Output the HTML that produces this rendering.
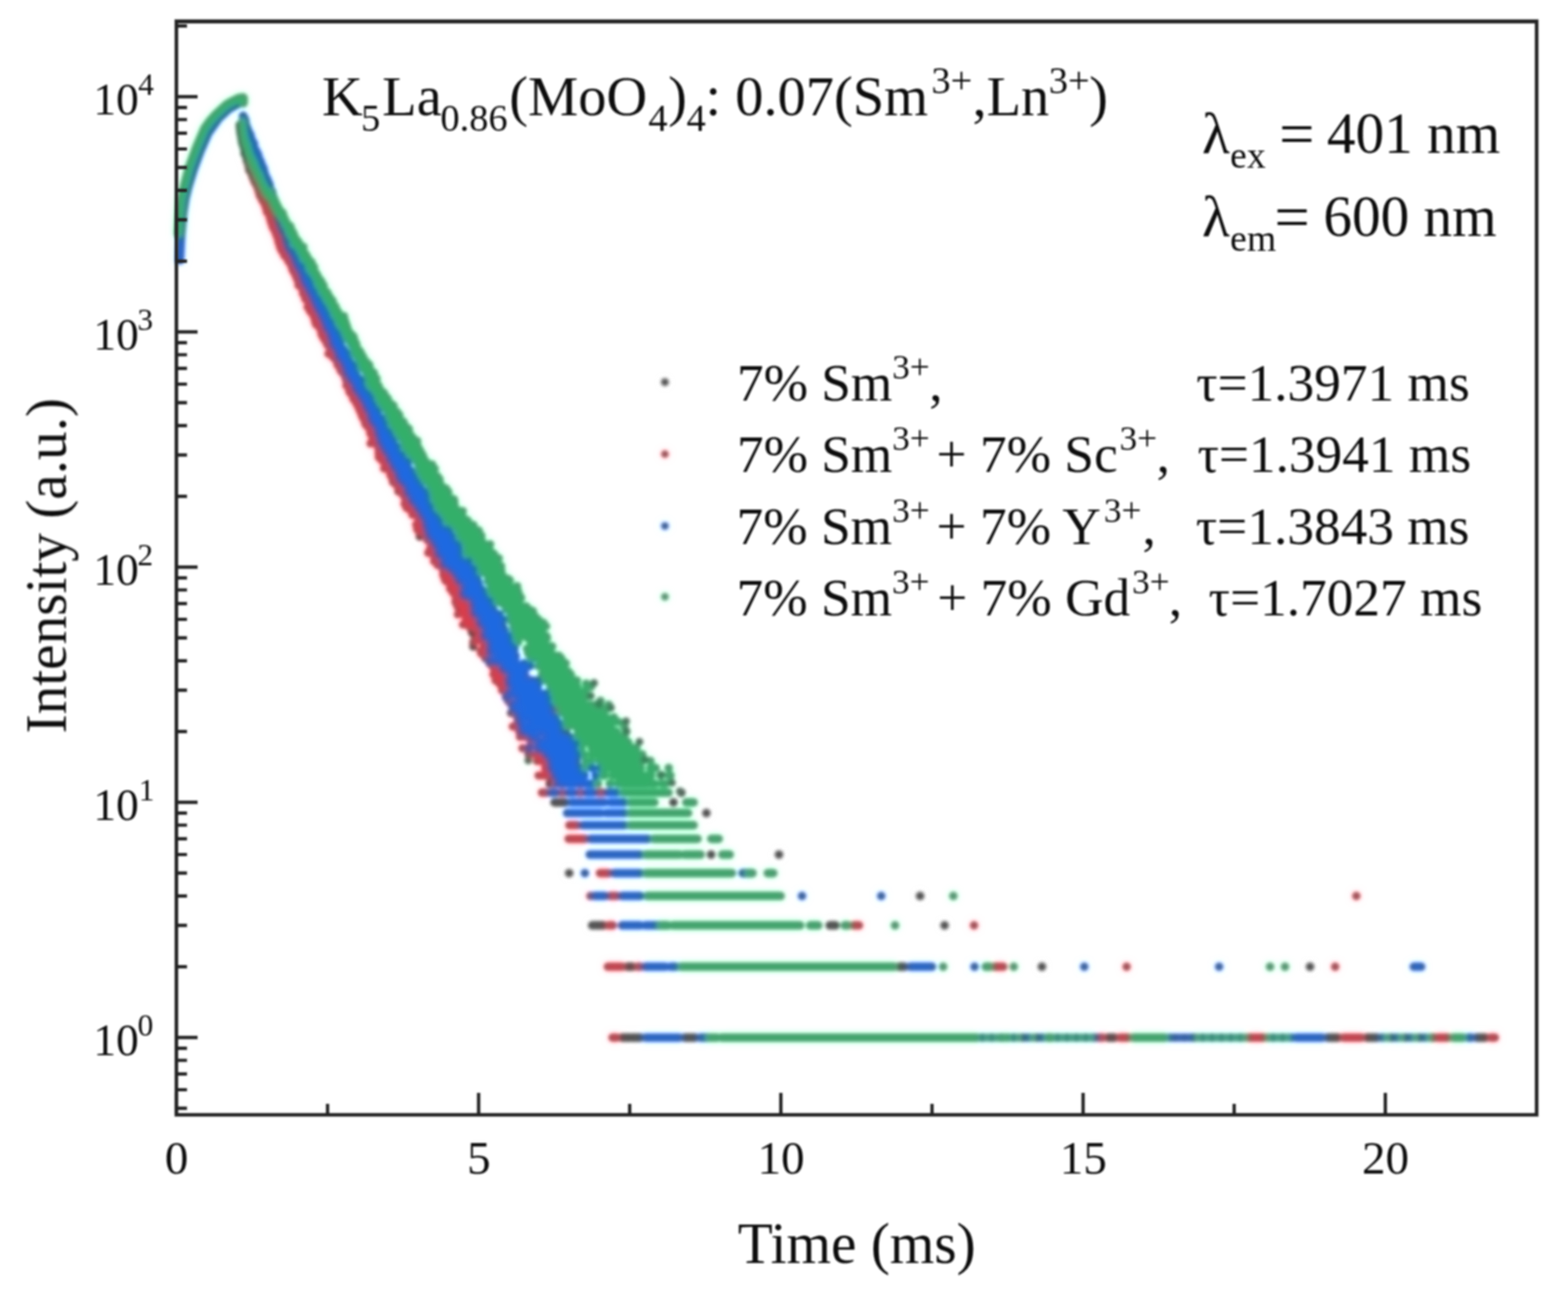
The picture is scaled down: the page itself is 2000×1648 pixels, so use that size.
<!DOCTYPE html>
<html><head><meta charset="utf-8"><title>Decay curves</title>
<style>html,body{margin:0;padding:0;background:#fff;overflow:hidden;}svg{display:block;}</style></head>
<body><svg width="2000" height="1648" viewBox="0 0 2000 1648">
<rect width="2000" height="1648" fill="#fff"/>
<defs><filter id="bd" filterUnits="userSpaceOnUse" x="-60" y="-60" width="2120" height="1768" color-interpolation-filters="sRGB"><feFlood flood-color="#fff" result="w"/><feComposite in="SourceGraphic" in2="w" operator="over" result="A"/><feGaussianBlur in="A" stdDeviation="2.2" result="As"/><feGaussianBlur in="A" stdDeviation="5" result="B"/><feColorMatrix in="As" type="matrix" values=".299 .587 .114 0 0 .299 .587 .114 0 0 .299 .587 .114 0 0 0 0 0 1 0" result="LA"/><feColorMatrix in="B" type="matrix" values="-.299 -.587 -.114 0 1 -.299 -.587 -.114 0 1 -.299 -.587 -.114 0 1 0 0 0 1 0" result="LBi"/><feComposite in="B" in2="LBi" operator="arithmetic" k1="0" k2="0.5" k3="0.5" k4="0" result="C"/><feComposite in="C" in2="LA" operator="arithmetic" k1="0" k2="2" k3="1" k4="-1"/></filter><filter id="bt" x="-2%" y="-2%" width="104%" height="104%"><feGaussianBlur stdDeviation="0.9"/></filter></defs>
<g id="data" filter="url(#bd)"><path d="M228.5,300.0 L230.0,275.0 L232.0,255.0 L236.0,237.0 L242.5,214.0 L251.5,190.0 L262.0,166.0 L276.0,147.0 L291.0,135.0 L306.0,129.0" fill="none" stroke="#555555" stroke-width="11" stroke-linecap="round" stroke-linejoin="round"/>
<path d="M306.0 159.4h0M306.1 159.9h0M306.3 163.4h0M306.5 162.2h0M306.6 165.9h0M306.8 167.3h0M307.1 170.1h0M307.2 169.3h0M307.4 171.3h0M307.5 171.6h0M307.7 172.8h0M307.9 172.5h0M308.0 174.6h0M308.2 172.9h0M308.3 176.4h0M308.6 175.8h0M308.8 179.8h0M308.9 177.7h0M309.1 179.0h0M309.2 182.4h0M309.4 180.4h0M309.6 178.5h0M309.7 180.3h0M309.9 180.6h0M310.0 182.3h0M310.2 183.1h0M310.3 178.3h0M310.5 183.0h0M310.6 182.3h0M310.8 187.3h0M310.9 185.4h0M311.1 186.1h0M311.2 184.6h0M311.4 187.2h0M311.6 188.7h0M311.9 190.3h0M312.0 195.6h0M312.2 191.0h0M312.3 188.9h0M312.5 191.3h0M312.6 193.1h0M312.8 191.5h0M312.9 195.6h0M313.1 192.3h0M313.2 195.1h0M313.4 193.6h0M313.6 194.6h0M313.7 198.1h0M313.9 198.9h0M314.0 193.7h0M314.2 199.0h0M314.3 194.6h0M314.5 199.2h0M314.6 198.6h0M314.8 200.8h0M314.9 201.5h0M315.1 205.1h0M315.2 202.1h0M315.4 204.2h0M315.6 202.4h0M315.7 203.2h0M315.9 205.4h0M316.0 206.8h0M316.3 203.8h0M316.5 205.8h0M316.6 206.3h0M316.8 208.3h0M317.1 207.3h0M317.3 212.3h0M317.4 207.4h0M317.6 208.1h0M317.7 206.8h0M317.9 207.8h0M318.2 217.2h0M318.3 213.0h0M318.5 213.9h0M318.6 214.5h0M318.8 209.1h0M318.9 211.4h0M319.1 213.1h0M319.3 213.7h0M319.4 212.3h0M319.6 215.9h0M319.7 218.2h0M319.9 214.1h0M320.2 219.2h0M320.3 214.5h0M320.5 217.2h0M320.6 217.4h0M320.8 217.5h0M321.0 216.9h0M321.1 220.2h0M321.3 217.1h0M321.4 222.2h0M321.6 219.5h0M321.7 220.3h0M321.9 221.7h0M322.2 224.7h0M322.5 220.3h0M322.6 223.5h0M322.8 224.9h0M323.0 224.5h0M323.1 227.3h0M323.3 223.7h0M323.4 228.1h0M323.6 227.5h0M323.7 227.8h0M323.9 222.5h0M324.0 227.1h0M324.2 225.6h0M324.4 227.0h0M324.5 227.7h0M324.7 230.5h0M324.8 226.0h0M325.0 227.1h0M325.1 232.4h0M325.3 227.2h0M325.4 230.6h0M325.6 228.0h0M325.7 232.5h0M325.9 228.3h0M326.1 226.5h0M326.2 229.2h0M326.4 230.4h0M326.5 230.0h0M326.7 230.6h0M326.8 233.0h0M327.0 232.4h0M327.1 232.7h0M327.3 234.1h0M327.4 230.2h0M327.6 236.7h0M327.7 233.1h0M327.9 231.2h0M328.1 238.0h0M328.2 235.1h0M328.4 234.3h0M328.5 232.9h0M328.7 234.9h0M328.8 237.2h0M329.0 238.6h0M329.1 236.5h0M329.3 235.3h0M329.4 240.2h0M329.6 240.8h0M329.8 242.2h0M329.9 237.2h0M330.1 242.3h0M330.5 240.5h0M330.7 242.3h0M330.8 239.3h0M331.0 245.2h0M331.3 243.2h0M331.4 249.3h0M331.6 243.4h0M331.8 246.2h0M331.9 241.9h0M332.1 242.9h0M332.2 244.2h0M332.4 244.8h0M332.5 247.6h0M332.7 245.0h0M332.8 243.4h0M333.0 248.5h0M333.1 250.4h0M333.3 251.8h0M333.4 248.2h0M333.6 250.4h0M333.8 248.1h0M333.9 244.9h0M334.1 250.6h0M334.2 248.0h0M334.4 249.7h0M334.5 250.7h0M334.7 255.7h0M334.8 251.8h0M335.0 250.5h0M335.3 252.2h0M335.4 248.8h0M335.6 253.5h0M336.1 256.3h0M336.2 256.6h0M336.4 253.0h0M336.5 254.7h0M336.7 255.5h0M336.8 253.3h0M337.0 255.0h0M337.1 255.9h0M337.3 254.9h0M337.5 257.1h0M337.6 257.1h0M337.8 255.1h0M338.1 258.4h0M338.2 255.6h0M338.4 258.3h0M338.5 257.8h0M338.7 259.8h0M338.8 261.0h0M339.5 257.7h0M339.6 259.9h0M339.8 258.5h0M339.9 261.8h0M340.1 262.6h0M340.2 259.9h0M340.4 260.7h0M340.5 263.8h0M340.7 265.5h0M340.9 262.2h0M341.0 268.8h0M341.2 261.8h0M341.3 269.2h0M341.5 266.6h0M341.6 265.9h0M341.8 267.1h0M341.9 265.5h0M342.1 267.4h0M342.2 268.0h0M342.4 267.1h0M342.6 265.5h0M342.7 270.2h0M342.9 265.6h0M343.0 263.8h0M343.2 267.3h0M343.5 270.5h0M343.6 269.1h0M343.8 269.8h0M343.9 272.7h0M344.2 264.1h0M344.4 273.0h0M344.6 271.0h0M344.9 273.1h0M345.0 274.2h0M345.2 272.7h0M345.3 270.0h0M345.5 268.6h0M345.6 271.9h0M346.1 277.3h0M346.2 270.3h0M346.4 273.8h0M346.6 273.6h0M346.7 269.7h0M346.9 276.6h0M347.0 274.4h0M347.2 273.2h0M347.3 277.6h0M347.5 279.8h0M347.6 278.4h0M347.8 273.0h0M347.9 274.0h0M348.1 275.0h0M348.2 280.1h0M348.4 276.2h0M348.6 281.1h0M348.7 274.3h0M348.9 278.0h0M349.0 277.3h0M349.2 280.0h0M349.5 285.0h0M349.6 279.3h0M349.8 283.0h0M349.9 282.4h0M350.1 284.0h0M350.3 281.9h0M350.4 284.2h0M350.6 282.3h0M350.7 282.5h0M351.0 285.1h0M351.2 285.7h0M351.3 287.2h0M351.5 288.3h0M351.6 289.2h0M351.8 287.2h0M351.9 285.6h0M352.1 289.5h0M352.3 288.1h0M352.4 292.0h0M352.6 289.2h0M352.7 294.3h0M352.9 286.6h0M353.0 291.2h0M353.2 295.3h0M353.3 288.5h0M353.5 291.7h0M353.6 293.2h0M354.0 297.1h0M354.1 287.1h0M354.3 292.3h0M354.4 293.4h0M354.6 293.6h0M355.0 298.4h0M355.2 293.2h0M355.3 296.0h0M355.5 297.4h0M355.6 298.1h0M355.8 296.1h0M356.0 301.8h0M356.1 293.8h0M356.3 300.7h0M356.4 296.0h0M356.6 306.2h0M356.7 302.6h0M356.9 295.8h0M357.0 303.6h0M357.2 301.0h0M357.4 302.0h0M357.5 300.0h0M358.1 303.9h0M358.4 307.8h0M358.6 310.9h0M358.7 308.7h0M358.9 306.8h0M359.0 307.8h0M359.4 308.9h0M359.5 305.2h0M359.7 303.9h0M359.8 309.6h0M360.0 310.5h0M360.1 309.3h0M360.3 304.0h0M360.4 307.9h0M360.6 308.5h0M360.7 306.1h0M360.9 315.0h0M361.1 305.5h0M361.2 306.5h0M361.4 316.8h0M361.5 312.0h0M361.7 310.0h0M362.1 313.1h0M362.3 307.2h0M362.4 307.8h0M362.6 314.7h0M362.8 314.1h0M362.9 315.1h0M363.1 317.9h0M363.2 312.6h0M363.4 313.5h0M363.5 317.6h0M363.7 317.4h0M363.8 313.6h0M364.0 317.6h0M364.1 319.2h0M364.3 315.0h0M364.4 318.6h0M364.6 316.5h0M364.8 318.7h0M364.9 317.0h0M365.1 316.2h0M365.2 309.7h0M365.4 320.7h0M365.5 312.5h0M365.7 318.9h0M365.8 317.6h0M366.0 321.1h0M366.1 325.0h0M366.3 321.6h0M366.4 321.0h0M366.6 319.0h0M366.8 316.8h0M366.9 325.9h0M367.1 320.4h0M367.2 325.2h0M367.4 323.5h0M367.5 327.2h0M367.7 321.1h0M367.8 321.9h0M368.0 325.2h0M368.1 322.2h0M368.3 329.3h0M368.4 322.3h0M368.6 321.7h0M368.8 327.6h0M368.9 327.1h0M369.1 325.9h0M369.2 325.3h0M369.4 326.1h0M369.5 324.0h0M369.7 322.5h0M369.8 328.0h0M370.0 320.9h0M370.1 331.6h0M370.3 333.7h0M370.5 327.5h0M370.6 331.8h0M370.8 328.9h0M370.9 327.4h0M371.1 328.0h0M371.2 325.9h0M371.4 327.4h0M371.5 329.7h0M371.7 329.4h0M371.8 330.6h0M372.0 336.7h0M372.1 331.7h0M372.3 332.8h0M372.5 334.5h0M372.6 324.1h0M372.8 332.2h0M372.9 334.2h0M373.1 334.6h0M373.2 334.5h0M373.4 328.0h0M373.5 330.8h0M373.7 335.0h0M373.9 340.1h0M374.0 333.6h0M374.2 333.5h0M374.3 332.4h0M374.6 334.9h0M374.8 339.2h0M375.1 341.1h0M375.2 332.1h0M375.4 341.6h0M375.5 337.3h0M375.7 338.9h0M375.9 337.2h0M376.0 339.8h0M376.2 334.6h0M376.3 337.7h0M376.5 335.5h0M376.6 340.2h0M376.8 339.1h0M376.9 333.4h0M377.1 344.8h0M377.2 346.8h0M377.4 341.1h0M377.6 346.9h0M377.7 339.7h0M377.9 346.9h0M378.0 342.2h0M378.2 339.8h0M378.3 343.9h0M378.6 342.5h0M378.8 345.7h0M378.9 342.6h0M379.1 344.4h0M379.2 345.8h0M379.4 346.6h0M379.6 348.7h0M379.9 348.1h0M380.0 340.9h0M380.2 353.8h0M380.3 355.7h0M380.5 351.9h0M380.6 350.9h0M380.9 341.5h0M381.1 345.9h0M381.2 352.3h0M381.4 352.7h0M381.6 356.5h0M381.7 348.9h0M381.9 355.5h0M382.0 354.0h0M382.2 349.9h0M382.3 359.4h0M382.5 350.3h0M382.6 349.2h0M382.9 349.9h0M383.1 352.2h0M383.2 357.0h0M383.4 354.1h0M383.6 349.3h0M383.7 358.9h0M383.9 352.7h0M384.0 356.2h0M384.2 355.2h0M384.3 362.5h0M384.5 353.0h0M384.6 365.0h0M384.8 359.1h0M384.9 357.5h0M385.1 360.2h0M385.3 358.0h0M385.4 357.3h0M385.6 356.4h0M385.7 351.2h0M385.9 364.8h0M386.0 362.7h0M386.2 360.1h0M386.3 366.9h0M386.5 357.4h0M386.6 366.5h0M386.8 362.6h0M387.1 364.0h0M387.3 358.0h0M387.4 367.6h0M387.6 369.7h0M387.7 359.0h0M387.9 367.2h0M388.2 371.1h0M388.3 371.5h0M388.5 368.2h0M388.6 361.6h0M388.8 369.4h0M389.0 368.2h0M389.1 364.7h0M389.3 365.8h0M389.4 364.0h0M389.6 369.9h0M389.7 366.5h0M389.9 368.6h0M390.0 362.2h0M390.2 371.2h0M390.4 374.7h0M390.5 374.0h0M390.7 366.1h0M390.8 369.4h0M391.0 380.4h0M391.1 371.9h0M391.4 371.0h0M391.6 381.3h0M391.7 368.2h0M391.9 373.2h0M392.0 367.0h0M392.2 375.1h0M392.4 372.1h0M392.5 381.2h0M392.7 364.1h0M392.8 372.6h0M393.0 376.2h0M393.1 374.4h0M393.4 377.8h0M393.6 377.4h0M393.7 380.5h0M393.9 378.5h0M394.1 374.4h0M394.2 380.2h0M394.4 373.6h0M394.5 378.7h0M394.7 378.1h0M395.0 378.9h0M395.1 382.5h0M395.3 383.5h0M395.4 379.5h0M395.6 389.0h0M395.7 378.4h0M395.9 384.2h0M396.1 388.8h0M396.2 382.3h0M396.4 383.9h0M396.5 381.3h0M396.8 390.4h0M397.0 383.5h0M397.1 380.0h0M397.3 382.4h0M397.4 383.7h0M397.6 388.0h0M397.8 386.1h0M397.9 385.4h0M398.1 388.3h0M398.2 389.1h0M398.4 388.2h0M398.5 391.4h0M398.7 395.3h0M398.8 383.6h0M399.0 394.7h0M399.4 390.3h0M399.6 392.6h0M399.8 392.4h0M399.9 396.0h0M400.1 392.4h0M400.2 388.1h0M400.4 397.2h0M400.5 391.4h0M400.8 394.7h0M401.0 387.1h0M401.1 395.2h0M401.3 392.3h0M401.4 391.1h0M401.6 393.3h0M401.8 395.8h0M401.9 396.8h0M402.1 400.0h0M402.2 396.9h0M402.4 393.3h0M402.5 395.5h0M402.7 393.5h0M402.8 395.1h0M403.0 394.0h0M403.1 396.6h0M403.3 400.6h0M403.4 403.7h0M403.6 401.0h0M403.8 395.4h0M403.9 403.6h0M404.1 406.8h0M404.2 392.5h0M404.4 398.2h0M404.5 401.5h0M405.0 404.7h0M405.1 398.4h0M405.3 404.1h0M405.5 409.4h0M405.6 405.6h0M405.8 397.6h0M405.9 409.4h0M406.1 409.6h0M406.2 397.3h0M406.4 409.4h0M406.5 404.2h0M406.7 409.1h0M406.9 406.6h0M407.2 414.6h0M407.3 410.6h0M407.6 403.4h0M407.8 410.4h0M407.9 409.2h0M408.1 409.7h0M408.2 416.4h0M408.4 409.7h0M408.5 408.1h0M408.7 416.1h0M408.9 412.5h0M409.0 408.5h0M409.2 413.2h0M409.3 404.3h0M409.5 413.2h0M409.6 410.3h0M409.8 414.0h0M409.9 407.7h0M410.1 414.2h0M410.2 411.1h0M410.4 414.3h0M410.6 411.3h0M410.7 414.2h0M411.0 417.7h0M411.2 418.8h0M411.3 416.1h0M411.5 416.9h0M411.6 411.7h0M411.8 416.7h0M411.9 415.7h0M412.1 411.7h0M412.2 418.9h0M412.4 411.5h0M412.6 415.6h0M412.7 414.0h0M412.9 418.0h0M413.0 418.7h0M413.3 415.6h0M413.5 424.3h0M413.6 420.8h0M413.8 417.7h0M413.9 421.6h0M414.1 415.9h0M414.2 428.0h0M414.4 423.0h0M414.6 415.3h0M414.7 420.1h0M414.9 425.4h0M415.0 418.9h0M415.2 427.1h0M415.3 424.2h0M415.5 431.7h0M415.6 423.9h0M415.8 425.0h0M416.1 424.2h0M416.2 420.7h0M416.4 425.2h0M416.6 421.9h0M416.7 421.2h0M416.9 422.9h0M417.0 423.5h0M417.2 429.4h0M417.3 427.8h0M417.5 425.0h0M417.6 423.5h0M417.8 425.8h0M417.9 440.1h0M418.1 431.1h0M418.3 432.9h0M418.4 430.5h0M418.6 428.6h0M418.7 432.4h0M418.9 426.6h0M419.0 428.9h0M419.2 430.9h0M419.3 430.1h0M419.5 433.7h0M419.6 427.2h0M419.8 435.3h0M419.9 431.1h0M420.1 423.7h0M420.3 433.0h0M420.4 437.0h0M420.6 428.9h0M420.7 430.6h0M420.9 436.7h0M421.0 430.8h0M421.2 434.3h0M421.3 437.6h0M421.5 435.3h0M421.6 439.6h0M421.8 439.0h0M422.0 440.1h0M422.1 439.5h0M422.3 430.9h0M422.4 442.9h0M422.6 436.1h0M422.7 432.7h0M422.9 436.7h0M423.0 437.6h0M423.2 442.3h0M423.4 440.6h0M423.5 434.0h0M423.6 442.3h0M423.8 440.8h0M424.0 440.2h0M424.1 433.8h0M424.3 439.8h0M424.4 448.0h0M424.6 437.7h0M424.7 443.1h0M424.9 441.5h0M425.0 447.8h0M425.4 435.1h0M425.5 434.7h0M425.7 445.3h0M425.8 442.6h0M426.0 431.2h0M426.1 444.9h0M426.3 451.0h0M426.4 440.6h0M426.6 438.4h0M426.7 446.0h0M426.9 436.0h0M427.1 446.1h0M427.2 435.5h0M427.4 452.3h0M427.5 442.9h0M427.7 444.4h0M427.8 438.1h0M428.0 450.4h0M428.3 432.4h0M428.4 449.4h0M428.6 454.3h0M428.7 442.3h0M428.9 446.4h0M429.1 445.2h0M429.2 449.6h0M429.4 451.2h0M429.5 441.7h0M429.7 450.9h0M429.8 449.3h0M430.0 451.5h0M430.3 440.6h0M430.4 445.8h0M430.6 447.4h0M430.8 453.9h0M430.9 455.3h0M431.1 452.1h0M431.2 447.8h0M431.4 442.8h0M431.5 455.1h0M431.7 446.0h0M431.8 455.1h0M432.0 448.1h0M432.1 448.9h0M432.3 454.1h0M432.4 455.4h0M432.6 452.3h0M432.8 454.1h0M433.1 454.6h0M433.2 450.5h0M433.4 452.8h0M433.5 455.4h0M433.7 451.5h0M433.8 449.3h0M434.0 452.8h0M434.1 459.3h0M434.3 459.8h0M434.4 461.9h0M434.6 465.3h0M434.8 459.5h0M434.9 461.9h0M435.1 455.6h0M435.2 458.1h0M435.4 459.0h0M435.5 463.5h0M435.7 457.8h0M435.8 464.6h0M436.0 456.3h0M436.1 453.6h0M436.3 461.4h0M436.4 454.3h0M436.6 460.9h0M436.8 461.8h0M436.9 455.8h0M437.1 472.9h0M437.2 464.1h0M437.4 466.9h0M437.5 459.2h0M437.7 467.7h0M437.8 459.3h0M438.0 460.2h0M438.1 468.4h0M438.3 463.7h0M438.5 459.7h0M438.6 462.8h0M438.8 468.4h0M438.9 460.0h0M439.2 473.3h0M439.4 471.0h0M439.5 468.4h0M439.7 464.9h0M439.9 475.2h0M440.0 463.2h0M440.1 471.6h0M440.3 475.2h0M440.5 474.4h0M440.6 472.3h0M440.8 471.4h0M440.9 464.4h0M441.2 467.3h0M441.4 471.8h0M441.5 471.2h0M441.7 468.4h0M442.0 477.5h0M442.2 472.7h0M442.3 469.9h0M442.5 478.9h0M442.6 481.8h0M442.8 479.3h0M442.9 465.3h0M443.1 474.8h0M443.2 473.1h0M443.4 478.7h0M443.6 481.6h0M443.7 475.0h0M443.9 478.9h0M444.0 476.2h0M444.2 472.7h0M444.3 475.6h0M444.5 476.9h0M444.6 488.2h0M444.8 479.5h0M444.9 475.4h0M445.1 482.8h0M445.2 484.8h0M445.4 481.9h0M445.6 483.0h0M445.7 486.5h0M445.9 475.6h0M446.0 477.3h0M446.2 478.5h0M446.3 485.5h0M446.5 487.6h0M446.6 490.6h0M446.8 492.4h0M446.9 479.7h0M447.1 481.8h0M447.2 483.0h0M447.4 481.9h0M447.6 488.9h0M447.7 493.0h0M447.9 483.6h0M448.0 488.2h0M448.2 491.5h0M448.3 485.7h0M448.5 483.8h0M448.6 485.3h0M448.8 486.1h0M448.9 496.2h0M449.1 484.0h0M449.2 485.1h0M449.4 496.4h0M449.6 486.7h0M449.7 489.9h0M449.9 488.2h0M450.0 501.1h0M450.2 484.8h0M450.5 490.6h0M450.6 488.2h0M450.8 492.4h0M450.9 490.2h0M451.1 498.7h0M451.3 489.9h0M451.4 494.6h0M451.6 494.6h0M451.7 494.1h0M451.9 496.6h0M452.0 493.0h0M452.2 497.8h0M452.3 492.6h0M452.5 494.8h0M452.6 492.4h0M452.8 497.1h0M452.9 493.5h0M453.1 500.1h0M453.4 490.4h0M453.6 492.6h0M453.7 495.1h0M453.9 506.1h0M454.0 498.2h0M454.2 495.7h0M454.3 502.5h0M454.5 509.6h0M454.6 503.0h0M454.8 504.6h0M455.0 492.6h0M455.1 495.1h0M455.3 498.9h0M455.4 502.0h0M455.6 505.1h0M455.7 495.1h0M455.9 498.9h0M456.0 509.9h0M456.2 503.0h0M456.4 509.1h0M456.5 507.9h0M456.6 503.7h0M456.8 509.1h0M457.0 512.1h0M457.1 507.1h0M457.4 499.6h0M457.6 518.5h0M457.7 512.4h0M457.9 504.4h0M458.0 510.6h0M458.2 511.9h0M458.4 503.7h0M458.5 507.6h0M458.7 506.6h0M458.8 505.6h0M459.0 508.9h0M459.1 514.2h0M459.3 508.4h0M459.4 519.6h0M459.6 519.6h0M459.7 507.1h0M459.9 514.0h0M460.1 505.9h0M460.2 515.5h0M460.4 509.9h0M460.5 510.4h0M460.7 509.4h0M460.8 524.9h0M461.0 509.4h0M461.1 518.8h0M461.3 514.2h0M461.4 510.9h0M461.6 509.9h0M461.7 515.8h0M461.9 511.1h0M462.1 513.5h0M462.2 510.1h0M462.4 505.6h0M462.5 513.2h0M462.7 519.0h0M462.8 532.8h0M463.0 527.1h0M463.1 524.0h0M463.3 522.0h0M463.4 508.6h0M463.6 517.1h0M463.8 514.2h0M463.9 531.0h0M464.1 527.1h0M464.2 511.4h0M464.4 522.9h0M464.5 516.9h0M464.7 515.8h0M464.8 526.0h0M465.0 529.5h0M465.1 534.9h0M465.3 519.3h0M465.4 520.1h0M465.6 517.7h0M465.9 514.2h0M466.1 540.5h0M466.2 527.1h0M466.4 531.9h0M466.5 520.9h0M466.8 534.0h0M467.0 538.3h0M467.1 529.2h0M467.3 531.3h0M467.4 520.7h0M467.6 524.9h0M467.8 534.3h0M467.9 529.8h0M468.1 532.8h0M468.2 531.3h0M468.4 530.4h0M468.5 526.3h0M468.7 537.4h0M468.8 528.9h0M469.0 531.5h0M469.1 529.5h0M469.3 524.0h0M469.4 533.4h0M469.6 524.6h0M469.9 537.0h0M470.1 535.5h0M470.4 532.5h0M470.5 538.6h0M470.8 544.4h0M471.0 541.5h0M471.1 532.8h0M471.3 537.4h0M471.5 535.2h0M471.6 531.0h0M471.8 530.1h0M471.9 533.7h0M472.1 537.7h0M472.2 531.9h0M472.4 543.4h0M472.5 537.0h0M472.7 531.3h0M472.8 528.6h0M473.0 533.4h0M473.1 538.9h0M473.3 546.8h0M473.5 536.4h0M473.6 530.4h0M473.8 545.4h0M473.9 535.8h0M474.1 541.2h0M474.2 539.6h0M474.4 536.1h0M474.5 538.0h0M474.7 530.7h0M474.9 532.1h0M475.0 541.2h0M475.2 546.4h0M475.3 549.5h0M475.5 544.1h0M475.6 546.4h0M475.8 542.1h0M475.9 543.1h0M476.2 548.1h0M476.4 532.8h0M476.6 538.6h0M476.7 540.5h0M476.9 537.4h0M477.0 548.4h0M477.2 553.3h0M477.5 542.1h0M477.6 543.8h0M477.8 558.3h0M477.9 536.1h0M478.1 539.2h0M478.2 540.8h0M478.4 547.8h0M478.6 546.4h0M478.7 547.4h0M478.9 550.5h0M479.0 544.4h0M479.2 564.0h0M479.3 551.5h0M479.5 543.8h0M479.6 553.6h0M479.8 538.0h0M479.9 550.8h0M480.1 547.1h0M480.2 555.4h0M480.4 546.4h0M480.6 551.9h0M480.7 562.0h0M480.9 550.1h0M481.0 562.4h0M481.2 560.2h0M481.3 556.9h0M481.5 545.4h0M481.6 558.3h0M481.8 549.1h0M481.9 556.1h0M482.1 557.6h0M482.2 562.4h0M482.4 560.5h0M482.6 560.5h0M482.7 569.8h0M482.9 555.8h0M483.0 560.2h0M483.2 557.2h0M483.3 573.5h0M483.5 546.1h0M483.6 546.8h0M483.8 562.8h0M483.9 548.8h0M484.1 566.7h0M484.3 561.7h0M484.4 552.9h0M484.6 579.8h0M484.7 560.5h0M484.9 563.6h0M485.0 560.5h0M485.2 567.5h0M485.3 564.3h0M485.5 568.2h0M485.6 565.5h0M486.1 569.0h0M486.3 565.5h0M486.4 569.8h0M486.6 570.6h0M486.7 564.7h0M487.0 569.4h0M487.3 561.3h0M487.5 575.1h0M487.6 566.7h0M487.8 572.3h0M488.0 579.0h0M488.1 582.5h0M488.3 579.4h0M488.4 574.3h0M488.6 583.3h0M488.7 567.5h0M489.0 567.9h0M489.2 566.7h0M489.3 578.1h0M489.5 579.4h0M489.6 577.7h0M489.8 565.5h0M490.0 574.3h0M490.1 566.7h0M490.3 575.1h0M490.4 570.6h0M490.6 573.5h0M490.7 566.7h0M490.9 575.6h0M491.0 590.7h0M491.2 571.5h0M491.4 578.5h0M491.5 565.1h0M491.7 569.0h0M491.8 580.3h0M492.0 583.3h0M492.1 585.6h0M492.3 555.1h0M492.4 594.0h0M492.6 565.9h0M492.7 574.7h0M492.9 586.0h0M493.0 575.1h0M493.2 570.6h0M493.4 585.6h0M493.5 576.8h0M493.7 584.7h0M493.8 581.6h0M494.0 580.3h0M494.1 578.1h0M494.3 581.6h0M494.6 589.7h0M494.7 573.1h0M494.9 580.7h0M495.1 577.3h0M495.2 587.4h0M495.4 583.8h0M495.5 597.9h0M495.7 581.6h0M495.8 595.9h0M496.0 581.6h0M496.1 586.0h0M496.3 579.0h0M496.4 594.0h0M496.6 569.0h0M496.8 585.1h0M496.9 587.9h0M497.1 591.1h0M497.2 597.9h0M497.4 587.9h0M497.5 583.8h0M497.7 591.1h0M497.8 590.2h0M498.0 580.7h0M498.1 589.2h0M498.3 599.4h0M498.4 600.9h0M498.6 597.9h0M498.8 590.2h0M498.9 583.3h0M499.1 588.3h0M499.4 602.0h0M499.5 584.2h0M499.7 588.3h0M499.8 597.9h0M500.0 605.6h0M500.1 597.9h0M500.3 595.9h0M500.4 585.1h0M500.6 610.4h0M500.8 590.2h0M500.9 598.4h0M501.1 593.0h0M501.2 592.1h0M501.4 614.9h0M501.5 597.9h0M501.7 612.1h0M501.8 602.0h0M502.0 587.4h0M502.1 585.6h0M502.3 602.0h0M502.4 599.9h0M502.6 609.9h0M502.8 595.9h0M502.9 587.9h0M503.1 614.3h0M503.2 593.0h0M503.4 600.4h0M503.5 609.3h0M503.7 593.5h0M504.0 607.7h0M504.1 616.6h0M504.3 599.9h0M504.5 606.1h0M504.6 587.9h0M504.8 597.4h0M505.1 603.5h0M505.2 616.0h0M505.4 594.5h0M505.5 609.3h0M505.7 597.4h0M505.8 603.5h0M506.0 600.9h0M506.1 604.0h0M506.3 597.9h0M506.5 596.9h0M506.6 598.4h0M506.8 610.4h0M506.9 606.1h0M507.1 603.0h0M507.2 598.9h0M507.4 596.4h0M507.5 615.5h0M507.7 617.2h0M507.9 612.6h0M508.0 601.4h0M508.2 612.1h0M508.3 626.7h0M508.5 609.3h0M508.6 609.3h0M508.8 604.5h0M508.9 602.0h0M509.1 611.0h0M509.2 606.1h0M509.4 608.3h0M509.5 614.9h0M509.7 602.5h0M509.9 594.5h0M510.0 595.0h0M510.2 606.1h0M510.3 623.7h0M510.5 614.9h0M510.6 612.1h0M510.8 606.1h0M510.9 618.3h0M511.1 599.4h0M511.2 592.5h0M511.4 613.2h0M511.6 612.1h0M511.7 612.6h0M511.9 616.0h0M512.0 612.6h0M512.3 605.1h0M512.5 614.3h0M512.6 616.0h0M512.8 607.2h0M512.9 615.5h0M513.1 612.1h0M513.4 614.9h0M513.5 618.9h0M513.7 597.4h0M513.9 616.6h0M514.0 613.2h0M514.2 626.7h0M514.3 625.5h0M514.5 607.7h0M514.6 616.0h0M514.8 619.5h0M514.9 607.2h0M515.1 616.0h0M515.2 604.5h0M515.4 618.3h0M515.6 620.7h0M515.7 623.7h0M515.9 611.0h0M516.0 617.8h0M516.2 614.3h0M516.3 622.5h0M516.5 631.1h0M516.6 621.3h0M516.8 613.8h0M517.0 613.2h0M517.1 618.3h0M517.2 624.9h0M517.4 608.8h0M517.6 632.4h0M517.7 618.9h0M517.9 624.3h0M518.0 613.2h0M518.2 607.7h0M518.3 628.0h0M518.5 621.3h0M518.6 619.5h0M519.0 618.3h0M519.1 636.4h0M519.3 626.1h0M519.4 620.1h0M519.6 624.9h0M519.7 629.9h0M519.9 612.6h0M520.0 626.7h0M520.2 628.0h0M520.3 611.5h0M520.5 631.1h0M520.6 630.5h0M520.8 613.8h0M521.0 615.5h0M521.1 633.1h0M521.3 617.2h0M521.4 633.7h0M521.6 637.1h0M521.7 626.1h0M521.9 646.1h0M522.0 639.1h0M522.2 630.5h0M522.3 619.5h0M522.5 630.5h0M522.6 632.4h0M522.8 620.1h0M523.0 617.8h0M523.1 624.3h0M523.3 635.7h0M523.4 616.0h0M523.6 617.2h0M523.7 621.3h0M523.9 623.1h0M524.0 626.1h0M524.2 639.8h0M524.4 621.9h0M524.5 629.2h0M524.7 628.0h0M524.8 626.1h0M525.0 629.9h0M525.1 635.7h0M525.3 639.1h0M525.4 611.5h0M525.6 628.6h0M525.9 643.2h0M526.0 633.1h0M526.2 627.4h0M526.4 616.6h0M526.5 624.3h0M526.7 651.2h0M526.8 631.1h0M527.0 636.4h0M527.1 644.7h0M527.3 641.9h0M527.4 625.5h0M527.6 629.2h0M527.7 637.1h0M527.9 627.4h0M528.0 624.3h0M528.2 641.9h0M528.4 637.7h0M528.5 624.9h0M528.7 641.9h0M528.8 634.4h0M529.0 641.1h0M529.1 632.4h0M529.3 646.1h0M529.4 644.7h0M529.6 637.1h0M529.7 631.1h0M529.9 652.0h0M530.0 640.5h0M530.2 644.7h0M530.4 631.8h0M530.5 644.0h0M530.7 629.9h0M530.8 649.8h0M531.0 644.0h0M531.1 642.5h0M531.3 646.8h0M531.4 646.1h0M531.6 633.1h0M531.8 637.1h0M531.9 637.7h0M532.1 655.8h0M532.2 626.1h0M532.4 640.5h0M532.5 654.3h0M532.7 635.7h0M532.8 658.1h0M533.0 641.9h0M533.1 631.8h0M533.3 655.0h0M533.5 653.5h0M533.6 650.5h0M533.8 642.5h0M533.9 635.7h0M534.1 642.5h0M534.2 661.4h0M534.4 634.4h0M534.5 647.5h0M534.7 641.9h0M534.8 652.0h0M535.0 652.7h0M535.1 640.5h0M535.3 652.7h0M535.5 684.3h0M535.6 650.5h0M535.8 637.7h0M535.9 649.8h0M536.1 665.5h0M536.2 650.5h0M536.4 639.8h0M536.5 640.5h0M536.7 650.5h0M536.8 647.5h0M537.0 661.4h0M537.1 643.2h0M537.3 671.4h0M537.5 649.0h0M537.6 646.8h0M537.8 646.1h0M537.9 660.5h0M538.1 656.6h0M538.2 649.0h0M538.4 649.8h0M538.5 654.3h0M538.7 658.1h0M538.8 641.1h0M539.0 649.8h0M539.1 637.7h0M539.3 652.0h0M539.5 659.7h0M539.6 660.5h0M539.8 642.5h0M539.9 652.7h0M540.1 668.0h0M540.2 658.1h0M540.4 650.5h0M540.5 656.6h0M540.7 662.2h0M540.9 657.4h0M541.0 666.3h0M541.2 668.0h0M541.3 656.6h0M541.5 665.5h0M541.6 672.3h0M541.8 652.7h0M541.9 659.7h0M542.1 675.0h0M542.2 668.0h0M542.4 665.5h0M542.5 664.6h0M542.7 651.2h0M542.9 665.5h0M543.2 652.0h0M543.3 637.7h0M543.5 659.7h0M543.6 672.3h0M543.8 646.1h0M543.9 649.8h0M544.1 668.9h0M544.2 653.5h0M544.4 645.4h0M544.5 672.3h0M544.7 677.7h0M544.9 663.0h0M545.0 679.6h0M545.2 669.7h0M545.3 671.4h0M545.5 659.0h0M545.6 672.3h0M545.8 674.1h0M545.9 685.3h0M546.1 670.6h0M546.2 658.1h0M546.4 671.4h0M546.5 659.0h0M546.7 676.8h0M546.9 661.4h0M547.0 678.6h0M547.2 667.1h0M547.3 658.1h0M547.5 673.2h0M547.6 666.3h0M547.9 679.6h0M548.1 668.9h0M548.2 685.3h0M548.4 675.9h0M548.6 689.2h0M548.7 664.6h0M548.9 678.6h0M549.0 672.3h0M549.2 676.8h0M549.3 677.7h0M549.5 666.3h0M549.6 662.2h0M549.8 685.3h0M549.9 671.4h0M550.1 674.1h0M550.2 666.3h0M550.4 679.6h0M550.6 683.3h0M550.7 675.0h0M551.0 664.6h0M551.2 677.7h0M551.3 672.3h0M551.5 653.5h0M551.6 693.3h0M551.8 668.0h0M552.0 675.0h0M552.1 697.5h0M552.3 685.3h0M552.4 693.3h0M552.6 693.3h0M552.7 677.7h0M552.9 675.9h0M553.0 678.6h0M553.2 658.1h0M553.3 685.3h0M553.5 677.7h0M553.6 684.3h0M553.8 683.3h0M554.0 685.3h0M554.1 689.2h0M554.3 682.4h0M554.4 677.7h0M554.6 679.6h0M554.7 665.5h0M554.9 675.0h0M555.0 688.2h0M555.2 672.3h0M555.3 685.3h0M555.5 704.1h0M555.6 700.7h0M555.8 690.2h0M556.0 688.2h0M556.1 686.2h0M556.3 701.8h0M556.4 666.3h0M556.6 667.1h0M556.7 684.3h0M556.9 705.2h0M557.0 690.2h0M557.2 695.4h0M557.4 694.3h0M557.5 695.4h0M557.6 690.2h0M557.8 692.3h0M558.0 706.3h0M558.1 693.3h0M558.3 685.3h0M558.4 695.4h0M558.6 693.3h0M558.7 709.8h0M558.9 692.3h0M559.0 686.2h0M559.4 693.3h0M559.5 702.9h0M559.7 691.2h0M559.8 700.7h0M560.0 694.3h0M560.1 696.4h0M560.3 673.2h0M560.4 704.1h0M560.6 698.6h0M560.7 695.4h0M560.9 685.3h0M561.0 682.4h0M561.2 704.1h0M561.4 691.2h0M561.5 719.5h0M561.7 707.5h0M561.8 699.6h0M562.0 708.6h0M562.1 701.8h0M562.3 699.6h0M562.4 690.2h0M562.6 702.9h0M562.7 705.2h0M562.9 702.9h0M563.0 700.7h0M563.2 687.2h0M563.4 718.3h0M563.5 708.6h0M563.7 701.8h0M563.8 713.4h0M564.0 704.1h0M564.1 702.9h0M564.3 707.5h0M564.4 702.9h0M564.6 691.2h0M564.8 712.2h0M564.9 700.7h0M565.1 699.6h0M565.2 712.2h0M565.4 697.5h0M565.5 717.0h0M565.7 714.6h0M565.8 702.9h0M566.0 718.3h0M566.1 704.1h0M566.3 720.8h0M566.4 709.8h0M566.6 714.6h0M566.8 719.5h0M567.1 706.3h0M567.2 696.4h0M567.4 707.5h0M567.5 696.4h0M567.7 731.5h0M567.8 722.1h0M568.0 728.7h0M568.1 704.1h0M568.3 707.5h0M568.5 719.5h0M568.6 732.9h0M568.8 731.5h0M568.9 711.0h0M569.1 709.8h0M569.2 708.6h0M569.4 719.5h0M569.5 714.6h0M569.7 740.1h0M569.8 741.5h0M570.0 728.7h0M570.1 709.8h0M570.3 701.8h0M570.5 713.4h0M570.6 720.8h0M570.8 724.7h0M570.9 730.1h0M571.1 728.7h0M571.2 713.4h0M571.4 727.4h0M571.5 713.4h0M571.7 702.9h0M571.8 724.7h0M572.0 730.1h0M572.1 698.6h0M572.3 724.7h0M572.5 741.5h0M572.6 728.7h0M572.8 713.4h0M572.9 734.3h0M573.1 740.1h0M573.2 711.0h0M573.4 722.1h0M573.5 713.4h0M573.7 701.8h0M573.9 741.5h0M574.0 720.8h0M574.1 728.7h0M574.3 732.9h0M574.5 738.6h0M574.6 734.3h0M574.8 738.6h0M574.9 720.8h0M575.1 726.0h0M575.2 731.5h0M575.4 715.8h0M575.5 726.0h0M575.7 734.3h0M576.0 722.1h0M576.3 743.0h0M576.5 734.3h0M576.6 740.1h0M576.8 717.0h0M576.9 749.3h0M577.1 720.8h0M577.2 728.7h0M577.4 727.4h0M577.5 717.0h0M577.7 744.6h0M577.9 738.6h0M578.0 723.4h0M578.2 728.7h0M578.3 747.7h0M578.5 714.6h0M578.6 735.7h0M578.8 731.5h0M578.9 746.1h0M579.1 731.5h0M579.2 718.3h0M579.4 752.5h0M579.5 735.7h0M579.7 737.1h0M579.9 741.5h0M580.0 746.1h0M580.2 738.6h0M580.3 724.7h0M580.5 747.7h0M580.6 749.3h0M580.8 752.5h0M580.9 734.3h0M581.1 768.0h0M581.2 730.1h0M581.4 741.5h0M581.6 746.1h0M581.7 731.5h0M581.9 740.1h0M582.0 749.3h0M582.2 722.1h0M582.3 755.8h0M582.5 743.0h0M582.6 747.7h0M582.8 730.1h0M582.9 749.3h0M583.1 755.8h0M583.2 740.1h0M583.4 731.5h0M583.6 740.1h0M583.7 773.6h0M583.9 746.1h0M584.0 741.5h0M584.2 737.1h0M584.3 738.6h0M584.5 759.2h0M584.6 752.5h0M584.8 738.6h0M585.0 740.1h0M585.1 746.1h0M585.3 726.0h0M585.4 752.5h0M585.6 746.1h0M585.7 771.8h0M585.9 743.0h0M586.0 754.1h0M586.2 740.1h0M586.3 731.5h0M586.5 754.1h0M586.6 757.5h0M586.8 760.9h0M587.0 759.2h0M587.1 743.0h0M587.3 781.5h0M587.4 762.6h0M587.6 760.9h0M587.7 764.4h0M587.9 735.7h0M588.0 749.3h0M588.2 775.6h0M588.3 738.6h0M588.5 744.6h0M588.6 738.6h0M588.8 752.5h0M589.0 740.1h0M589.1 757.5h0M589.3 749.3h0M589.4 750.9h0M589.6 744.6h0M589.7 755.8h0M589.9 757.5h0M590.0 730.1h0M590.3 779.5h0M590.5 762.6h0M590.6 759.2h0M590.8 750.9h0M591.0 775.6h0M591.1 755.8h0M591.3 740.1h0M591.4 755.8h0M591.6 759.2h0M591.7 760.9h0M591.9 740.1h0M592.0 732.9h0M592.2 759.2h0M592.4 762.6h0M592.5 775.6h0M592.7 766.2h0M592.8 744.6h0M593.0 754.1h0M593.1 759.2h0M593.3 757.5h0M593.4 766.2h0M593.6 764.4h0M593.7 769.9h0M593.9 777.5h0M594.0 764.4h0M594.2 743.0h0M594.4 747.7h0M594.5 764.4h0M594.7 743.0h0M594.8 754.1h0M595.1 764.4h0M595.3 775.6h0M595.4 749.3h0M595.6 764.4h0M595.7 777.5h0M595.9 764.4h0M596.0 747.7h0M596.2 768.0h0M596.4 757.5h0M596.5 757.5h0M596.7 771.8h0M596.8 747.7h0M597.0 744.6h0M597.1 787.8h0M597.3 752.5h0M597.4 750.9h0M597.6 752.5h0M597.8 773.6h0M597.9 755.8h0M598.0 760.9h0M598.2 790.0h0M598.4 750.9h0M598.5 750.9h0M598.7 764.4h0M598.8 769.9h0M599.0 777.5h0M599.1 771.8h0M599.3 755.8h0M599.4 787.8h0M599.6 781.5h0M599.8 747.7h0M599.9 757.5h0M600.1 754.1h0M600.2 775.6h0M600.4 785.7h0M600.5 755.8h0M600.7 771.8h0M600.8 752.5h0M601.0 764.4h0M601.3 777.5h0M601.5 790.0h0M601.6 790.0h0M601.8 806.1h0M601.9 759.2h0M602.1 779.5h0M602.2 766.2h0M602.4 769.9h0M602.5 768.0h0M602.7 798.9h0M602.8 769.9h0M603.0 787.8h0M603.1 777.5h0M603.3 750.9h0M603.5 808.6h0M603.6 785.7h0M603.8 824.6h0M603.9 819.0h0M604.1 769.9h0M604.2 757.5h0M604.4 783.6h0M604.5 747.7h0M604.7 771.8h0M604.8 783.6h0M605.0 798.9h0M605.1 790.0h0M605.3 754.1h0M605.5 783.6h0M605.6 771.8h0M605.8 790.0h0M605.9 781.5h0M606.2 760.9h0M606.4 747.7h0M606.5 787.8h0M606.7 785.7h0M606.8 792.1h0M607.0 785.7h0M607.1 781.5h0M607.3 813.7h0M607.5 750.9h0M607.6 806.1h0M607.8 787.8h0M607.9 775.6h0M608.1 794.4h0M608.2 781.5h0M608.4 808.6h0M608.5 777.5h0M608.7 787.8h0M608.9 794.4h0M609.0 808.6h0M609.2 777.5h0M609.5 764.4h0M609.6 785.7h0M609.8 801.3h0M609.9 787.8h0M610.1 760.9h0M610.2 781.5h0M610.5 798.9h0M610.7 775.6h0M610.9 768.0h0M611.0 792.1h0M611.2 794.4h0M611.3 790.0h0M611.5 798.9h0M611.6 777.5h0M611.8 794.4h0M611.9 764.4h0M612.1 783.6h0M612.2 792.1h0M612.4 796.6h0M612.5 811.1h0M612.7 794.4h0M612.9 787.8h0M613.0 794.4h0M613.2 781.5h0M613.3 790.0h0M613.5 768.0h0M613.6 794.4h0M613.8 779.5h0M613.9 775.6h0M614.1 783.6h0M614.2 787.8h0M614.4 796.6h0M614.5 787.8h0M614.7 783.6h0M615.0 790.0h0M615.2 787.8h0M615.3 777.5h0M615.5 783.6h0M615.6 790.0h0M615.8 779.5h0M615.9 796.6h0M616.1 801.3h0M616.2 803.7h0M616.4 768.0h0M616.6 781.5h0M616.7 777.5h0M616.9 808.6h0M617.0 824.6h0M617.2 790.0h0M617.3 781.5h0M617.5 819.0h0M617.6 811.1h0M617.8 801.3h0M618.0 792.1h0M618.1 808.6h0M618.3 794.4h0M618.4 787.8h0M618.6 808.6h0M618.7 790.0h0M618.9 811.1h0M619.2 839.6h0M619.3 808.6h0M619.5 816.3h0M619.6 808.6h0M619.8 813.7h0M620.0 808.6h0M620.1 794.4h0M620.3 787.8h0M620.4 813.7h0M620.6 803.7h0M620.7 816.3h0M620.9 806.1h0M621.0 821.8h0M621.2 777.5h0M621.3 796.6h0M621.5 811.1h0M621.6 821.8h0M621.8 811.1h0M622.0 819.0h0M622.1 803.7h0M622.3 811.1h0M622.4 794.4h0M622.6 816.3h0M622.7 785.7h0M622.9 839.6h0M623.0 813.7h0M623.2 824.6h0M623.3 821.8h0M623.5 813.7h0M623.6 808.6h0M623.8 839.6h0M624.0 816.3h0M624.4 839.6h0M624.6 830.4h0M624.7 827.4h0M624.9 796.6h0M625.0 833.4h0M625.2 824.6h0M625.4 785.7h0M625.5 798.9h0M625.7 811.1h0M625.8 821.8h0M626.0 792.1h0M626.1 803.7h0M626.3 824.6h0M626.4 808.6h0M626.6 803.7h0M626.7 821.8h0M626.9 792.1h0M627.0 811.1h0M627.2 798.9h0M627.4 811.1h0M627.5 806.1h0M627.7 808.6h0M627.8 790.0h0M628.0 813.7h0M628.1 830.4h0M628.3 833.4h0M628.4 813.7h0M628.6 811.1h0M628.7 827.4h0M628.9 824.6h0M629.0 777.5h0M629.2 798.9h0M629.4 827.4h0M629.5 824.6h0M630.0 816.3h0M630.1 783.6h0M630.3 806.1h0M630.4 816.3h0M630.6 827.4h0M630.8 811.1h0M630.9 827.4h0M631.0 852.9h0M631.2 849.5h0M631.4 830.4h0M631.5 852.9h0M631.7 808.6h0M631.8 839.6h0M632.0 836.4h0M632.1 827.4h0M632.3 836.4h0M632.4 821.8h0M632.6 819.0h0M632.8 839.6h0M632.9 816.3h0M633.1 824.6h0M633.2 803.7h0M633.5 846.1h0M633.7 839.6h0M633.8 833.4h0M634.0 836.4h0M634.1 839.6h0M634.3 846.1h0M634.5 821.8h0M634.6 819.0h0M634.8 836.4h0M634.9 833.4h0M635.1 846.1h0M635.2 821.8h0M635.4 816.3h0M635.5 821.8h0M635.7 824.6h0M636.0 839.6h0M636.1 806.1h0M636.3 849.5h0M636.5 827.4h0M636.6 856.5h0M636.8 821.8h0M636.9 839.6h0M637.1 811.1h0M637.2 871.9h0M637.4 821.8h0M637.5 830.4h0M637.7 852.9h0M637.8 830.4h0M638.0 846.1h0M638.1 852.9h0M638.3 806.1h0M638.5 839.6h0M638.6 824.6h0M638.8 842.8h0M638.9 813.7h0M639.1 842.8h0M639.2 821.8h0M639.4 839.6h0M639.5 852.9h0M639.7 839.6h0M639.8 867.9h0M640.0 856.5h0M640.1 833.4h0M640.3 824.6h0M640.5 856.5h0M640.6 830.4h0M640.8 839.6h0M640.9 864.0h0M641.1 846.1h0M641.2 798.9h0M641.4 849.5h0M641.5 839.6h0M641.7 836.4h0M642.0 839.6h0M642.6 867.9h0M642.8 839.6h0M642.9 849.5h0M643.1 819.0h0M643.2 842.8h0M643.4 830.4h0M643.5 867.9h0M643.7 846.1h0M643.9 842.8h0M644.0 830.4h0M644.2 852.9h0M644.3 836.4h0M644.5 842.8h0M644.6 830.4h0M644.8 842.8h0M644.9 860.2h0M645.1 864.0h0M645.2 856.5h0M645.4 813.7h0M645.5 856.5h0M645.7 846.1h0M645.9 871.9h0M646.0 867.9h0M646.2 846.1h0M646.3 833.4h0M646.5 852.9h0M646.6 827.4h0M646.8 833.4h0M646.9 846.1h0M647.1 849.5h0M647.2 880.3h0M647.4 864.0h0M647.5 839.6h0M647.7 860.2h0M647.9 827.4h0M648.0 849.5h0M648.2 871.9h0M648.3 839.6h0M648.5 864.0h0M648.6 880.3h0M648.8 860.2h0M648.9 849.5h0M649.1 876.0h0M649.2 864.0h0M649.4 836.4h0M649.6 889.2h0M649.7 871.9h0M649.9 864.0h0M650.0 876.0h0M650.6 839.6h0M650.8 860.2h0M651.0 842.8h0M651.2 849.5h0M651.6 856.5h0M651.7 867.9h0M651.9 871.9h0M652.0 909.3h0M652.2 871.9h0M652.3 839.6h0M652.5 846.1h0M652.6 876.0h0M652.8 898.9h0M653.0 836.4h0M653.1 849.5h0M653.3 898.9h0M653.4 884.7h0M653.6 880.3h0M653.7 856.5h0M653.9 852.9h0M654.0 864.0h0M654.2 884.7h0M654.3 880.3h0M654.5 871.9h0M654.6 842.8h0M654.8 889.2h0M655.0 842.8h0M655.1 884.7h0M655.3 856.5h0M655.4 876.0h0M655.6 864.0h0M655.7 852.9h0M655.9 889.2h0M656.0 852.9h0M656.2 909.3h0M656.3 867.9h0M656.5 864.0h0M656.6 894.0h0M656.8 876.0h0M657.0 860.2h0M657.1 894.0h0M657.3 880.3h0M657.4 884.7h0M657.6 856.5h0M657.7 836.4h0M657.9 856.5h0M658.0 860.2h0M658.2 909.3h0M658.4 864.0h0M658.5 867.9h0M658.7 860.2h0M658.8 871.9h0M659.0 864.0h0M659.1 871.9h0M659.3 849.5h0M659.4 894.0h0M659.6 871.9h0M659.7 860.2h0M659.9 904.0h0M660.0 914.9h0M660.2 867.9h0M660.4 920.7h0M660.5 852.9h0M660.7 898.9h0M660.8 871.9h0M661.0 894.0h0M661.1 889.2h0M661.3 894.0h0M661.4 867.9h0M661.6 876.0h0M661.7 867.9h0M661.9 860.2h0M662.0 889.2h0M662.4 876.0h0M662.5 867.9h0M662.7 884.7h0M663.1 920.7h0M663.4 867.9h0M663.6 867.9h0M663.7 871.9h0M663.9 889.2h0M664.0 904.0h0M664.2 894.0h0M664.4 884.7h0M664.5 880.3h0M664.7 884.7h0M664.8 904.0h0M665.0 909.3h0M665.1 926.7h0M665.3 894.0h0M665.4 884.7h0M665.6 884.7h0M665.8 914.9h0M665.9 909.3h0M666.1 871.9h0M666.2 914.9h0M666.4 884.7h0M666.5 889.2h0M666.7 876.0h0M666.8 909.3h0M667.0 914.9h0M667.1 933.1h0M667.3 894.0h0M667.4 898.9h0M667.6 904.0h0M667.8 914.9h0M667.9 889.2h0M668.1 914.9h0M668.2 920.7h0M668.4 933.1h0M668.5 880.3h0M668.7 898.9h0M668.8 889.2h0M669.0 876.0h0M669.1 914.9h0M669.3 904.0h0M669.5 894.0h0M669.6 904.0h0M669.8 894.0h0M669.9 880.3h0M670.1 920.7h0M670.2 939.8h0M670.4 876.0h0M670.5 920.7h0M670.7 894.0h0M670.8 898.9h0M671.0 909.3h0M671.1 920.7h0M671.3 884.7h0M671.5 894.0h0M671.6 894.0h0M671.8 904.0h0M671.9 894.0h0M672.2 880.3h0M672.4 909.3h0M672.5 939.8h0M672.7 894.0h0M672.8 939.8h0M673.0 894.0h0M673.1 939.8h0M673.3 914.9h0M673.5 954.3h0M673.6 926.7h0M673.9 909.3h0M674.1 898.9h0M674.2 909.3h0M674.4 962.2h0M674.5 871.9h0M674.7 898.9h0M674.9 894.0h0M675.0 920.7h0M675.1 898.9h0M675.3 920.7h0M675.5 889.2h0M675.6 933.1h0M675.8 926.7h0M675.9 894.0h0M676.1 904.0h0M676.2 933.1h0M676.4 920.7h0M676.5 920.7h0M676.9 933.1h0M677.0 914.9h0M677.2 926.7h0M677.3 904.0h0M677.5 914.9h0M677.6 894.0h0M677.8 926.7h0M677.9 920.7h0M678.2 889.2h0M678.4 867.9h0M678.5 933.1h0M678.7 920.7h0M678.9 904.0h0M679.0 946.8h0M679.2 904.0h0M679.5 926.7h0M679.6 909.3h0M679.8 920.7h0M679.9 933.1h0M680.1 920.7h0M680.2 894.0h0M680.4 920.7h0M680.5 909.3h0M680.7 933.1h0M680.9 914.9h0M681.0 920.7h0M681.3 926.7h0M681.5 884.7h0M681.6 884.7h0M681.8 904.0h0M681.9 926.7h0M682.1 920.7h0M682.2 926.7h0M682.4 946.8h0M682.6 946.8h0M682.7 920.7h0M682.9 909.3h0M683.2 920.7h0M683.3 926.7h0M683.5 904.0h0M683.6 898.9h0M683.8 914.9h0M683.9 920.7h0M684.2 904.0h0M684.6 926.7h0M684.9 920.7h0M685.0 933.1h0M685.2 914.9h0M685.3 970.6h0M685.5 904.0h0M685.6 914.9h0M686.0 909.3h0M686.1 904.0h0M686.3 920.7h0M686.4 894.0h0M686.6 962.2h0M686.7 920.7h0M686.9 933.1h0M687.0 867.9h0M687.2 920.7h0M687.5 894.0h0M687.6 914.9h0M687.8 909.3h0M688.0 933.1h0M688.1 954.3h0M688.3 933.1h0M688.4 898.9h0M688.6 946.8h0M688.7 954.3h0M688.9 920.7h0M689.0 970.6h0M689.2 904.0h0M689.3 914.9h0M689.5 946.8h0M689.6 920.7h0M689.8 914.9h0M690.0 939.8h0M690.1 933.1h0M690.3 970.6h0M690.4 939.8h0M690.6 926.7h0M690.7 920.7h0M690.9 946.8h0M691.0 926.7h0M691.2 920.7h0M691.4 926.7h0M691.5 914.9h0M691.6 926.7h0M691.8 939.8h0M692.0 962.2h0M692.1 926.7h0M692.3 946.8h0M692.4 939.8h0M692.6 926.7h0M692.7 933.1h0M692.9 926.7h0M693.0 939.8h0M693.2 920.7h0M693.5 954.3h0M693.7 970.6h0M693.8 926.7h0M694.0 946.8h0M694.3 898.9h0M694.4 933.1h0M694.6 920.7h0M694.7 909.3h0M694.9 939.8h0M695.0 962.2h0M695.4 946.8h0M695.5 933.1h0M695.7 939.8h0M696.0 898.9h0M696.1 979.6h0M696.4 920.7h0M696.6 970.6h0M696.7 962.2h0M696.9 926.7h0M697.0 946.8h0M697.2 962.2h0M697.4 909.3h0M697.5 939.8h0M697.7 962.2h0M697.8 920.7h0M698.0 933.1h0M698.1 946.8h0M698.3 954.3h0M698.4 933.1h0M698.6 979.6h0M698.8 989.2h0M698.9 946.8h0M699.1 979.6h0M699.2 939.8h0M699.4 933.1h0M699.5 939.8h0M699.7 970.6h0M699.8 962.2h0M700.0 954.3h0M700.1 904.0h0M700.3 962.2h0M700.4 914.9h0M700.6 933.1h0M700.8 979.6h0M700.9 914.9h0M701.1 999.6h0M701.2 989.2h0M701.4 933.1h0M701.5 933.1h0M701.7 954.3h0M701.8 970.6h0M702.0 954.3h0M702.1 933.1h0M702.3 939.8h0M702.6 954.3h0M702.8 946.8h0M702.9 939.8h0M703.1 970.6h0M703.2 946.8h0M703.4 939.8h0M703.5 962.2h0M703.7 946.8h0M703.8 970.6h0M704.0 914.9h0M704.1 979.6h0M704.3 920.7h0M704.5 933.1h0M704.6 962.2h0M704.8 979.6h0M704.9 962.2h0M705.1 954.3h0M705.2 989.2h0M705.4 954.3h0M705.5 946.8h0M705.8 920.7h0M706.0 970.6h0M706.1 946.8h0M706.3 933.1h0M706.5 962.2h0M706.6 970.6h0M706.8 920.7h0M706.9 946.8h0M707.1 939.8h0M707.2 954.3h0M707.4 946.8h0M707.5 946.8h0M707.7 954.3h0M708.0 989.2h0M708.3 979.6h0M708.5 954.3h0M708.6 970.6h0M708.8 954.3h0M708.9 970.6h0M709.2 926.7h0M709.4 970.6h0M709.7 970.6h0M709.9 933.1h0M710.0 939.8h0M710.2 954.3h0M710.3 962.2h0M710.5 939.8h0M710.6 979.6h0M710.8 954.3h0M710.9 920.7h0M711.1 989.2h0M711.2 962.2h0M711.4 954.3h0M711.5 970.6h0M711.7 962.2h0M711.9 970.6h0M712.5 962.2h0M712.6 970.6h0M712.8 933.1h0M712.9 962.2h0M713.1 989.2h0M713.2 979.6h0M713.4 946.8h0M713.5 979.6h0M713.7 962.2h0M713.9 946.8h0M714.0 962.2h0M714.2 954.3h0M714.3 962.2h0M714.5 954.3h0M714.6 962.2h0M714.9 946.8h0M715.1 999.6h0M715.4 979.6h0M715.7 954.3h0M715.9 962.2h0M716.2 999.6h0M716.3 962.2h0M716.5 979.6h0M716.6 946.8h0M716.8 962.2h0M716.9 979.6h0M717.2 962.2h0M717.6 939.8h0M717.7 999.6h0M717.9 979.6h0M718.2 999.6h0M718.3 933.1h0M718.5 999.6h0M718.6 999.6h0M719.1 989.2h0M719.3 962.2h0M719.4 989.2h0M719.6 989.2h0M719.9 999.6h0M720.0 989.2h0M720.3 954.3h0M720.5 999.6h0M720.6 954.3h0M720.8 939.8h0M721.0 970.6h0M721.3 989.2h0M721.4 970.6h0M721.6 933.1h0M721.9 979.6h0M722.0 970.6h0M722.2 954.3h0M722.3 970.6h0M722.5 962.2h0M722.8 970.6h0M723.0 939.8h0M723.3 989.2h0M723.4 970.6h0M723.6 979.6h0M723.7 962.2h0M724.2 989.2h0M724.5 962.2h0M724.6 979.6h0M724.8 926.7h0M725.0 989.2h0M725.6 970.6h0M725.9 999.6h0M726.0 989.2h0M726.2 954.3h0M726.4 939.8h0M726.5 979.6h0M726.7 970.6h0M726.8 979.6h0M727.0 989.2h0M727.1 954.3h0M727.3 979.6h0M727.6 962.2h0M728.0 979.6h0M728.2 970.6h0M728.4 999.6h0M728.5 979.6h0M728.8 999.6h0M729.1 979.6h0M729.3 946.8h0M729.6 962.2h0M729.7 999.6h0M730.2 954.3h0M730.5 979.6h0M731.3 989.2h0M731.6 999.6h0M731.9 979.6h0M732.5 979.6h0M732.8 999.6h0M733.8 999.6h0M734.5 999.6h0M735.1 970.6h0M737.5 979.6h0M738.2 999.6h0M740.4 979.6h0M752.9 999.6h0M707.3 1023.4H721.7M755.3 1180.3H769.7M1058.3 1180.3H1065.7M800.3 1233.1H806.7M1147.3 1233.1H1153.7M793.3 1323.4H816.7M873.3 1323.4H886.7M1413.3 1323.4H1421.7M1693.3 1323.4H1706.7M1743.3 1323.4H1756.7M1883.3 1323.4H1894.7" fill="none" stroke="#555555" stroke-width="11" stroke-linecap="round"/>
<path d="M869.0 1011.0h0M859.0 1023.4h0M901.0 1037.1h0M907.0 1090.0h0M993.6 1090.0h0M726.0 1113.7h0M1173.6 1142.8h0M1204.8 1180.3h0M1329.0 1233.1h0M1671.0 1233.1h0M1305.0 1323.4h0M1323.0 1323.4h0M1339.0 1323.4h0M1499.0 1323.4h0M1511.0 1323.4h0M1522.5 1323.4h0M1775.0 1323.4h0M1793.0 1323.4h0M1811.0 1323.4h0M1828.0 1323.4h0" fill="none" stroke="#555555" stroke-width="11" stroke-linecap="round"/>
<path d="M228.5,300.0 L230.0,275.0 L232.0,255.0 L236.0,237.0 L242.5,214.0 L251.5,190.0 L262.0,166.0 L276.0,147.0 L291.0,135.0 L306.0,129.0" fill="none" stroke="#dc3c4a" stroke-width="11" stroke-linecap="round" stroke-linejoin="round"/>
<path d="M318.0 204.9h0M318.3 207.5h0M318.5 205.3h0M318.6 207.3h0M318.8 205.4h0M319.1 209.6h0M319.2 207.1h0M319.5 206.4h0M319.7 207.2h0M319.9 212.6h0M320.0 209.0h0M320.2 211.7h0M320.3 212.8h0M320.5 211.9h0M320.6 210.0h0M320.8 213.8h0M320.9 213.3h0M321.1 210.1h0M321.2 213.2h0M321.4 215.8h0M321.6 211.5h0M321.7 211.5h0M321.9 214.3h0M322.0 215.5h0M322.2 217.4h0M322.5 214.7h0M322.6 218.8h0M322.8 217.2h0M322.9 218.5h0M323.1 217.8h0M323.2 220.1h0M323.4 216.5h0M323.6 217.5h0M323.7 221.0h0M323.9 216.8h0M324.0 222.0h0M324.2 221.2h0M324.3 219.5h0M324.6 224.8h0M324.8 227.0h0M324.9 222.8h0M325.1 224.2h0M325.2 222.7h0M325.4 226.7h0M325.6 224.0h0M325.7 229.9h0M325.9 228.3h0M326.0 227.1h0M326.2 230.8h0M326.3 222.5h0M326.5 230.0h0M326.6 227.7h0M326.8 230.5h0M326.9 228.6h0M327.1 230.1h0M327.2 228.8h0M327.4 229.8h0M327.6 230.0h0M327.7 230.9h0M327.9 233.3h0M328.3 232.1h0M328.5 235.1h0M328.6 229.1h0M328.8 234.4h0M328.9 237.5h0M329.1 237.1h0M329.3 234.8h0M329.6 237.9h0M329.7 236.0h0M329.9 244.2h0M330.0 235.6h0M330.2 235.1h0M330.3 237.1h0M330.5 239.6h0M330.6 238.9h0M330.9 243.2h0M331.1 238.3h0M331.3 242.0h0M331.4 241.3h0M331.6 245.3h0M331.7 244.1h0M331.9 244.6h0M332.0 247.7h0M332.2 242.9h0M332.5 245.1h0M332.6 240.3h0M332.8 243.4h0M333.1 246.8h0M333.3 245.4h0M333.4 245.5h0M333.6 250.7h0M333.7 248.3h0M333.9 245.6h0M334.0 248.3h0M334.2 252.7h0M334.4 254.2h0M334.5 244.9h0M334.6 250.0h0M335.1 249.4h0M335.3 253.7h0M335.4 253.3h0M335.6 253.0h0M336.0 251.7h0M336.2 253.1h0M336.5 254.0h0M336.7 255.7h0M336.8 251.3h0M337.0 256.9h0M337.1 253.9h0M337.3 258.4h0M337.6 261.0h0M337.7 259.0h0M337.9 260.3h0M338.1 260.6h0M338.4 258.5h0M338.5 260.4h0M338.7 262.2h0M338.8 260.7h0M339.1 262.2h0M339.4 266.0h0M339.6 261.3h0M339.7 261.9h0M339.9 264.8h0M340.1 266.5h0M340.2 263.7h0M340.5 270.6h0M340.7 263.1h0M340.8 266.2h0M341.0 264.4h0M341.1 263.4h0M341.3 268.0h0M341.6 270.4h0M341.8 266.7h0M341.9 264.3h0M342.1 267.7h0M342.2 269.6h0M342.5 268.6h0M342.7 271.5h0M342.8 270.8h0M343.0 270.3h0M343.3 270.9h0M343.4 271.7h0M343.6 274.1h0M343.9 270.6h0M344.1 277.8h0M344.2 274.1h0M344.4 276.6h0M344.5 276.1h0M344.7 274.9h0M344.8 278.0h0M345.0 276.8h0M345.1 280.4h0M345.3 275.1h0M345.4 276.0h0M345.6 280.0h0M345.8 284.0h0M345.9 279.1h0M346.2 280.3h0M346.4 284.0h0M346.5 279.5h0M346.7 281.9h0M346.8 283.6h0M347.0 280.4h0M347.1 280.7h0M347.3 282.3h0M347.4 284.0h0M347.6 289.3h0M347.8 282.9h0M347.9 287.2h0M348.1 282.9h0M348.2 288.1h0M348.4 290.9h0M348.5 284.7h0M348.7 282.1h0M348.8 287.6h0M349.0 289.4h0M349.1 284.6h0M349.3 284.5h0M349.5 290.2h0M349.6 287.9h0M349.8 290.8h0M350.1 287.2h0M350.2 288.2h0M350.4 292.5h0M350.5 289.0h0M350.7 287.0h0M350.8 294.3h0M351.0 296.2h0M351.3 287.5h0M351.5 295.0h0M351.6 291.6h0M351.8 290.4h0M351.9 292.9h0M352.2 296.1h0M352.4 297.9h0M352.5 295.7h0M352.7 295.3h0M352.9 301.3h0M353.0 298.1h0M353.2 300.8h0M353.5 295.3h0M353.6 301.9h0M353.8 298.1h0M353.9 299.5h0M354.2 301.5h0M354.4 300.9h0M354.6 302.4h0M354.7 300.5h0M354.9 307.6h0M355.0 308.6h0M355.2 302.3h0M355.3 302.8h0M355.6 304.1h0M355.8 308.3h0M355.9 305.1h0M356.1 299.9h0M356.2 309.3h0M356.6 309.1h0M356.7 306.3h0M356.9 314.7h0M357.0 308.1h0M357.2 310.0h0M357.3 307.0h0M357.6 312.1h0M357.8 313.5h0M358.1 311.5h0M358.2 308.3h0M358.4 314.4h0M358.6 309.0h0M358.7 318.6h0M358.9 314.3h0M359.0 313.0h0M359.2 311.9h0M359.3 309.2h0M359.5 314.4h0M359.6 319.8h0M359.8 309.2h0M359.9 320.7h0M360.1 307.8h0M360.2 315.9h0M360.4 311.8h0M360.6 319.2h0M360.7 316.5h0M360.9 319.1h0M361.0 312.1h0M361.2 319.2h0M361.3 320.2h0M361.5 314.5h0M361.6 316.5h0M361.8 319.4h0M362.1 319.6h0M362.3 319.0h0M362.4 320.7h0M362.6 326.2h0M362.7 321.7h0M363.0 323.2h0M363.2 319.7h0M363.3 320.6h0M363.5 322.6h0M363.6 317.9h0M363.8 323.6h0M363.9 318.4h0M364.1 319.4h0M364.3 323.5h0M364.6 320.0h0M364.7 318.1h0M365.0 319.5h0M365.2 327.9h0M365.3 323.6h0M365.5 324.6h0M365.6 326.0h0M365.8 326.7h0M366.0 322.7h0M366.1 327.7h0M366.3 326.4h0M366.6 325.4h0M366.7 322.4h0M366.9 327.4h0M367.0 330.0h0M367.2 325.4h0M367.3 330.6h0M367.5 332.9h0M367.6 324.2h0M367.8 326.6h0M368.1 328.6h0M368.3 329.7h0M368.4 321.1h0M368.6 331.8h0M368.7 330.4h0M368.9 326.3h0M369.0 331.3h0M369.2 332.5h0M369.4 329.2h0M369.5 327.0h0M369.7 328.6h0M369.8 331.1h0M370.0 333.8h0M370.1 334.7h0M370.3 331.5h0M370.4 328.4h0M370.6 337.3h0M371.0 335.3h0M371.2 331.3h0M371.4 337.1h0M371.5 337.6h0M371.7 334.6h0M371.8 335.6h0M372.0 334.5h0M372.1 340.1h0M372.3 340.9h0M372.4 336.3h0M372.6 337.4h0M372.7 338.3h0M372.9 343.2h0M373.1 344.2h0M373.2 336.8h0M373.4 343.5h0M373.5 343.7h0M373.7 337.8h0M373.8 335.7h0M374.0 343.2h0M374.1 346.2h0M374.3 341.9h0M374.4 336.6h0M374.6 337.5h0M374.8 341.4h0M374.9 340.5h0M375.2 345.9h0M375.4 342.9h0M375.5 341.4h0M375.7 338.9h0M375.8 341.3h0M376.0 343.2h0M376.1 345.6h0M376.3 343.8h0M376.4 349.7h0M376.6 350.6h0M376.8 344.5h0M377.1 349.8h0M377.2 344.2h0M377.4 348.3h0M377.5 347.5h0M377.7 349.0h0M377.8 351.4h0M378.0 346.5h0M378.1 352.9h0M378.3 347.1h0M378.4 354.9h0M378.6 349.2h0M378.8 353.7h0M378.9 351.9h0M379.1 355.8h0M379.2 355.1h0M379.4 354.0h0M379.5 350.5h0M379.7 357.4h0M379.8 353.3h0M380.0 355.2h0M380.1 353.4h0M380.3 350.3h0M380.4 357.3h0M380.6 363.8h0M380.8 358.1h0M380.9 358.9h0M381.1 356.2h0M381.2 357.4h0M381.5 359.1h0M381.7 356.5h0M381.8 355.9h0M382.0 353.0h0M382.1 358.1h0M382.3 359.5h0M382.5 360.9h0M382.6 358.1h0M382.8 357.2h0M382.9 361.5h0M383.1 352.9h0M383.2 360.9h0M383.4 362.2h0M383.5 366.1h0M383.7 361.5h0M384.0 357.0h0M384.1 363.6h0M384.6 362.5h0M385.1 367.5h0M385.2 358.9h0M385.4 360.8h0M385.5 360.0h0M385.7 363.3h0M385.9 366.3h0M386.0 368.2h0M386.2 374.3h0M386.3 368.5h0M386.5 365.1h0M386.6 372.7h0M386.9 369.2h0M387.1 371.0h0M387.2 366.8h0M387.4 374.3h0M387.5 373.3h0M387.7 372.1h0M387.9 370.1h0M388.0 366.2h0M388.2 372.0h0M388.3 375.4h0M388.5 367.2h0M388.6 370.4h0M388.8 371.3h0M388.9 374.8h0M389.1 369.6h0M389.2 381.3h0M389.4 376.9h0M389.6 379.2h0M389.7 371.1h0M389.9 375.7h0M390.0 381.8h0M390.2 374.4h0M390.5 378.4h0M390.6 380.4h0M390.8 377.8h0M390.9 379.9h0M391.1 372.9h0M391.2 379.8h0M391.4 379.0h0M391.6 381.3h0M391.7 375.8h0M391.9 375.4h0M392.0 380.2h0M392.2 378.4h0M392.3 391.5h0M392.5 381.9h0M392.6 383.0h0M392.9 376.1h0M393.1 383.1h0M393.2 381.8h0M393.4 383.1h0M393.6 385.6h0M393.7 383.5h0M393.9 382.7h0M394.2 382.1h0M394.3 387.0h0M394.5 381.1h0M394.6 379.0h0M394.8 379.6h0M394.9 381.6h0M395.1 384.6h0M395.2 389.1h0M395.4 397.0h0M395.6 387.7h0M395.7 394.0h0M395.9 386.2h0M396.0 389.6h0M396.2 392.6h0M396.3 389.2h0M396.5 391.3h0M396.6 388.6h0M396.8 388.4h0M396.9 393.9h0M397.1 396.3h0M397.3 395.5h0M397.4 393.8h0M397.6 393.2h0M397.7 395.2h0M397.9 390.0h0M398.0 396.3h0M398.2 394.9h0M398.3 386.6h0M398.5 395.9h0M398.6 391.4h0M398.8 389.6h0M399.0 391.9h0M399.1 401.6h0M399.3 392.3h0M399.4 401.2h0M399.6 399.5h0M399.7 402.5h0M399.9 393.4h0M400.0 396.2h0M400.3 399.4h0M400.5 400.7h0M400.6 397.4h0M400.8 400.2h0M401.0 398.5h0M401.1 405.6h0M401.3 403.4h0M401.4 397.9h0M401.6 401.0h0M401.7 409.3h0M401.9 410.0h0M402.0 400.9h0M402.2 406.1h0M402.4 402.4h0M402.5 405.2h0M402.7 401.4h0M402.8 403.9h0M403.0 413.7h0M403.1 403.8h0M403.3 401.6h0M403.4 402.7h0M403.6 402.3h0M403.7 408.1h0M403.9 410.0h0M404.0 401.2h0M404.2 409.1h0M404.4 408.4h0M404.5 407.6h0M404.7 405.5h0M404.8 400.5h0M405.0 409.3h0M405.1 402.7h0M405.3 404.9h0M405.4 409.1h0M405.6 409.4h0M405.7 410.6h0M405.9 409.7h0M406.1 404.5h0M406.4 416.3h0M406.5 414.6h0M406.7 411.5h0M406.8 410.0h0M407.0 410.8h0M407.1 417.5h0M407.3 417.3h0M407.4 415.3h0M407.6 417.7h0M407.7 413.5h0M407.9 411.2h0M408.1 412.9h0M408.2 418.8h0M408.4 416.7h0M408.5 417.9h0M408.7 416.7h0M408.8 416.2h0M409.0 415.1h0M409.1 413.5h0M409.3 420.7h0M409.4 415.6h0M409.6 419.2h0M409.8 425.6h0M409.9 420.4h0M410.1 422.5h0M410.2 420.1h0M410.4 416.1h0M410.5 416.4h0M410.7 420.1h0M410.8 424.4h0M411.0 421.7h0M411.1 420.1h0M411.4 416.9h0M411.6 429.4h0M411.8 426.0h0M411.9 418.7h0M412.1 413.4h0M412.2 421.2h0M412.5 424.7h0M412.7 426.2h0M412.8 417.3h0M413.0 418.9h0M413.1 430.6h0M413.3 430.1h0M413.4 424.7h0M413.6 425.2h0M413.8 433.0h0M413.9 431.1h0M414.1 425.0h0M414.4 424.2h0M414.5 426.8h0M414.7 428.3h0M414.8 422.9h0M415.0 425.4h0M415.1 424.1h0M415.3 425.6h0M415.4 432.4h0M415.6 420.4h0M415.8 419.0h0M415.9 432.9h0M416.1 431.3h0M416.2 429.3h0M416.4 429.8h0M416.5 435.0h0M416.7 429.3h0M416.8 427.1h0M417.0 438.6h0M417.1 428.0h0M417.3 429.7h0M417.5 433.1h0M417.6 433.4h0M417.9 423.9h0M418.1 438.3h0M418.2 432.9h0M418.4 435.1h0M418.5 434.4h0M418.9 451.2h0M419.0 432.9h0M419.2 434.8h0M419.3 434.3h0M419.5 433.0h0M419.6 433.8h0M419.8 440.2h0M419.9 430.9h0M420.1 437.3h0M420.2 431.6h0M420.4 440.6h0M420.5 441.7h0M420.7 439.8h0M420.9 440.6h0M421.0 441.8h0M421.2 439.5h0M421.3 434.8h0M421.5 445.5h0M421.6 438.3h0M421.8 450.4h0M421.9 440.2h0M422.2 434.8h0M422.4 445.5h0M422.6 445.6h0M422.7 438.0h0M422.9 448.8h0M423.0 450.2h0M423.2 443.1h0M423.3 436.0h0M423.5 442.6h0M423.6 448.1h0M423.8 438.1h0M423.9 444.1h0M424.1 449.9h0M424.2 439.6h0M424.4 450.5h0M424.6 444.1h0M424.7 442.1h0M424.9 455.9h0M425.0 444.6h0M425.2 451.8h0M425.3 444.9h0M425.5 455.3h0M425.6 447.7h0M425.8 443.4h0M425.9 444.6h0M426.1 448.3h0M426.2 447.2h0M426.4 449.7h0M426.6 445.5h0M426.7 455.3h0M426.9 441.8h0M427.0 449.4h0M427.5 450.4h0M427.6 456.9h0M427.8 458.1h0M427.9 452.5h0M428.1 453.6h0M428.4 445.3h0M428.6 452.0h0M428.7 451.0h0M428.9 453.4h0M429.2 458.0h0M429.3 450.7h0M429.5 453.9h0M429.6 456.4h0M429.8 462.1h0M429.9 456.9h0M430.1 451.8h0M430.3 461.9h0M430.4 455.3h0M430.6 465.7h0M430.7 459.3h0M430.9 446.0h0M431.0 461.4h0M431.2 453.3h0M431.3 460.7h0M431.5 454.4h0M431.6 454.4h0M431.8 458.0h0M431.9 456.8h0M432.1 463.9h0M432.3 457.4h0M432.4 455.8h0M432.6 463.2h0M432.7 455.9h0M432.9 460.4h0M433.0 461.2h0M433.2 457.6h0M433.3 454.3h0M433.5 455.8h0M433.8 465.8h0M434.0 470.8h0M434.1 457.6h0M434.3 469.1h0M434.4 472.5h0M434.6 458.6h0M434.7 465.1h0M434.9 466.6h0M435.0 459.0h0M435.2 471.0h0M435.4 466.6h0M435.5 469.1h0M435.6 471.6h0M435.8 455.4h0M436.0 459.5h0M436.1 470.1h0M436.3 465.3h0M436.4 470.8h0M436.6 463.5h0M436.7 460.4h0M436.9 468.2h0M437.0 466.4h0M437.2 476.0h0M437.5 468.6h0M437.7 465.7h0M437.8 472.5h0M438.0 464.1h0M438.1 467.8h0M438.3 466.7h0M438.4 475.8h0M438.6 474.8h0M438.7 472.7h0M438.9 471.6h0M439.1 466.7h0M439.2 470.8h0M439.4 469.5h0M439.5 468.6h0M439.7 475.2h0M439.8 472.9h0M440.0 476.8h0M440.1 474.0h0M440.3 477.3h0M440.4 468.4h0M440.6 482.8h0M440.7 481.6h0M440.9 477.5h0M441.1 474.8h0M441.2 472.9h0M441.4 476.8h0M441.5 483.8h0M441.7 477.9h0M441.8 491.7h0M442.0 485.3h0M442.1 473.6h0M442.3 484.2h0M442.4 486.9h0M442.6 482.2h0M442.8 486.5h0M443.1 482.6h0M443.2 478.5h0M443.5 484.6h0M443.7 483.8h0M443.8 485.3h0M444.0 483.8h0M444.1 481.3h0M444.4 484.8h0M444.6 490.2h0M444.8 476.6h0M444.9 485.9h0M445.1 488.0h0M445.2 485.1h0M445.4 498.9h0M445.5 484.4h0M445.8 482.6h0M446.0 493.2h0M446.1 500.4h0M446.3 487.2h0M446.4 483.2h0M446.6 483.8h0M446.8 486.5h0M446.9 497.1h0M447.1 489.3h0M447.2 496.2h0M447.4 502.2h0M447.5 494.8h0M447.8 494.1h0M448.0 495.9h0M448.1 486.5h0M448.3 500.8h0M448.4 492.8h0M448.6 488.9h0M448.8 493.9h0M448.9 500.8h0M449.1 493.0h0M449.2 491.3h0M449.4 485.9h0M449.5 487.8h0M449.7 495.1h0M449.8 492.6h0M450.0 499.6h0M450.1 503.0h0M450.3 500.6h0M450.5 502.5h0M450.6 508.9h0M450.8 497.6h0M450.9 497.1h0M451.1 505.9h0M451.2 500.6h0M451.4 507.1h0M451.5 506.1h0M451.7 501.5h0M451.9 496.4h0M452.1 501.3h0M452.3 493.5h0M452.5 496.9h0M452.6 497.3h0M452.8 495.7h0M452.9 509.6h0M453.1 500.6h0M453.2 504.2h0M453.4 510.9h0M453.5 507.4h0M453.7 511.1h0M453.9 509.9h0M454.0 499.9h0M454.2 514.0h0M454.3 513.2h0M454.5 512.4h0M454.6 511.1h0M454.8 504.6h0M454.9 506.9h0M455.1 510.9h0M455.2 507.6h0M455.4 510.4h0M455.6 505.1h0M455.7 506.9h0M456.0 514.0h0M456.2 508.4h0M456.3 506.9h0M456.5 518.2h0M456.6 512.1h0M456.8 503.4h0M456.9 505.6h0M457.1 519.3h0M457.2 507.1h0M457.4 516.3h0M457.6 508.6h0M457.7 501.3h0M457.9 509.9h0M458.0 514.5h0M458.2 511.9h0M458.3 508.9h0M458.5 522.3h0M458.6 507.1h0M458.8 523.7h0M458.9 513.5h0M459.1 520.1h0M459.2 513.7h0M459.4 513.5h0M459.6 514.5h0M459.7 524.6h0M459.9 518.0h0M460.2 513.5h0M460.3 524.0h0M460.5 517.4h0M460.6 524.6h0M460.9 520.9h0M461.1 528.9h0M461.2 522.6h0M461.4 527.7h0M461.6 516.6h0M461.7 520.4h0M461.9 512.1h0M462.0 523.2h0M462.2 518.2h0M462.3 524.0h0M462.5 528.9h0M462.6 531.9h0M462.8 523.4h0M463.1 525.1h0M463.3 520.9h0M463.4 524.9h0M463.6 520.7h0M463.7 526.9h0M463.9 524.9h0M464.0 520.4h0M464.2 533.7h0M464.3 525.4h0M464.5 521.2h0M464.6 524.6h0M464.9 521.8h0M465.1 530.7h0M465.3 526.9h0M465.4 530.1h0M465.6 531.0h0M465.7 539.6h0M465.9 528.0h0M466.2 526.0h0M466.3 520.4h0M466.5 532.5h0M466.6 535.5h0M466.8 535.2h0M467.0 536.4h0M467.1 542.1h0M467.3 535.8h0M467.4 532.8h0M467.6 540.5h0M467.7 542.8h0M467.9 541.8h0M468.0 535.2h0M468.2 528.9h0M468.4 534.6h0M468.5 539.9h0M468.6 544.1h0M468.8 538.9h0M469.0 529.8h0M469.1 535.5h0M469.3 538.0h0M469.4 526.9h0M469.6 529.2h0M469.7 544.4h0M469.9 537.4h0M470.0 543.8h0M470.2 538.3h0M470.4 531.3h0M470.5 540.2h0M470.7 544.1h0M470.8 541.8h0M471.0 536.7h0M471.1 546.1h0M471.3 530.1h0M471.4 542.1h0M471.6 533.7h0M471.7 545.1h0M471.9 544.1h0M472.1 552.6h0M472.2 548.4h0M472.4 547.1h0M472.5 535.8h0M472.7 565.5h0M472.8 545.8h0M473.0 541.5h0M473.1 547.1h0M473.3 531.3h0M473.4 541.5h0M473.6 549.5h0M473.7 542.8h0M473.9 552.9h0M474.1 540.2h0M474.2 543.1h0M474.4 540.2h0M474.5 552.6h0M474.7 542.1h0M474.8 557.6h0M475.1 554.4h0M475.3 545.4h0M475.4 538.9h0M475.6 542.1h0M475.8 548.8h0M475.9 546.8h0M476.1 545.1h0M476.2 559.4h0M476.4 548.4h0M476.5 553.6h0M476.7 538.0h0M476.8 551.2h0M477.0 563.6h0M477.1 547.1h0M477.3 557.2h0M477.4 542.8h0M477.6 545.8h0M477.8 552.9h0M477.9 550.8h0M478.1 558.0h0M478.2 547.8h0M478.4 540.2h0M478.5 552.6h0M478.7 544.8h0M478.8 564.0h0M479.0 554.4h0M479.1 564.7h0M479.3 552.6h0M479.4 552.2h0M479.6 552.6h0M479.8 546.1h0M479.9 554.0h0M480.1 565.9h0M480.2 565.1h0M480.4 552.6h0M480.5 564.0h0M480.7 560.2h0M480.8 565.1h0M481.0 560.9h0M481.1 556.5h0M481.4 562.4h0M481.6 568.2h0M481.8 569.8h0M481.9 557.6h0M482.1 564.0h0M482.2 550.5h0M482.4 559.8h0M482.5 558.7h0M482.7 565.5h0M482.8 577.7h0M483.0 569.8h0M483.1 583.3h0M483.3 575.1h0M483.5 568.2h0M483.6 571.0h0M483.8 564.7h0M483.9 569.4h0M484.1 561.7h0M484.2 570.2h0M484.4 563.6h0M484.5 557.6h0M484.7 565.5h0M484.8 563.2h0M485.0 568.2h0M485.1 572.7h0M485.3 575.6h0M485.5 566.3h0M485.6 567.5h0M485.8 565.1h0M485.9 581.1h0M486.1 571.9h0M486.2 582.5h0M486.4 576.0h0M486.5 563.2h0M486.7 587.0h0M486.9 567.9h0M487.0 578.5h0M487.2 570.2h0M487.3 573.9h0M487.5 587.0h0M487.6 581.1h0M487.8 563.2h0M487.9 579.4h0M488.1 571.5h0M488.2 571.9h0M488.4 573.9h0M488.6 573.5h0M488.7 579.4h0M488.9 576.4h0M489.0 579.8h0M489.2 567.9h0M489.3 570.6h0M489.5 573.9h0M489.6 581.6h0M489.8 572.3h0M489.9 597.4h0M490.1 577.7h0M490.2 577.3h0M490.4 568.6h0M490.6 586.0h0M490.7 582.9h0M490.9 579.0h0M491.0 591.6h0M491.2 589.2h0M491.3 584.2h0M491.5 595.9h0M491.6 588.3h0M491.8 584.2h0M491.9 574.7h0M492.1 567.1h0M492.2 585.1h0M492.4 579.8h0M492.6 580.3h0M492.7 595.9h0M492.9 590.7h0M493.0 597.9h0M493.2 593.5h0M493.3 587.0h0M493.5 581.1h0M493.6 581.6h0M493.8 584.7h0M493.9 580.7h0M494.1 574.3h0M494.2 593.0h0M494.4 590.7h0M494.6 588.3h0M494.7 594.5h0M494.9 591.6h0M495.0 581.1h0M495.2 584.7h0M495.3 586.5h0M495.5 593.0h0M495.6 584.2h0M495.8 583.3h0M496.1 598.4h0M496.3 584.2h0M496.4 592.1h0M496.6 573.9h0M496.7 591.6h0M496.9 593.0h0M497.0 583.3h0M497.2 587.4h0M497.3 578.5h0M497.5 590.7h0M497.6 580.3h0M497.8 595.0h0M497.9 606.1h0M498.1 595.9h0M498.3 587.4h0M498.4 594.5h0M498.6 582.5h0M498.7 588.8h0M498.9 594.5h0M499.0 586.0h0M499.2 588.3h0M499.3 576.8h0M499.5 589.2h0M499.6 583.3h0M499.8 606.1h0M500.0 606.6h0M500.1 593.5h0M500.3 609.3h0M500.4 593.0h0M500.6 579.0h0M500.7 596.9h0M500.9 588.3h0M501.0 600.4h0M501.2 593.0h0M501.3 594.5h0M501.5 594.0h0M501.6 599.4h0M501.8 601.4h0M502.0 588.3h0M502.1 594.0h0M502.3 602.0h0M502.4 597.4h0M502.6 609.9h0M502.7 595.5h0M502.9 593.5h0M503.0 615.5h0M503.2 600.4h0M503.4 611.5h0M503.5 598.9h0M503.7 606.1h0M503.8 601.4h0M504.0 609.3h0M504.1 605.6h0M504.3 609.3h0M504.4 617.2h0M504.6 605.6h0M504.7 605.1h0M504.9 600.4h0M505.0 615.5h0M505.2 614.3h0M505.4 596.4h0M505.5 609.3h0M505.7 598.9h0M505.8 591.6h0M506.0 616.6h0M506.1 601.4h0M506.3 612.6h0M506.4 597.4h0M506.6 611.5h0M506.7 609.9h0M506.9 607.2h0M507.1 612.1h0M507.2 597.4h0M507.4 615.5h0M507.5 621.3h0M507.7 602.5h0M507.8 595.9h0M508.0 604.0h0M508.1 605.1h0M508.3 620.7h0M508.4 608.3h0M508.6 605.1h0M508.8 607.2h0M508.9 609.3h0M509.1 599.9h0M509.2 602.0h0M509.4 609.9h0M509.5 614.3h0M509.7 617.2h0M509.8 595.5h0M510.0 612.6h0M510.3 620.7h0M510.4 607.2h0M510.6 602.5h0M510.8 627.4h0M510.9 612.1h0M511.1 614.3h0M511.2 623.7h0M511.4 616.0h0M511.5 625.5h0M511.7 628.6h0M511.8 619.5h0M512.0 614.3h0M512.1 606.6h0M512.3 614.3h0M512.5 614.9h0M512.6 602.5h0M512.8 611.0h0M512.9 619.5h0M513.1 622.5h0M513.2 620.1h0M513.4 611.5h0M513.5 615.5h0M513.7 628.0h0M513.8 614.9h0M514.0 618.3h0M514.1 611.0h0M514.3 623.1h0M514.5 622.5h0M514.6 620.7h0M514.8 623.1h0M514.9 616.6h0M515.1 633.1h0M515.2 620.7h0M515.5 613.2h0M515.7 625.5h0M515.8 630.5h0M516.0 642.5h0M516.1 608.8h0M516.3 630.5h0M516.5 623.1h0M516.6 632.4h0M516.8 611.0h0M516.9 629.2h0M517.1 622.5h0M517.2 609.9h0M517.4 629.9h0M517.5 609.3h0M517.7 623.7h0M517.8 618.9h0M518.0 618.3h0M518.1 619.5h0M518.3 620.7h0M518.5 647.5h0M518.6 619.5h0M518.8 615.5h0M518.9 623.1h0M519.1 618.9h0M519.2 632.4h0M519.4 625.5h0M519.5 624.9h0M519.7 623.7h0M519.9 627.4h0M520.0 635.7h0M520.2 625.5h0M520.5 619.5h0M520.6 620.7h0M520.8 639.8h0M520.9 635.7h0M521.1 649.0h0M521.2 628.6h0M521.4 625.5h0M521.5 646.8h0M521.7 623.1h0M521.9 627.4h0M522.0 637.1h0M522.2 628.0h0M522.3 626.1h0M522.5 635.7h0M522.6 645.4h0M522.8 628.6h0M522.9 622.5h0M523.1 644.0h0M523.2 642.5h0M523.4 621.3h0M523.5 628.6h0M523.7 633.7h0M523.9 642.5h0M524.0 638.4h0M524.2 648.3h0M524.3 633.1h0M524.5 643.2h0M524.6 632.4h0M524.8 627.4h0M524.9 640.5h0M525.1 652.0h0M525.2 626.1h0M525.4 628.0h0M525.5 639.8h0M525.7 630.5h0M525.9 634.4h0M526.0 656.6h0M526.2 645.4h0M526.3 656.6h0M526.5 639.8h0M526.6 640.5h0M526.8 650.5h0M526.9 620.7h0M527.1 631.1h0M527.2 646.1h0M527.4 644.7h0M527.6 650.5h0M527.7 641.1h0M527.9 638.4h0M528.0 646.1h0M528.2 635.7h0M528.3 641.1h0M528.5 648.3h0M528.6 641.1h0M528.8 655.0h0M529.0 639.1h0M529.1 645.4h0M529.2 636.4h0M529.4 647.5h0M529.6 640.5h0M529.9 637.7h0M530.0 649.0h0M530.2 647.5h0M530.3 646.8h0M530.5 644.0h0M530.6 654.3h0M530.8 668.9h0M531.0 648.3h0M531.1 650.5h0M531.3 638.4h0M531.4 651.2h0M531.6 643.2h0M531.7 640.5h0M531.9 628.6h0M532.0 675.0h0M532.2 641.9h0M532.3 646.8h0M532.5 639.1h0M532.6 655.0h0M532.8 644.7h0M533.0 637.1h0M533.1 659.7h0M533.3 655.8h0M533.4 653.5h0M533.6 641.1h0M533.7 647.5h0M533.9 666.3h0M534.0 652.7h0M534.2 646.8h0M534.3 652.7h0M534.5 664.6h0M534.6 653.5h0M534.8 642.5h0M535.0 678.6h0M535.1 650.5h0M535.3 653.5h0M535.6 646.1h0M535.7 644.7h0M536.0 663.8h0M536.2 651.2h0M536.4 647.5h0M536.5 649.8h0M536.7 660.5h0M536.8 652.7h0M537.0 661.4h0M537.1 664.6h0M537.3 660.5h0M537.4 652.0h0M537.6 654.3h0M537.7 663.0h0M537.9 653.5h0M538.0 660.5h0M538.2 663.8h0M538.4 661.4h0M538.5 666.3h0M538.7 663.0h0M538.8 664.6h0M539.0 667.1h0M539.1 647.5h0M539.3 656.6h0M539.4 642.5h0M539.6 666.3h0M539.7 663.8h0M539.9 665.5h0M540.0 659.0h0M540.2 649.0h0M540.4 660.5h0M540.5 637.7h0M540.7 659.7h0M540.8 653.5h0M541.0 668.9h0M541.1 668.0h0M541.3 667.1h0M541.4 670.6h0M541.6 683.3h0M541.7 666.3h0M541.9 675.0h0M542.0 666.3h0M542.2 655.8h0M542.4 664.6h0M542.5 679.6h0M542.7 673.2h0M542.8 654.3h0M543.0 664.6h0M543.1 668.0h0M543.4 673.2h0M543.6 665.5h0M543.8 668.0h0M543.9 670.6h0M544.1 660.5h0M544.2 671.4h0M544.4 667.1h0M544.5 665.5h0M544.7 683.3h0M544.8 676.8h0M545.0 680.5h0M545.1 689.2h0M545.3 667.1h0M545.5 673.2h0M545.6 675.0h0M545.8 676.8h0M545.9 675.0h0M546.1 669.7h0M546.2 705.2h0M546.4 670.6h0M546.5 682.4h0M546.7 678.6h0M546.8 681.4h0M547.0 687.2h0M547.1 671.4h0M547.3 687.2h0M547.5 682.4h0M547.6 674.1h0M547.8 689.2h0M547.9 673.2h0M548.1 683.3h0M548.2 681.4h0M548.4 679.6h0M548.5 699.6h0M548.7 674.1h0M548.8 681.4h0M549.0 684.3h0M549.1 660.5h0M549.3 679.6h0M549.5 667.1h0M549.6 677.7h0M549.8 676.8h0M549.9 682.4h0M550.1 681.4h0M550.2 679.6h0M550.4 684.3h0M550.5 680.5h0M550.7 684.3h0M550.8 694.3h0M551.0 679.6h0M551.1 687.2h0M551.3 691.2h0M551.5 702.9h0M551.6 687.2h0M551.9 692.3h0M552.1 680.5h0M552.2 675.0h0M552.4 694.3h0M552.5 685.3h0M552.7 707.5h0M552.9 682.4h0M553.2 675.0h0M553.3 694.3h0M553.5 678.6h0M553.6 715.8h0M553.8 709.8h0M553.9 671.4h0M554.1 694.3h0M554.2 692.3h0M554.5 701.8h0M554.7 694.3h0M554.9 684.3h0M555.0 699.6h0M555.2 682.4h0M555.3 702.9h0M555.5 690.2h0M555.6 678.6h0M555.8 684.3h0M555.9 698.6h0M556.1 689.2h0M556.2 709.8h0M556.4 691.2h0M556.5 707.5h0M556.7 697.5h0M556.9 694.3h0M557.0 686.2h0M557.2 693.3h0M557.3 685.3h0M557.5 691.2h0M557.6 704.1h0M557.8 690.2h0M557.9 692.3h0M558.1 679.6h0M558.2 720.8h0M558.4 700.7h0M558.5 691.2h0M558.7 682.4h0M558.9 695.4h0M559.0 691.2h0M559.2 718.3h0M559.3 708.6h0M559.5 706.3h0M559.6 705.2h0M559.8 689.2h0M559.9 708.6h0M560.1 702.9h0M560.2 719.5h0M560.4 704.1h0M560.6 702.9h0M560.7 689.2h0M560.9 701.8h0M561.0 702.9h0M561.2 693.3h0M561.3 700.7h0M561.5 704.1h0M561.6 704.1h0M561.8 707.5h0M561.9 684.3h0M562.1 692.3h0M562.2 713.4h0M562.4 706.3h0M562.6 701.8h0M562.7 702.9h0M562.9 715.8h0M563.0 705.2h0M563.2 701.8h0M563.3 690.2h0M563.5 705.2h0M563.6 719.5h0M563.8 706.3h0M564.0 720.8h0M564.1 708.6h0M564.3 712.2h0M564.4 698.6h0M564.6 699.6h0M564.7 724.7h0M564.9 694.3h0M565.0 714.6h0M565.2 727.4h0M565.3 732.9h0M565.5 712.2h0M565.6 700.7h0M565.8 726.0h0M566.1 712.2h0M566.3 713.4h0M566.4 735.7h0M566.6 724.7h0M566.7 693.3h0M566.9 712.2h0M567.0 691.2h0M567.2 722.1h0M567.3 711.0h0M567.5 718.3h0M567.6 707.5h0M567.8 740.1h0M568.0 727.4h0M568.1 730.1h0M568.3 719.5h0M568.4 717.0h0M568.6 718.3h0M568.7 719.5h0M568.9 712.2h0M569.0 719.5h0M569.2 712.2h0M569.4 709.8h0M569.5 720.8h0M569.6 713.4h0M569.8 740.1h0M570.0 714.6h0M570.1 741.5h0M570.3 705.2h0M570.4 719.5h0M570.6 706.3h0M570.7 713.4h0M570.9 724.7h0M571.0 712.2h0M571.2 737.1h0M571.4 730.1h0M571.5 719.5h0M571.7 732.9h0M571.8 731.5h0M572.0 722.1h0M572.1 717.0h0M572.3 735.7h0M572.4 717.0h0M572.6 730.1h0M572.7 732.9h0M572.9 707.5h0M573.0 726.0h0M573.2 722.1h0M573.4 734.3h0M573.5 743.0h0M573.7 719.5h0M573.8 731.5h0M574.0 750.9h0M574.1 719.5h0M574.3 727.4h0M574.4 724.7h0M574.6 744.6h0M574.7 709.8h0M574.9 740.1h0M575.0 743.0h0M575.2 741.5h0M575.4 720.8h0M575.5 747.7h0M575.7 715.8h0M575.8 746.1h0M576.0 730.1h0M576.1 731.5h0M576.3 718.3h0M576.4 737.1h0M576.6 731.5h0M576.8 726.0h0M576.9 723.4h0M577.1 724.7h0M577.2 750.9h0M577.4 741.5h0M577.5 755.8h0M577.7 724.7h0M577.8 744.6h0M578.0 726.0h0M578.1 731.5h0M578.3 752.5h0M578.4 707.5h0M578.6 731.5h0M578.8 737.1h0M578.9 752.5h0M579.1 728.7h0M579.2 752.5h0M579.4 734.3h0M579.5 728.7h0M579.7 737.1h0M579.8 738.6h0M580.0 750.9h0M580.1 755.8h0M580.3 746.1h0M580.5 741.5h0M580.6 744.6h0M580.8 750.9h0M580.9 752.5h0M581.1 724.7h0M581.2 764.4h0M581.4 732.9h0M581.5 740.1h0M581.7 759.2h0M582.0 768.0h0M582.1 735.7h0M582.3 766.2h0M582.5 737.1h0M582.6 755.8h0M582.8 741.5h0M582.9 744.6h0M583.1 750.9h0M583.2 771.8h0M583.4 755.8h0M583.5 741.5h0M583.7 750.9h0M583.8 771.8h0M584.0 783.6h0M584.1 762.6h0M584.3 755.8h0M584.5 762.6h0M584.6 746.1h0M584.8 754.1h0M585.1 750.9h0M585.2 764.4h0M585.4 738.6h0M585.5 757.5h0M585.7 764.4h0M585.9 738.6h0M586.0 743.0h0M586.1 768.0h0M586.3 760.9h0M586.5 743.0h0M586.6 737.1h0M586.8 738.6h0M586.9 749.3h0M587.1 771.8h0M587.2 759.2h0M587.4 754.1h0M587.5 750.9h0M587.7 740.1h0M587.9 752.5h0M588.0 750.9h0M588.2 768.0h0M588.3 747.7h0M588.5 728.7h0M588.6 769.9h0M588.8 740.1h0M588.9 764.4h0M589.1 749.3h0M589.2 750.9h0M589.4 741.5h0M589.5 747.7h0M589.7 755.8h0M589.9 762.6h0M590.0 759.2h0M590.2 766.2h0M590.3 747.7h0M590.5 750.9h0M590.6 796.6h0M590.8 759.2h0M590.9 744.6h0M591.1 773.6h0M591.2 737.1h0M591.4 757.5h0M591.5 740.1h0M591.7 781.5h0M591.9 764.4h0M592.0 771.8h0M592.2 775.6h0M592.5 746.1h0M592.6 760.9h0M592.8 768.0h0M592.9 760.9h0M593.1 771.8h0M593.2 764.4h0M593.4 760.9h0M593.6 755.8h0M593.7 762.6h0M593.9 787.8h0M594.0 750.9h0M594.2 735.7h0M594.3 759.2h0M594.5 769.9h0M594.6 768.0h0M594.8 777.5h0M594.9 755.8h0M595.1 764.4h0M595.2 783.6h0M595.4 764.4h0M595.6 775.6h0M595.7 741.5h0M595.9 777.5h0M596.0 781.5h0M596.3 764.4h0M596.5 754.1h0M596.6 762.6h0M596.8 771.8h0M597.0 750.9h0M597.1 779.5h0M597.3 757.5h0M597.4 781.5h0M597.6 769.9h0M597.9 759.2h0M598.0 798.9h0M598.2 766.2h0M598.3 781.5h0M598.5 775.6h0M598.6 762.6h0M598.8 796.6h0M599.1 766.2h0M599.3 760.9h0M599.4 768.0h0M599.6 764.4h0M599.7 771.8h0M599.9 787.8h0M600.0 759.2h0M600.2 777.5h0M600.3 787.8h0M600.5 779.5h0M600.6 792.1h0M600.8 769.9h0M601.1 777.5h0M601.3 760.9h0M601.4 769.9h0M601.6 790.0h0M601.7 759.2h0M601.9 775.6h0M602.0 779.5h0M602.2 777.5h0M602.3 790.0h0M602.5 760.9h0M602.6 783.6h0M603.0 775.6h0M603.1 771.8h0M603.3 785.7h0M603.4 773.6h0M603.6 792.1h0M603.7 752.5h0M603.9 783.6h0M604.0 773.6h0M604.2 762.6h0M604.4 790.0h0M604.5 757.5h0M604.7 754.1h0M604.8 771.8h0M605.0 801.3h0M605.1 764.4h0M605.3 794.4h0M605.4 819.0h0M605.6 766.2h0M605.7 768.0h0M605.9 775.6h0M606.2 790.0h0M606.4 775.6h0M606.5 781.5h0M606.7 785.7h0M606.8 768.0h0M607.0 771.8h0M607.1 777.5h0M607.3 759.2h0M607.4 769.9h0M607.6 783.6h0M607.7 790.0h0M607.9 783.6h0M608.0 787.8h0M608.2 779.5h0M608.4 792.1h0M608.5 762.6h0M608.7 792.1h0M608.8 813.7h0M609.0 783.6h0M609.1 798.9h0M609.3 783.6h0M609.4 816.3h0M609.6 781.5h0M609.8 785.7h0M609.9 766.2h0M610.0 777.5h0M610.2 783.6h0M610.4 803.7h0M610.5 790.0h0M610.7 798.9h0M610.8 769.9h0M611.0 794.4h0M611.1 790.0h0M611.3 796.6h0M611.4 787.8h0M611.6 796.6h0M611.8 798.9h0M612.1 775.6h0M612.2 806.1h0M612.4 790.0h0M612.5 811.1h0M612.7 808.6h0M612.8 787.8h0M613.0 798.9h0M613.1 830.4h0M613.3 794.4h0M613.5 790.0h0M613.6 816.3h0M613.8 833.4h0M613.9 777.5h0M614.1 771.8h0M614.2 787.8h0M614.4 801.3h0M614.5 806.1h0M614.7 790.0h0M614.8 794.4h0M615.0 792.1h0M615.1 794.4h0M615.3 811.1h0M615.5 816.3h0M615.6 785.7h0M615.8 811.1h0M615.9 819.0h0M616.1 769.9h0M616.2 830.4h0M616.4 762.6h0M616.5 819.0h0M616.7 808.6h0M616.8 798.9h0M617.0 830.4h0M617.1 775.6h0M617.3 816.3h0M617.5 833.4h0M617.6 811.1h0M617.8 801.3h0M617.9 783.6h0M618.1 792.1h0M618.4 813.7h0M618.5 808.6h0M618.7 811.1h0M618.8 819.0h0M619.0 813.7h0M619.1 787.8h0M619.3 796.6h0M619.5 813.7h0M619.6 816.3h0M619.8 830.4h0M619.9 813.7h0M620.2 798.9h0M620.4 808.6h0M620.5 794.4h0M620.7 816.3h0M621.0 821.8h0M621.2 839.6h0M621.3 821.8h0M621.6 816.3h0M621.8 787.8h0M621.9 827.4h0M622.1 808.6h0M622.2 819.0h0M622.4 801.3h0M622.5 819.0h0M622.7 790.0h0M623.0 798.9h0M623.2 808.6h0M623.3 796.6h0M623.5 808.6h0M623.6 813.7h0M623.8 808.6h0M623.9 816.3h0M624.1 827.4h0M624.2 833.4h0M624.4 846.1h0M624.5 827.4h0M624.7 821.8h0M624.9 811.1h0M625.0 801.3h0M625.2 811.1h0M625.3 816.3h0M625.5 813.7h0M625.6 821.8h0M625.8 824.6h0M626.1 813.7h0M626.2 806.1h0M626.4 824.6h0M626.5 827.4h0M626.7 816.3h0M626.9 824.6h0M627.0 801.3h0M627.2 827.4h0M627.3 833.4h0M627.5 816.3h0M627.6 842.8h0M627.8 811.1h0M627.9 849.5h0M628.1 798.9h0M628.2 836.4h0M628.4 806.1h0M628.6 827.4h0M628.7 830.4h0M628.9 816.3h0M629.0 830.4h0M629.2 836.4h0M629.3 860.2h0M629.5 830.4h0M629.6 821.8h0M629.8 839.6h0M630.0 852.9h0M630.1 839.6h0M630.3 846.1h0M630.4 813.7h0M630.6 824.6h0M630.7 833.4h0M630.9 830.4h0M631.0 833.4h0M631.2 846.1h0M631.5 806.1h0M631.6 839.6h0M632.0 867.9h0M632.1 816.3h0M632.3 827.4h0M632.4 849.5h0M632.6 819.0h0M632.7 827.4h0M632.9 830.4h0M633.2 824.6h0M633.3 833.4h0M633.5 846.1h0M633.6 813.7h0M633.8 824.6h0M634.0 827.4h0M634.1 824.6h0M634.4 836.4h0M634.6 824.6h0M634.7 867.9h0M634.9 819.0h0M635.0 821.8h0M635.2 824.6h0M635.3 827.4h0M635.5 830.4h0M635.6 846.1h0M635.8 867.9h0M636.0 849.5h0M636.1 821.8h0M636.3 833.4h0M636.6 813.7h0M636.7 836.4h0M636.9 846.1h0M637.0 839.6h0M637.2 836.4h0M637.4 833.4h0M637.5 824.6h0M637.7 842.8h0M637.8 816.3h0M638.0 842.8h0M638.1 824.6h0M638.3 842.8h0M638.4 839.6h0M638.6 833.4h0M638.7 836.4h0M638.9 860.2h0M639.0 821.8h0M639.2 816.3h0M639.4 833.4h0M639.5 827.4h0M639.7 856.5h0M639.8 849.5h0M640.0 842.8h0M640.1 849.5h0M640.3 880.3h0M640.4 833.4h0M640.6 876.0h0M640.7 827.4h0M640.9 842.8h0M641.0 876.0h0M641.2 833.4h0M641.4 849.5h0M641.5 864.0h0M641.7 852.9h0M641.8 880.3h0M642.0 846.1h0M642.1 836.4h0M642.3 849.5h0M642.4 871.9h0M642.6 871.9h0M642.8 860.2h0M642.9 846.1h0M643.0 864.0h0M643.2 830.4h0M643.4 839.6h0M643.5 871.9h0M643.7 856.5h0M643.8 880.3h0M644.0 846.1h0M644.1 864.0h0M644.3 860.2h0M644.4 833.4h0M644.6 880.3h0M644.8 864.0h0M644.9 839.6h0M645.1 871.9h0M645.2 889.2h0M645.4 836.4h0M645.5 849.5h0M645.7 860.2h0M645.8 884.7h0M646.0 860.2h0M646.1 849.5h0M646.3 867.9h0M646.6 860.2h0M646.8 852.9h0M647.2 884.7h0M647.4 864.0h0M647.5 864.0h0M647.7 880.3h0M647.8 849.5h0M648.0 852.9h0M648.1 894.0h0M648.3 871.9h0M648.5 864.0h0M648.6 867.9h0M648.8 846.1h0M648.9 867.9h0M649.1 842.8h0M649.2 880.3h0M649.4 849.5h0M649.5 849.5h0M649.7 864.0h0M649.8 846.1h0M650.0 852.9h0M650.1 871.9h0M650.3 842.8h0M650.5 871.9h0M650.6 884.7h0M650.8 846.1h0M650.9 880.3h0M651.2 852.9h0M651.4 871.9h0M651.5 849.5h0M651.7 884.7h0M651.8 856.5h0M652.0 852.9h0M652.1 898.9h0M652.3 876.0h0M652.5 852.9h0M652.6 884.7h0M652.8 836.4h0M652.9 867.9h0M653.1 852.9h0M653.2 856.5h0M653.4 889.2h0M653.5 867.9h0M653.7 880.3h0M653.9 856.5h0M654.0 894.0h0M654.2 926.7h0M654.3 889.2h0M654.5 871.9h0M654.6 909.3h0M654.8 852.9h0M654.9 876.0h0M655.1 871.9h0M655.2 884.7h0M655.4 894.0h0M655.5 880.3h0M655.7 871.9h0M655.9 876.0h0M656.0 884.7h0M656.2 909.3h0M656.3 898.9h0M656.5 889.2h0M656.6 871.9h0M656.8 852.9h0M656.9 894.0h0M657.1 884.7h0M657.4 898.9h0M657.5 898.9h0M657.7 860.2h0M657.9 864.0h0M658.0 909.3h0M658.2 876.0h0M658.3 880.3h0M658.5 864.0h0M658.6 876.0h0M658.8 871.9h0M658.9 860.2h0M659.1 889.2h0M659.2 876.0h0M659.4 894.0h0M659.5 889.2h0M659.7 880.3h0M660.2 894.0h0M660.3 856.5h0M660.5 880.3h0M660.6 920.7h0M660.8 864.0h0M660.9 920.7h0M661.1 898.9h0M661.2 867.9h0M661.4 926.7h0M661.6 909.3h0M661.7 898.9h0M661.9 920.7h0M662.0 884.7h0M662.2 933.1h0M662.3 884.7h0M662.5 876.0h0M662.6 889.2h0M662.8 871.9h0M663.0 849.5h0M663.1 876.0h0M663.2 939.8h0M663.4 884.7h0M663.6 933.1h0M663.7 876.0h0M663.9 898.9h0M664.0 880.3h0M664.2 904.0h0M664.3 884.7h0M664.5 860.2h0M664.6 898.9h0M664.8 884.7h0M665.0 871.9h0M665.1 933.1h0M665.3 864.0h0M665.4 880.3h0M665.6 926.7h0M665.7 880.3h0M665.9 856.5h0M666.0 898.9h0M666.2 914.9h0M666.3 871.9h0M666.5 954.3h0M666.6 880.3h0M666.8 909.3h0M667.0 920.7h0M667.1 871.9h0M667.3 926.7h0M667.4 876.0h0M667.6 920.7h0M667.7 894.0h0M667.9 904.0h0M668.0 914.9h0M668.2 894.0h0M668.3 889.2h0M668.5 920.7h0M668.6 894.0h0M668.8 939.8h0M669.0 884.7h0M669.1 920.7h0M669.3 894.0h0M669.4 884.7h0M669.6 909.3h0M669.7 884.7h0M669.9 889.2h0M670.0 926.7h0M670.4 909.3h0M670.5 898.9h0M670.7 898.9h0M670.8 884.7h0M671.0 920.7h0M671.1 894.0h0M671.3 864.0h0M671.4 904.0h0M671.6 909.3h0M671.7 876.0h0M671.9 884.7h0M672.0 889.2h0M672.2 904.0h0M672.4 894.0h0M672.5 914.9h0M673.0 889.2h0M673.1 898.9h0M673.3 904.0h0M673.4 867.9h0M673.6 894.0h0M673.7 914.9h0M673.9 933.1h0M674.0 884.7h0M674.2 894.0h0M674.4 909.3h0M674.5 933.1h0M674.7 904.0h0M674.8 914.9h0M675.0 933.1h0M675.1 909.3h0M675.3 904.0h0M675.4 933.1h0M675.6 894.0h0M675.9 904.0h0M676.0 920.7h0M676.4 933.1h0M676.5 962.2h0M676.7 898.9h0M676.8 920.7h0M677.0 946.8h0M677.1 884.7h0M677.3 898.9h0M677.4 909.3h0M677.6 939.8h0M677.8 920.7h0M677.9 933.1h0M678.1 876.0h0M678.2 898.9h0M678.4 904.0h0M678.5 914.9h0M678.7 894.0h0M678.8 909.3h0M679.0 894.0h0M679.1 904.0h0M679.3 909.3h0M679.4 894.0h0M679.6 946.8h0M679.8 926.7h0M679.9 898.9h0M680.1 939.8h0M680.2 933.1h0M680.4 946.8h0M680.5 926.7h0M680.7 909.3h0M680.8 939.8h0M681.0 926.7h0M681.1 898.9h0M681.3 926.7h0M681.6 926.7h0M681.8 933.1h0M681.9 946.8h0M682.2 920.7h0M682.4 904.0h0M682.5 914.9h0M682.7 926.7h0M682.8 904.0h0M683.5 920.7h0M683.6 962.2h0M683.9 933.1h0M684.4 946.8h0M684.5 926.7h0M684.7 889.2h0M684.8 933.1h0M685.1 920.7h0M685.5 954.3h0M685.6 926.7h0M685.8 954.3h0M686.1 933.1h0M686.2 920.7h0M686.5 970.6h0M686.7 909.3h0M687.0 989.2h0M687.1 920.7h0M687.3 939.8h0M687.5 909.3h0M687.6 894.0h0M687.8 898.9h0M687.9 939.8h0M688.1 954.3h0M688.4 962.2h0M688.5 939.8h0M688.7 933.1h0M689.0 946.8h0M689.2 914.9h0M689.3 904.0h0M689.5 933.1h0M689.6 954.3h0M689.8 920.7h0M689.9 914.9h0M690.1 939.8h0M690.2 954.3h0M690.4 946.8h0M690.5 933.1h0M690.7 970.6h0M690.9 946.8h0M691.2 962.2h0M691.3 989.2h0M691.5 946.8h0M691.6 970.6h0M691.8 939.8h0M691.9 962.2h0M692.1 939.8h0M692.2 914.9h0M692.4 939.8h0M692.5 933.1h0M692.9 939.8h0M693.0 898.9h0M693.2 954.3h0M693.3 933.1h0M693.6 933.1h0M693.8 946.8h0M693.9 933.1h0M694.1 946.8h0M694.2 989.2h0M694.4 933.1h0M694.6 939.8h0M694.7 970.6h0M694.9 954.3h0M695.2 933.1h0M695.3 979.6h0M695.6 939.8h0M695.8 914.9h0M695.9 962.2h0M696.1 920.7h0M696.2 989.2h0M696.4 979.6h0M696.6 920.7h0M696.7 926.7h0M696.9 962.2h0M697.0 954.3h0M697.2 939.8h0M697.3 962.2h0M697.5 954.3h0M697.6 954.3h0M698.0 939.8h0M698.1 926.7h0M698.3 939.8h0M698.4 962.2h0M698.6 954.3h0M698.7 926.7h0M698.9 939.8h0M699.0 926.7h0M699.2 979.6h0M699.3 914.9h0M699.5 926.7h0M699.6 933.1h0M699.8 954.3h0M700.0 939.8h0M700.4 962.2h0M700.6 962.2h0M700.7 933.1h0M700.9 979.6h0M701.0 939.8h0M701.2 946.8h0M701.3 979.6h0M701.5 933.1h0M701.6 970.6h0M701.8 962.2h0M702.0 954.3h0M702.1 933.1h0M702.3 954.3h0M702.4 933.1h0M702.6 946.8h0M702.7 989.2h0M702.9 954.3h0M703.0 979.6h0M703.2 962.2h0M703.4 970.6h0M703.5 954.3h0M703.8 933.1h0M704.0 979.6h0M704.1 933.1h0M704.3 989.2h0M704.4 914.9h0M704.6 946.8h0M704.7 970.6h0M705.2 954.3h0M705.4 970.6h0M705.5 962.2h0M705.7 933.1h0M705.8 962.2h0M706.0 946.8h0M706.1 970.6h0M706.3 989.2h0M706.4 962.2h0M706.6 999.6h0M706.7 933.1h0M706.9 904.0h0M707.0 946.8h0M707.2 970.6h0M707.4 999.6h0M707.5 939.8h0M707.7 970.6h0M707.8 939.8h0M708.0 979.6h0M708.1 954.3h0M708.4 939.8h0M708.6 946.8h0M708.7 979.6h0M708.9 970.6h0M709.0 979.6h0M709.2 970.6h0M709.4 989.2h0M709.5 970.6h0M710.1 979.6h0M710.3 970.6h0M710.4 979.6h0M710.6 979.6h0M710.8 970.6h0M710.9 989.2h0M711.1 970.6h0M711.2 962.2h0M711.4 979.6h0M711.5 979.6h0M711.7 962.2h0M712.1 970.6h0M712.4 962.2h0M712.6 954.3h0M712.8 962.2h0M713.2 979.6h0M713.5 954.3h0M713.7 979.6h0M713.8 954.3h0M714.0 979.6h0M714.1 970.6h0M714.3 962.2h0M714.5 999.6h0M714.6 954.3h0M714.8 962.2h0M714.9 954.3h0M715.1 999.6h0M715.2 954.3h0M715.4 970.6h0M715.5 970.6h0M715.7 939.8h0M715.8 979.6h0M716.0 970.6h0M716.1 989.2h0M716.3 979.6h0M716.5 989.2h0M716.6 970.6h0M716.9 962.2h0M717.2 989.2h0M717.4 979.6h0M717.5 970.6h0M717.7 989.2h0M717.8 970.6h0M718.1 954.3h0M718.8 970.6h0M718.9 954.3h0M719.2 946.8h0M719.4 939.8h0M719.5 989.2h0M719.7 970.6h0M719.9 989.2h0M720.0 999.6h0M720.3 989.2h0M720.6 989.2h0M720.8 999.6h0M721.2 989.2h0M721.4 999.6h0M721.5 962.2h0M721.9 926.7h0M722.0 962.2h0M722.2 989.2h0M722.3 979.6h0M722.6 979.6h0M722.8 989.2h0M722.9 979.6h0M723.2 962.2h0M723.5 970.6h0M723.7 979.6h0M723.9 970.6h0M724.0 962.2h0M724.2 999.6h0M724.5 954.3h0M724.6 989.2h0M724.8 979.6h0M724.9 999.6h0M725.1 970.6h0M725.2 979.6h0M725.5 954.3h0M725.9 999.6h0M726.2 954.3h0M726.3 979.6h0M726.5 999.6h0M726.6 999.6h0M726.8 979.6h0M726.9 989.2h0M727.2 999.6h0M727.6 989.2h0M727.7 999.6h0M728.5 989.2h0M729.6 999.6h0M730.6 979.6h0M732.0 999.6h0M732.6 999.6h0M733.0 989.2h0M734.8 999.6h0M741.1 989.2h0M743.3 999.6h0M691.3 1011.0H696.7M715.3 1011.0H718.7M738.3 1011.0H741.7M763.3 1011.0H768.7M726.3 1052.5H736.7M725.3 1069.9H746.7M765.3 1113.7H776.7M778.3 1142.8H786.7M776.3 1180.3H781.7M1089.3 1180.3H1095.7M775.3 1233.1H793.7M813.3 1233.1H816.7M1269.3 1233.1H1279.7M781.3 1323.4H786.7M1401.3 1323.4H1406.7M1428.3 1323.4H1438.7M1593.3 1323.4H1611.7M1713.3 1323.4H1736.7M1833.3 1323.4H1846.7M1901.3 1323.4H1906.7" fill="none" stroke="#dc3c4a" stroke-width="11" stroke-linecap="round"/>
<path d="M753.0 1142.8h0M1730.0 1142.8h0M1242.4 1180.3h0M1437.0 1233.1h0M1703.0 1233.1h0" fill="none" stroke="#dc3c4a" stroke-width="11" stroke-linecap="round"/>
<path d="M229.5,332.0 L231.0,300.0 L233.5,272.0 L236.5,253.0 L240.5,237.0 L247.0,216.0 L255.5,193.0 L265.5,170.0 L279.0,151.0 L292.0,139.0 L306.0,131.0" fill="none" stroke="#1e69e1" stroke-width="11" stroke-linecap="round" stroke-linejoin="round"/>
<path d="M310.0,147.0 L313.5,160.0 L318.0,172.0 L323.5,186.0 L328.0,198.0 L333.0,211.0" fill="none" stroke="#1e69e1" stroke-width="9" stroke-linecap="round" stroke-linejoin="round"/>
<path d="M310.0 147.8h0M310.1 149.0h0M310.3 147.9h0M310.6 149.3h0M310.8 153.4h0M310.9 151.8h0M311.2 151.1h0M311.4 152.4h0M311.5 154.0h0M311.9 151.1h0M312.0 156.7h0M312.2 153.5h0M312.5 157.7h0M312.6 157.1h0M312.8 153.4h0M312.9 156.0h0M313.2 161.6h0M313.4 160.4h0M313.6 159.2h0M313.7 159.6h0M313.9 162.2h0M314.0 163.1h0M314.3 160.9h0M314.5 164.5h0M314.6 162.3h0M314.8 165.0h0M315.1 166.0h0M315.2 163.6h0M315.4 167.2h0M315.6 167.5h0M315.7 164.2h0M315.9 167.5h0M316.2 166.4h0M316.5 169.1h0M316.6 172.1h0M316.8 167.2h0M316.9 169.0h0M317.2 171.3h0M317.4 168.7h0M317.6 171.3h0M317.9 169.9h0M318.0 171.6h0M318.2 173.9h0M318.3 171.6h0M318.6 175.7h0M318.8 173.9h0M318.9 174.7h0M319.1 174.0h0M319.2 171.5h0M319.4 174.3h0M319.6 175.5h0M319.7 178.2h0M319.9 174.6h0M320.0 175.7h0M320.2 177.4h0M320.5 177.5h0M320.6 177.5h0M320.8 177.3h0M320.9 177.8h0M321.1 182.1h0M321.3 181.4h0M321.4 182.1h0M321.6 182.9h0M321.7 185.1h0M321.9 183.4h0M322.0 185.2h0M322.3 183.6h0M322.5 181.4h0M322.6 183.8h0M322.8 186.7h0M322.9 185.4h0M323.3 182.0h0M323.4 186.0h0M323.6 189.5h0M323.7 186.3h0M323.9 187.0h0M324.0 183.3h0M324.2 189.2h0M324.3 187.8h0M324.6 192.4h0M324.8 189.7h0M325.1 190.6h0M325.3 190.2h0M325.4 191.6h0M325.6 191.2h0M326.2 191.7h0M326.4 194.7h0M326.5 195.8h0M326.6 197.1h0M327.0 195.8h0M327.1 192.7h0M327.3 196.0h0M327.6 196.9h0M327.9 201.0h0M328.0 197.6h0M328.2 201.3h0M328.4 199.3h0M328.5 200.2h0M328.7 199.6h0M329.0 200.8h0M329.1 201.6h0M329.3 197.2h0M329.4 205.9h0M329.6 204.5h0M329.7 202.0h0M329.9 203.6h0M330.1 204.6h0M330.2 203.5h0M330.4 203.2h0M330.5 205.7h0M330.7 202.5h0M330.8 207.3h0M331.0 206.3h0M331.3 203.8h0M331.4 205.7h0M331.6 207.8h0M331.7 210.5h0M331.9 206.1h0M332.1 208.8h0M332.2 206.2h0M332.4 207.9h0M332.5 212.2h0M332.7 206.5h0M332.8 210.1h0M333.0 212.6h0M333.1 214.1h0M333.3 211.1h0M333.4 210.2h0M333.6 212.4h0M333.8 213.9h0M333.9 212.9h0M334.1 210.6h0M334.2 214.0h0M334.4 215.9h0M334.5 214.8h0M334.7 215.6h0M334.8 214.1h0M335.0 215.8h0M335.1 218.3h0M335.3 216.8h0M335.4 218.7h0M335.6 213.6h0M335.8 220.9h0M335.9 218.6h0M336.1 214.6h0M336.2 218.7h0M336.5 219.7h0M336.7 217.5h0M336.8 220.9h0M337.0 220.3h0M337.1 224.3h0M337.6 222.9h0M337.8 223.6h0M337.9 221.9h0M338.1 225.4h0M338.2 222.4h0M338.4 226.9h0M338.5 228.4h0M338.8 229.3h0M339.0 227.1h0M339.1 230.5h0M339.3 228.9h0M339.4 231.6h0M339.6 229.4h0M339.8 227.5h0M339.9 231.5h0M340.1 233.9h0M340.2 230.0h0M340.4 227.6h0M340.5 232.2h0M340.7 231.0h0M341.0 228.3h0M341.1 236.0h0M341.3 232.8h0M341.6 233.7h0M341.8 232.9h0M341.9 234.3h0M342.1 236.9h0M342.2 236.3h0M342.4 234.0h0M342.5 238.1h0M342.7 235.3h0M342.8 233.2h0M343.0 237.8h0M343.1 238.7h0M343.3 239.7h0M343.5 238.5h0M343.6 240.2h0M343.8 235.7h0M343.9 239.3h0M344.2 241.4h0M344.5 240.3h0M344.7 244.8h0M344.9 241.7h0M345.2 243.3h0M345.6 246.0h0M345.8 248.5h0M346.1 249.3h0M346.2 245.9h0M346.4 246.6h0M346.6 249.3h0M346.7 251.9h0M346.9 249.1h0M347.0 244.7h0M347.2 248.1h0M347.3 248.9h0M347.5 250.7h0M347.6 250.3h0M347.8 250.7h0M347.9 250.1h0M348.2 254.3h0M348.4 250.7h0M348.6 254.4h0M348.7 255.8h0M348.9 252.1h0M349.0 260.7h0M349.2 253.8h0M349.3 255.6h0M349.5 257.6h0M349.6 258.9h0M349.8 255.8h0M349.9 255.4h0M350.1 258.0h0M350.2 260.5h0M350.4 257.8h0M350.6 257.8h0M350.7 261.1h0M350.9 259.6h0M351.0 259.1h0M351.3 262.9h0M351.5 260.5h0M351.6 265.5h0M351.8 260.6h0M351.9 264.8h0M352.1 263.1h0M352.2 266.1h0M352.4 264.9h0M352.6 268.3h0M352.7 266.2h0M352.9 266.9h0M353.5 268.2h0M353.6 267.8h0M354.3 271.9h0M354.4 269.8h0M354.6 271.6h0M354.7 274.4h0M354.9 271.9h0M355.0 270.2h0M355.3 273.8h0M355.5 276.8h0M355.6 270.9h0M355.9 275.9h0M356.1 275.0h0M356.3 273.7h0M356.4 278.3h0M356.6 272.6h0M356.7 280.4h0M356.9 277.6h0M357.0 273.5h0M357.2 275.8h0M357.3 277.8h0M357.5 276.7h0M357.6 280.1h0M357.8 282.4h0M358.0 280.4h0M358.3 282.4h0M358.4 285.5h0M358.6 284.4h0M358.7 279.8h0M358.9 280.8h0M359.0 283.2h0M359.2 287.9h0M359.3 280.2h0M359.5 282.7h0M359.6 280.4h0M359.8 286.1h0M360.0 283.6h0M360.1 284.8h0M360.3 287.5h0M360.4 283.3h0M360.6 283.8h0M360.7 287.4h0M360.9 292.9h0M361.0 289.1h0M361.4 291.8h0M361.5 294.1h0M361.7 289.2h0M361.8 290.8h0M362.0 286.8h0M362.1 286.4h0M362.3 290.2h0M362.4 291.0h0M362.6 292.7h0M362.7 290.3h0M362.9 293.4h0M363.0 287.4h0M363.2 295.0h0M363.5 295.9h0M363.7 291.9h0M363.8 290.5h0M364.0 295.6h0M364.3 295.1h0M364.4 296.2h0M364.6 295.5h0M364.7 294.2h0M364.9 298.4h0M365.1 293.4h0M365.2 297.8h0M365.4 300.0h0M365.5 298.2h0M365.7 300.9h0M366.0 304.3h0M366.1 307.0h0M366.3 301.7h0M366.4 299.4h0M366.6 305.9h0M366.8 299.4h0M366.9 301.7h0M367.1 299.5h0M367.2 303.1h0M367.4 301.4h0M367.5 305.2h0M367.7 303.7h0M367.8 301.2h0M368.0 307.8h0M368.1 307.4h0M368.3 314.3h0M368.4 310.9h0M368.6 309.9h0M368.8 307.2h0M368.9 302.6h0M369.1 306.1h0M369.2 307.5h0M369.4 305.4h0M369.5 316.6h0M369.7 309.2h0M369.8 312.0h0M370.0 311.0h0M370.1 313.2h0M370.3 308.5h0M370.4 311.8h0M370.6 315.2h0M370.8 314.0h0M370.9 313.0h0M371.2 309.3h0M371.4 317.9h0M371.5 311.4h0M371.7 317.8h0M371.8 313.9h0M372.0 317.9h0M372.3 320.0h0M372.6 318.8h0M372.8 316.1h0M372.9 319.1h0M373.1 311.9h0M373.2 316.7h0M373.4 316.3h0M373.5 321.9h0M373.7 318.9h0M373.8 318.3h0M374.0 319.4h0M374.1 322.8h0M374.3 316.8h0M374.5 319.1h0M374.6 319.6h0M374.8 321.6h0M374.9 319.1h0M375.1 320.1h0M375.2 319.0h0M375.4 322.0h0M375.5 325.2h0M375.8 322.4h0M376.0 319.0h0M376.1 321.0h0M376.3 324.3h0M376.5 320.6h0M376.6 328.2h0M376.8 325.4h0M376.9 322.2h0M377.1 328.3h0M377.2 328.7h0M377.4 320.6h0M377.5 331.1h0M377.7 328.5h0M377.9 320.3h0M378.0 328.5h0M378.2 330.0h0M378.3 324.8h0M378.5 328.7h0M378.6 325.5h0M378.8 327.6h0M378.9 330.3h0M379.2 329.4h0M379.4 332.1h0M379.5 326.8h0M379.7 336.9h0M379.9 326.4h0M380.0 331.9h0M380.3 337.0h0M380.5 333.3h0M380.6 334.5h0M380.8 335.6h0M380.9 337.2h0M381.1 336.1h0M381.2 330.5h0M381.4 333.7h0M381.6 336.3h0M381.7 332.7h0M381.9 337.4h0M382.0 331.8h0M382.2 341.2h0M382.3 339.2h0M382.5 333.5h0M382.6 338.8h0M382.8 337.8h0M382.9 332.6h0M383.1 332.0h0M383.2 342.0h0M383.4 337.6h0M383.6 338.6h0M383.7 336.1h0M383.9 341.7h0M384.0 343.9h0M384.3 335.9h0M384.5 344.4h0M384.6 340.6h0M384.8 343.0h0M384.9 345.1h0M385.1 341.7h0M385.2 346.4h0M385.4 343.5h0M385.6 343.0h0M385.7 336.3h0M385.9 340.7h0M386.0 346.2h0M386.2 340.9h0M386.3 347.1h0M386.5 339.8h0M386.6 345.4h0M386.8 345.9h0M386.9 342.8h0M387.1 346.2h0M387.4 349.2h0M387.6 349.4h0M387.7 355.3h0M387.9 350.8h0M388.0 350.4h0M388.2 347.0h0M388.3 347.7h0M388.5 346.2h0M388.6 352.9h0M388.8 348.1h0M388.9 351.2h0M389.1 356.2h0M389.3 355.3h0M389.4 350.6h0M389.6 355.5h0M389.7 348.4h0M389.9 356.8h0M390.0 356.0h0M390.2 352.0h0M390.3 360.0h0M390.5 354.5h0M390.6 355.4h0M391.0 355.6h0M391.1 361.8h0M391.3 353.3h0M391.4 350.9h0M391.6 357.1h0M391.9 356.3h0M392.0 359.8h0M392.2 358.2h0M392.3 356.5h0M392.5 354.8h0M392.6 362.2h0M392.8 363.3h0M393.0 362.2h0M393.1 354.1h0M393.3 354.9h0M393.4 358.9h0M393.6 356.0h0M393.7 362.7h0M393.9 365.4h0M394.0 360.1h0M394.2 365.9h0M394.4 362.5h0M394.5 365.5h0M394.7 360.9h0M394.8 366.8h0M395.0 365.7h0M395.1 359.9h0M395.3 364.7h0M395.4 360.6h0M395.6 365.9h0M395.7 370.6h0M395.9 363.1h0M396.0 361.8h0M396.2 369.4h0M396.4 365.7h0M396.5 369.8h0M396.7 371.2h0M396.8 368.6h0M397.0 366.8h0M397.1 371.4h0M397.3 369.7h0M397.4 372.5h0M397.6 369.6h0M397.7 367.8h0M397.9 372.5h0M398.1 370.1h0M398.2 368.2h0M398.4 370.1h0M398.5 368.2h0M398.7 372.3h0M398.8 375.1h0M399.0 368.9h0M399.1 375.3h0M399.3 368.7h0M399.4 372.9h0M399.6 370.7h0M399.7 375.9h0M399.9 369.9h0M400.1 376.2h0M400.2 374.7h0M400.4 376.2h0M400.5 377.7h0M400.7 374.5h0M400.8 372.9h0M401.0 379.4h0M401.1 380.4h0M401.3 375.7h0M401.4 382.0h0M401.6 377.5h0M401.8 376.9h0M401.9 378.3h0M402.1 381.9h0M402.2 372.9h0M402.4 376.8h0M402.5 381.1h0M402.7 377.7h0M403.1 381.5h0M403.3 379.6h0M403.6 382.6h0M403.8 376.2h0M403.9 387.3h0M404.1 383.9h0M404.2 387.5h0M404.4 385.7h0M404.5 376.9h0M404.7 383.4h0M405.0 385.0h0M405.1 381.5h0M405.3 386.4h0M405.4 388.7h0M405.6 381.3h0M405.8 385.7h0M405.9 386.8h0M406.1 391.1h0M406.2 382.7h0M406.4 379.3h0M406.5 393.3h0M406.7 390.6h0M406.8 390.2h0M407.0 390.5h0M407.1 386.2h0M407.4 389.7h0M407.6 393.9h0M407.8 386.7h0M408.1 389.6h0M408.2 391.0h0M408.4 393.0h0M408.5 394.4h0M408.7 396.1h0M408.8 389.8h0M409.0 393.2h0M409.1 392.4h0M409.3 390.4h0M409.5 392.8h0M409.6 393.0h0M409.8 397.1h0M409.9 387.1h0M410.1 395.4h0M410.2 393.7h0M410.4 389.5h0M410.5 394.5h0M410.7 397.1h0M410.9 394.5h0M411.0 394.3h0M411.2 398.9h0M411.3 397.8h0M411.5 401.0h0M411.6 402.6h0M411.8 394.9h0M411.9 400.2h0M412.1 401.3h0M412.2 393.7h0M412.4 395.4h0M412.5 399.6h0M412.7 404.3h0M412.9 404.7h0M413.0 400.7h0M413.2 402.2h0M413.3 403.9h0M413.6 398.9h0M413.8 405.8h0M414.2 402.7h0M414.4 401.4h0M414.6 406.0h0M414.9 406.6h0M415.0 408.5h0M415.2 400.7h0M415.3 400.4h0M415.5 406.3h0M415.6 409.0h0M415.8 410.5h0M415.9 404.6h0M416.1 409.7h0M416.2 401.5h0M416.4 411.8h0M416.6 402.5h0M416.7 406.2h0M416.9 403.5h0M417.0 415.6h0M417.2 406.2h0M417.3 403.4h0M417.5 409.3h0M417.6 410.8h0M417.8 418.0h0M417.9 412.1h0M418.1 418.2h0M418.4 415.6h0M418.6 416.9h0M418.7 413.0h0M418.9 412.4h0M419.2 414.1h0M419.3 411.5h0M419.5 409.9h0M419.6 413.0h0M419.8 410.5h0M419.9 419.6h0M420.1 418.3h0M420.2 419.2h0M420.4 416.7h0M420.6 419.8h0M420.7 410.9h0M420.9 413.1h0M421.0 420.3h0M421.2 414.9h0M421.3 416.7h0M421.5 418.5h0M421.6 418.3h0M421.8 418.8h0M422.1 422.4h0M422.3 420.2h0M422.4 424.2h0M422.6 423.7h0M422.7 418.7h0M422.9 424.7h0M423.0 421.1h0M423.2 428.4h0M423.3 421.6h0M423.5 429.3h0M423.6 422.0h0M423.8 420.3h0M423.9 425.5h0M424.1 429.9h0M424.3 421.7h0M424.6 422.8h0M424.9 426.8h0M425.0 423.9h0M425.2 420.1h0M425.3 432.6h0M425.5 429.0h0M425.6 438.0h0M425.8 428.3h0M426.0 426.2h0M426.1 422.4h0M426.3 429.9h0M426.4 426.7h0M426.6 428.2h0M426.7 430.2h0M426.9 440.4h0M427.0 427.1h0M427.2 428.6h0M427.4 436.3h0M427.5 432.2h0M427.6 424.8h0M427.8 427.6h0M428.0 423.9h0M428.1 428.0h0M428.3 424.7h0M428.4 440.2h0M428.6 439.9h0M428.7 431.3h0M428.9 427.2h0M429.0 436.1h0M429.2 429.7h0M429.4 432.2h0M429.5 436.4h0M429.7 439.9h0M429.8 434.6h0M430.0 435.8h0M430.1 432.3h0M430.3 428.0h0M430.4 435.5h0M430.6 433.1h0M430.7 445.0h0M430.9 440.6h0M431.2 426.4h0M431.4 439.8h0M431.5 430.5h0M431.7 440.4h0M431.8 442.9h0M432.0 440.6h0M432.1 436.3h0M432.3 442.4h0M432.6 442.9h0M432.7 450.1h0M432.9 442.1h0M433.1 454.9h0M433.2 450.9h0M433.4 440.8h0M433.5 440.6h0M433.7 438.0h0M433.8 439.0h0M434.0 442.1h0M434.1 444.7h0M434.3 440.1h0M434.4 433.7h0M434.6 450.5h0M434.8 448.6h0M434.9 446.1h0M435.1 447.8h0M435.2 443.2h0M435.4 451.0h0M435.5 446.6h0M435.7 445.3h0M435.8 442.8h0M436.0 444.3h0M436.1 446.3h0M436.4 448.5h0M436.6 456.9h0M436.8 453.9h0M436.9 451.5h0M437.1 457.4h0M437.2 454.3h0M437.4 446.3h0M437.5 455.6h0M437.7 445.3h0M437.8 448.8h0M438.0 456.6h0M438.1 458.6h0M438.3 451.5h0M438.4 450.9h0M438.6 459.5h0M438.8 447.2h0M438.9 460.2h0M439.1 450.5h0M439.2 447.2h0M439.4 452.8h0M439.5 455.4h0M439.7 455.9h0M439.8 455.1h0M440.0 462.3h0M440.1 454.4h0M440.3 461.2h0M440.4 455.6h0M440.6 461.6h0M440.8 454.6h0M440.9 464.4h0M441.1 455.6h0M441.2 467.3h0M441.4 461.2h0M441.5 466.0h0M441.7 450.5h0M441.8 459.3h0M442.0 450.7h0M442.1 460.2h0M442.3 465.8h0M442.5 460.4h0M442.6 461.8h0M442.8 465.3h0M442.9 469.5h0M443.1 464.4h0M443.2 455.4h0M443.4 460.5h0M443.5 468.4h0M443.7 475.6h0M443.9 472.7h0M444.0 457.8h0M444.1 472.1h0M444.3 455.8h0M444.5 466.2h0M444.6 465.1h0M444.8 464.1h0M444.9 471.8h0M445.1 465.3h0M445.2 460.9h0M445.4 466.9h0M445.5 468.6h0M445.7 474.0h0M446.0 468.2h0M446.3 474.2h0M446.5 462.4h0M446.6 469.3h0M446.8 470.4h0M446.9 468.9h0M447.1 471.6h0M447.2 466.7h0M447.4 469.1h0M447.6 466.6h0M447.7 468.9h0M447.9 466.2h0M448.0 474.4h0M448.2 471.9h0M448.3 483.4h0M448.5 470.4h0M448.6 470.6h0M448.8 467.3h0M448.9 473.8h0M449.1 477.1h0M449.2 471.9h0M449.4 476.2h0M449.6 479.3h0M449.7 475.4h0M449.9 478.1h0M450.0 471.9h0M450.2 473.1h0M450.3 479.7h0M450.5 476.0h0M450.6 474.6h0M450.8 482.8h0M450.9 474.2h0M451.1 466.6h0M451.2 476.4h0M451.4 483.0h0M451.6 476.0h0M451.7 478.5h0M451.9 481.1h0M452.0 475.8h0M452.2 474.0h0M452.3 480.7h0M452.6 483.0h0M452.8 485.1h0M452.9 487.4h0M453.1 478.7h0M453.2 477.9h0M453.4 478.9h0M453.6 479.9h0M453.7 484.0h0M453.9 478.3h0M454.0 485.9h0M454.2 481.9h0M454.3 486.7h0M454.5 495.3h0M454.6 480.3h0M454.8 483.0h0M454.9 479.1h0M455.1 484.4h0M455.3 482.8h0M455.4 485.3h0M455.6 484.2h0M455.7 494.1h0M455.9 481.8h0M456.0 485.1h0M456.2 496.6h0M456.3 483.8h0M456.5 488.4h0M456.6 485.9h0M456.8 489.9h0M456.9 487.2h0M457.3 492.1h0M457.4 485.5h0M457.6 497.1h0M457.7 488.0h0M457.9 494.8h0M458.0 495.7h0M458.2 499.4h0M458.3 496.6h0M458.6 487.8h0M458.8 493.9h0M459.0 488.7h0M459.1 483.8h0M459.3 491.9h0M459.4 498.2h0M459.6 495.9h0M459.7 498.2h0M460.0 487.4h0M460.2 501.1h0M460.4 490.8h0M460.5 497.6h0M460.6 500.8h0M460.8 498.0h0M461.0 500.4h0M461.1 495.5h0M461.3 492.8h0M461.4 495.9h0M461.6 504.9h0M461.7 497.6h0M461.9 496.6h0M462.0 503.2h0M462.2 486.7h0M462.4 500.8h0M462.5 498.0h0M462.7 492.4h0M462.8 506.6h0M463.0 501.5h0M463.1 506.4h0M463.3 491.7h0M463.4 508.1h0M463.6 507.4h0M463.7 505.6h0M463.9 503.4h0M464.1 500.6h0M464.2 495.9h0M464.4 505.6h0M464.5 503.4h0M464.7 497.8h0M464.8 496.2h0M465.0 506.6h0M465.1 503.2h0M465.3 507.4h0M465.4 502.7h0M465.6 509.9h0M465.7 506.9h0M465.9 508.9h0M466.1 504.6h0M466.2 505.9h0M466.4 507.9h0M466.5 504.2h0M466.7 509.4h0M466.8 507.4h0M467.0 510.9h0M467.1 509.1h0M467.3 512.4h0M467.4 507.6h0M467.6 507.4h0M467.8 515.5h0M468.1 497.1h0M468.2 503.4h0M468.4 517.7h0M468.5 508.9h0M468.7 501.8h0M468.8 505.6h0M469.0 503.4h0M469.1 514.5h0M469.3 504.4h0M469.4 508.9h0M469.6 517.7h0M469.8 500.4h0M469.9 521.2h0M470.1 510.1h0M470.2 519.8h0M470.4 509.9h0M470.5 514.0h0M470.7 512.1h0M471.1 514.0h0M471.3 512.7h0M471.4 514.8h0M471.6 506.6h0M471.8 507.9h0M471.9 519.3h0M472.1 509.1h0M472.2 523.4h0M472.4 511.1h0M472.5 514.5h0M472.7 512.7h0M472.8 516.1h0M473.1 521.5h0M473.3 508.9h0M473.4 520.1h0M473.6 524.3h0M473.8 513.2h0M473.9 518.2h0M474.1 514.2h0M474.2 530.1h0M474.4 511.1h0M474.5 511.9h0M474.8 535.2h0M475.0 515.3h0M475.1 528.0h0M475.3 518.5h0M475.5 529.2h0M475.6 525.7h0M475.8 521.2h0M475.9 516.1h0M476.1 517.7h0M476.2 528.9h0M476.4 526.6h0M476.5 527.4h0M476.7 509.4h0M476.8 524.0h0M477.0 519.0h0M477.1 528.6h0M477.3 531.0h0M477.6 521.2h0M477.8 523.7h0M477.9 539.2h0M478.1 524.6h0M478.2 527.7h0M478.4 521.2h0M478.5 525.1h0M478.7 530.7h0M478.9 517.4h0M479.0 526.0h0M479.2 525.1h0M479.3 523.2h0M479.5 529.5h0M479.6 531.9h0M479.8 529.5h0M479.9 524.0h0M480.1 533.7h0M480.2 525.7h0M480.4 538.3h0M480.6 536.1h0M480.7 528.0h0M480.9 521.8h0M481.0 535.8h0M481.2 539.6h0M481.3 526.0h0M481.5 535.2h0M481.6 539.6h0M481.9 534.3h0M482.1 543.1h0M482.4 539.9h0M482.6 532.1h0M482.7 535.8h0M482.9 538.3h0M483.0 533.7h0M483.2 551.2h0M483.3 536.4h0M483.5 537.7h0M483.6 544.8h0M483.8 543.8h0M483.9 545.4h0M484.2 541.2h0M484.4 544.4h0M484.6 554.4h0M484.7 547.8h0M484.9 538.9h0M485.0 546.1h0M485.2 547.8h0M485.3 538.9h0M485.5 547.1h0M485.6 538.0h0M485.8 539.6h0M485.9 541.2h0M486.1 554.4h0M486.2 556.9h0M486.4 562.8h0M486.6 543.4h0M486.7 551.9h0M486.9 533.4h0M487.0 560.9h0M487.2 544.1h0M487.3 562.4h0M487.5 546.4h0M487.6 556.9h0M487.8 543.8h0M487.9 554.7h0M488.1 556.1h0M488.3 546.8h0M488.4 549.1h0M488.6 545.1h0M488.7 557.2h0M488.9 552.6h0M489.2 558.7h0M489.3 550.1h0M489.5 553.3h0M489.6 553.3h0M489.8 556.1h0M489.9 547.8h0M490.1 544.8h0M490.3 554.0h0M490.4 553.3h0M490.6 551.2h0M490.7 553.6h0M490.9 570.6h0M491.0 557.2h0M491.2 558.7h0M491.3 544.1h0M491.5 563.6h0M491.6 535.2h0M491.8 564.0h0M492.0 555.1h0M492.1 560.9h0M492.3 566.3h0M492.4 553.6h0M492.6 565.9h0M492.7 565.1h0M492.9 567.5h0M493.0 553.3h0M493.3 563.2h0M493.5 560.5h0M493.8 575.6h0M494.0 556.9h0M494.1 560.5h0M494.3 556.5h0M494.4 573.5h0M494.6 547.8h0M494.7 566.7h0M494.9 560.9h0M495.0 557.2h0M495.2 557.6h0M495.4 563.2h0M495.5 566.7h0M495.7 572.3h0M495.8 574.7h0M496.0 563.2h0M496.1 565.1h0M496.3 576.8h0M496.4 567.1h0M496.6 565.9h0M496.7 561.3h0M496.9 554.4h0M497.0 573.9h0M497.2 566.3h0M497.4 563.2h0M497.5 570.2h0M497.7 566.7h0M497.8 563.6h0M498.1 564.7h0M498.3 576.0h0M498.4 585.6h0M498.6 571.0h0M498.7 569.0h0M498.9 567.5h0M499.1 577.7h0M499.2 572.3h0M499.4 563.2h0M499.5 572.3h0M499.7 562.4h0M499.8 575.1h0M500.0 569.8h0M500.1 579.4h0M500.3 566.7h0M500.4 566.3h0M500.6 565.9h0M500.8 555.4h0M500.9 566.3h0M501.1 571.9h0M501.2 562.0h0M501.4 579.8h0M501.5 581.6h0M501.7 573.9h0M501.8 577.7h0M502.0 579.0h0M502.1 567.1h0M502.3 570.2h0M502.4 586.0h0M502.6 573.1h0M502.8 571.5h0M502.9 582.9h0M503.1 587.0h0M503.4 595.0h0M503.5 584.7h0M503.7 583.8h0M503.8 592.5h0M504.0 587.0h0M504.3 575.1h0M504.4 585.6h0M504.6 576.0h0M504.8 588.8h0M504.9 586.0h0M505.1 582.5h0M505.4 587.4h0M505.5 578.5h0M505.7 593.5h0M505.8 587.4h0M506.0 569.4h0M506.1 587.4h0M506.3 576.4h0M506.4 583.3h0M506.6 581.6h0M506.8 595.0h0M506.9 585.6h0M507.1 583.3h0M507.2 582.0h0M507.4 586.5h0M507.5 586.5h0M507.7 578.5h0M507.8 593.5h0M508.0 595.9h0M508.1 592.1h0M508.3 587.0h0M508.5 578.5h0M508.6 594.0h0M508.8 589.2h0M508.9 598.9h0M509.1 579.0h0M509.2 602.0h0M509.4 586.5h0M509.5 601.4h0M509.7 583.3h0M509.8 606.6h0M510.0 582.5h0M510.1 600.4h0M510.3 580.7h0M510.5 590.7h0M510.6 592.5h0M510.8 582.0h0M510.9 606.6h0M511.1 579.4h0M511.2 611.0h0M511.4 594.0h0M511.5 599.4h0M511.7 588.8h0M511.9 591.1h0M512.0 602.0h0M512.2 580.7h0M512.3 594.0h0M512.6 599.4h0M512.8 598.4h0M512.9 606.1h0M513.1 595.5h0M513.2 606.1h0M513.4 601.4h0M513.5 585.1h0M513.7 611.0h0M513.9 604.0h0M514.0 593.5h0M514.2 584.2h0M514.3 597.9h0M514.6 585.6h0M514.8 598.9h0M514.9 596.4h0M515.2 600.4h0M515.4 604.5h0M515.5 605.6h0M515.7 614.9h0M515.9 602.5h0M516.0 612.6h0M516.2 590.7h0M516.3 597.9h0M516.5 600.4h0M516.6 612.1h0M516.8 607.2h0M516.9 602.5h0M517.1 615.5h0M517.2 585.6h0M517.4 608.8h0M517.5 603.0h0M517.7 601.4h0M517.9 613.8h0M518.0 595.5h0M518.2 614.3h0M518.3 587.9h0M518.5 602.5h0M518.6 612.1h0M518.8 592.5h0M518.9 604.0h0M519.1 596.4h0M519.2 594.0h0M519.4 611.5h0M519.6 602.0h0M519.7 589.7h0M519.9 611.0h0M520.0 591.6h0M520.2 609.3h0M520.3 608.3h0M520.5 606.6h0M520.6 601.4h0M520.8 620.1h0M521.0 628.0h0M521.1 611.0h0M521.2 607.7h0M521.4 612.1h0M521.6 611.5h0M521.7 617.2h0M521.9 625.5h0M522.0 606.1h0M522.2 607.2h0M522.3 601.4h0M522.5 619.5h0M522.6 611.0h0M522.8 617.2h0M523.0 601.4h0M523.1 617.2h0M523.3 621.3h0M523.4 613.2h0M523.6 602.0h0M523.7 599.9h0M523.9 604.0h0M524.0 621.3h0M524.2 617.8h0M524.3 621.3h0M524.5 623.1h0M524.6 621.9h0M524.8 618.9h0M525.0 625.5h0M525.1 624.3h0M525.4 613.8h0M525.6 624.3h0M525.7 620.7h0M525.9 607.7h0M526.0 616.6h0M526.2 603.0h0M526.3 622.5h0M526.5 620.1h0M526.6 638.4h0M526.8 614.3h0M527.0 621.3h0M527.1 624.9h0M527.3 613.8h0M527.4 613.2h0M527.6 621.3h0M527.7 626.1h0M528.2 608.3h0M528.4 633.1h0M528.5 620.1h0M528.7 619.5h0M529.0 616.0h0M529.1 635.7h0M529.3 619.5h0M529.4 613.2h0M529.6 623.1h0M529.7 632.4h0M529.9 621.9h0M530.0 627.4h0M530.2 636.4h0M530.4 618.9h0M530.5 638.4h0M530.7 625.5h0M530.8 624.3h0M531.0 626.7h0M531.1 633.1h0M531.3 620.7h0M531.4 608.3h0M531.6 628.6h0M531.7 633.1h0M531.9 628.6h0M532.0 613.2h0M532.2 632.4h0M532.4 627.4h0M532.5 619.5h0M532.7 627.4h0M532.8 618.9h0M533.0 613.8h0M533.1 638.4h0M533.3 643.2h0M533.4 624.9h0M533.6 644.7h0M533.7 641.9h0M533.9 643.2h0M534.0 628.0h0M534.2 647.5h0M534.4 644.7h0M534.5 629.9h0M534.7 637.1h0M534.8 639.1h0M535.0 618.9h0M535.1 643.2h0M535.3 633.7h0M535.4 624.3h0M535.6 628.0h0M535.8 631.8h0M535.9 639.8h0M536.1 626.1h0M536.4 633.1h0M536.5 636.4h0M536.7 623.1h0M536.8 633.7h0M537.0 636.4h0M537.3 633.7h0M537.5 636.4h0M537.6 631.8h0M537.8 646.1h0M537.9 651.2h0M538.1 627.4h0M538.2 628.6h0M538.4 633.7h0M538.5 628.0h0M538.7 644.7h0M538.8 631.1h0M539.0 639.1h0M539.1 644.7h0M539.3 635.7h0M539.5 644.7h0M539.6 632.4h0M539.8 656.6h0M539.9 649.0h0M540.1 641.1h0M540.2 648.3h0M540.4 635.7h0M540.5 643.2h0M540.7 655.0h0M540.8 648.3h0M541.0 655.8h0M541.1 651.2h0M541.3 638.4h0M541.5 640.5h0M541.6 627.4h0M541.8 648.3h0M542.1 643.2h0M542.2 650.5h0M542.4 651.2h0M542.5 647.5h0M542.7 652.0h0M542.8 644.0h0M543.0 629.2h0M543.1 652.7h0M543.3 656.6h0M543.5 646.8h0M543.6 650.5h0M543.9 644.7h0M544.1 652.0h0M544.2 644.0h0M544.4 663.0h0M544.5 637.1h0M544.7 652.7h0M544.9 670.6h0M545.0 649.8h0M545.2 652.7h0M545.3 646.1h0M545.5 666.3h0M545.6 649.0h0M545.8 657.4h0M545.9 641.1h0M546.1 645.4h0M546.2 662.2h0M546.4 653.5h0M546.5 668.0h0M546.7 651.2h0M546.9 655.8h0M547.0 668.0h0M547.2 661.4h0M547.3 675.9h0M547.5 660.5h0M547.6 648.3h0M547.8 663.0h0M547.9 676.8h0M548.1 668.9h0M548.4 682.4h0M548.5 647.5h0M548.7 655.0h0M548.9 651.2h0M549.0 641.1h0M549.2 656.6h0M549.3 642.5h0M549.5 651.2h0M549.6 660.5h0M549.8 659.0h0M549.9 661.4h0M550.1 662.2h0M550.2 652.0h0M550.4 674.1h0M550.5 651.2h0M550.7 666.3h0M550.9 649.0h0M551.0 656.6h0M551.2 680.5h0M551.3 659.0h0M551.6 652.7h0M551.8 680.5h0M551.9 644.7h0M552.1 656.6h0M552.2 677.7h0M552.4 663.0h0M552.6 665.5h0M552.7 670.6h0M552.9 672.3h0M553.0 667.1h0M553.2 664.6h0M553.3 687.2h0M553.5 669.7h0M553.6 648.3h0M553.8 683.3h0M553.9 663.8h0M554.1 668.0h0M554.2 655.0h0M554.4 668.0h0M554.6 674.1h0M554.7 677.7h0M554.9 668.0h0M555.0 660.5h0M555.2 649.0h0M555.3 672.3h0M555.5 691.2h0M555.6 682.4h0M555.8 684.3h0M556.0 661.4h0M556.1 673.2h0M556.3 669.7h0M556.4 681.4h0M556.6 680.5h0M556.7 664.6h0M556.9 663.0h0M557.0 658.1h0M557.2 675.9h0M557.3 686.2h0M557.5 663.8h0M557.6 695.4h0M557.8 677.7h0M558.0 680.5h0M558.1 661.4h0M558.3 695.4h0M558.4 687.2h0M558.6 665.5h0M558.7 679.6h0M558.9 669.7h0M559.0 689.2h0M559.2 663.8h0M559.3 673.2h0M559.5 689.2h0M559.6 678.6h0M559.8 674.1h0M560.0 679.6h0M560.1 706.3h0M560.3 690.2h0M560.4 672.3h0M560.6 676.8h0M560.7 692.3h0M560.9 666.3h0M561.0 702.9h0M561.2 683.3h0M561.4 675.9h0M561.5 685.3h0M561.6 695.4h0M561.8 675.9h0M562.0 681.4h0M562.1 672.3h0M562.3 683.3h0M562.4 672.3h0M562.6 688.2h0M562.7 686.2h0M562.9 706.3h0M563.0 698.6h0M563.2 694.3h0M563.4 669.7h0M563.5 679.6h0M563.7 686.2h0M563.8 677.7h0M564.0 673.2h0M564.1 680.5h0M564.3 692.3h0M564.4 700.7h0M564.6 707.5h0M564.7 691.2h0M564.9 701.8h0M565.0 691.2h0M565.2 670.6h0M565.4 683.3h0M565.5 673.2h0M565.7 692.3h0M565.8 688.2h0M566.0 682.4h0M566.1 697.5h0M566.3 693.3h0M566.6 696.4h0M566.7 691.2h0M566.9 719.5h0M567.0 685.3h0M567.2 698.6h0M567.5 694.3h0M567.7 696.4h0M567.8 685.3h0M568.0 694.3h0M568.1 683.3h0M568.3 682.4h0M568.4 689.2h0M568.6 699.6h0M568.8 706.3h0M568.9 713.4h0M569.1 695.4h0M569.2 698.6h0M569.4 685.3h0M569.5 712.2h0M569.7 688.2h0M570.0 695.4h0M570.1 693.3h0M570.3 686.2h0M570.4 688.2h0M570.6 715.8h0M570.8 691.2h0M570.9 692.3h0M571.1 718.3h0M571.2 694.3h0M571.4 681.4h0M571.5 701.8h0M571.7 712.2h0M571.8 694.3h0M572.0 675.0h0M572.1 704.1h0M572.3 688.2h0M572.5 680.5h0M572.6 695.4h0M572.8 696.4h0M572.9 693.3h0M573.1 674.1h0M573.2 700.7h0M573.4 689.2h0M573.5 695.4h0M573.7 700.7h0M573.8 701.8h0M574.0 692.3h0M574.1 698.6h0M574.3 699.6h0M574.5 706.3h0M574.6 705.2h0M574.8 683.3h0M574.9 686.2h0M575.1 702.9h0M575.2 683.3h0M575.4 700.7h0M575.5 719.5h0M575.7 724.7h0M575.8 689.2h0M576.0 711.0h0M576.1 700.7h0M576.3 701.8h0M576.5 712.2h0M576.6 688.2h0M576.8 709.8h0M576.9 702.9h0M577.1 709.8h0M577.4 723.4h0M577.5 699.6h0M577.7 687.2h0M577.9 699.6h0M578.0 688.2h0M578.1 700.7h0M578.3 701.8h0M578.5 713.4h0M578.6 704.1h0M578.8 689.2h0M578.9 706.3h0M579.1 717.0h0M579.2 722.1h0M579.4 697.5h0M579.5 686.2h0M579.7 694.3h0M579.9 718.3h0M580.0 701.8h0M580.2 723.4h0M580.3 719.5h0M580.5 708.6h0M580.6 694.3h0M580.8 711.0h0M580.9 726.0h0M581.1 705.2h0M581.2 694.3h0M581.4 723.4h0M581.5 730.1h0M581.7 709.8h0M581.9 704.1h0M582.0 715.8h0M582.2 717.0h0M582.3 689.2h0M582.5 720.8h0M582.6 712.2h0M582.8 705.2h0M582.9 723.4h0M583.1 730.1h0M583.2 719.5h0M583.4 724.7h0M583.5 732.9h0M583.7 717.0h0M583.9 732.9h0M584.0 728.7h0M584.2 696.4h0M584.3 713.4h0M584.5 712.2h0M584.6 728.7h0M584.8 727.4h0M584.9 713.4h0M585.1 718.3h0M585.2 719.5h0M585.4 722.1h0M585.6 707.5h0M585.7 731.5h0M585.9 728.7h0M586.0 724.7h0M586.2 714.6h0M586.3 740.1h0M586.5 738.6h0M586.6 732.9h0M586.8 728.7h0M586.9 731.5h0M587.1 705.2h0M587.2 738.6h0M587.4 726.0h0M587.6 726.0h0M587.9 712.2h0M588.0 726.0h0M588.2 711.0h0M588.3 718.3h0M588.6 737.1h0M588.8 735.7h0M589.0 718.3h0M589.1 714.6h0M589.3 722.1h0M589.4 737.1h0M589.6 704.1h0M589.7 728.7h0M589.9 730.1h0M590.0 732.9h0M590.2 720.8h0M590.3 724.7h0M590.5 720.8h0M590.6 724.7h0M590.8 730.1h0M591.0 706.3h0M591.1 737.1h0M591.3 722.1h0M591.4 726.0h0M591.6 731.5h0M591.7 757.5h0M591.9 723.4h0M592.2 715.8h0M592.3 720.8h0M592.5 715.8h0M592.6 732.9h0M592.8 737.1h0M593.0 727.4h0M593.1 730.1h0M593.3 714.6h0M593.4 719.5h0M593.6 731.5h0M593.7 749.3h0M593.9 730.1h0M594.0 759.2h0M594.2 734.3h0M594.3 735.7h0M594.5 750.9h0M594.6 732.9h0M594.8 712.2h0M595.0 747.7h0M595.1 723.4h0M595.3 730.1h0M595.4 726.0h0M595.6 727.4h0M595.7 720.8h0M595.9 741.5h0M596.0 737.1h0M596.2 743.0h0M596.4 718.3h0M596.5 723.4h0M596.7 722.1h0M596.8 730.1h0M597.0 727.4h0M597.1 738.6h0M597.3 740.1h0M597.4 735.7h0M597.6 732.9h0M597.7 743.0h0M597.9 732.9h0M598.0 749.3h0M598.2 737.1h0M598.4 740.1h0M598.5 737.1h0M598.7 734.3h0M598.8 744.6h0M599.0 734.3h0M599.1 728.7h0M599.3 754.1h0M599.4 734.3h0M599.6 735.7h0M599.9 744.6h0M600.0 750.9h0M600.2 746.1h0M600.5 737.1h0M600.8 724.7h0M601.0 730.1h0M601.1 740.1h0M601.3 760.9h0M601.4 746.1h0M601.6 735.7h0M601.9 754.1h0M602.2 750.9h0M602.4 730.1h0M602.5 754.1h0M602.7 750.9h0M602.8 737.1h0M603.0 712.2h0M603.1 760.9h0M603.3 737.1h0M603.4 750.9h0M603.6 741.5h0M603.8 746.1h0M603.9 752.5h0M604.1 759.2h0M604.2 737.1h0M604.4 746.1h0M604.5 759.2h0M604.7 762.6h0M604.8 749.3h0M605.0 757.5h0M605.1 755.8h0M605.3 771.8h0M605.5 750.9h0M605.6 764.4h0M605.8 759.2h0M605.9 762.6h0M606.1 781.5h0M606.2 759.2h0M606.5 754.1h0M606.7 768.0h0M606.8 764.4h0M607.0 726.0h0M607.1 768.0h0M607.3 746.1h0M607.5 754.1h0M607.6 762.6h0M607.8 755.8h0M607.9 750.9h0M608.1 743.0h0M608.2 731.5h0M608.4 737.1h0M608.5 769.9h0M608.7 737.1h0M608.8 743.0h0M609.0 747.7h0M609.3 749.3h0M609.5 775.6h0M609.6 743.0h0M609.8 773.6h0M609.9 750.9h0M610.1 752.5h0M610.2 746.1h0M610.4 743.0h0M610.5 750.9h0M610.7 755.8h0M610.8 762.6h0M611.0 768.0h0M611.1 766.2h0M611.3 783.6h0M611.5 764.4h0M611.6 766.2h0M611.8 760.9h0M611.9 775.6h0M612.1 773.6h0M612.2 759.2h0M612.4 760.9h0M612.5 779.5h0M612.7 754.1h0M612.9 764.4h0M613.0 723.4h0M613.2 794.4h0M613.3 769.9h0M613.5 755.8h0M613.6 750.9h0M613.8 775.6h0M613.9 773.6h0M614.1 768.0h0M614.2 771.8h0M614.4 769.9h0M614.5 779.5h0M614.7 752.5h0M614.9 779.5h0M615.0 775.6h0M615.2 759.2h0M615.3 769.9h0M615.5 754.1h0M615.6 777.5h0M615.8 766.2h0M615.9 764.4h0M616.1 769.9h0M616.2 768.0h0M616.4 781.5h0M616.5 759.2h0M616.7 783.6h0M616.9 755.8h0M617.0 781.5h0M617.2 759.2h0M617.3 775.6h0M617.5 796.6h0M617.6 757.5h0M617.9 783.6h0M618.1 757.5h0M618.2 783.6h0M618.4 775.6h0M618.5 811.1h0M618.7 762.6h0M618.9 766.2h0M619.0 787.8h0M619.2 796.6h0M619.3 775.6h0M619.5 781.5h0M619.6 790.0h0M619.8 796.6h0M619.9 792.1h0M620.1 769.9h0M620.2 775.6h0M620.4 783.6h0M620.6 768.0h0M620.7 755.8h0M620.9 783.6h0M621.0 798.9h0M621.2 779.5h0M621.3 803.7h0M621.5 779.5h0M621.6 771.8h0M621.8 775.6h0M622.0 787.8h0M622.1 790.0h0M622.4 764.4h0M622.6 792.1h0M622.7 777.5h0M622.9 783.6h0M623.0 773.6h0M623.2 811.1h0M623.3 783.6h0M623.5 794.4h0M623.6 794.4h0M623.8 766.2h0M624.0 796.6h0M624.1 792.1h0M624.3 808.6h0M624.4 842.8h0M624.6 785.7h0M624.7 775.6h0M624.9 779.5h0M625.0 794.4h0M625.2 760.9h0M625.3 813.7h0M625.5 766.2h0M625.6 787.8h0M625.8 785.7h0M626.0 830.4h0M626.1 811.1h0M626.3 779.5h0M626.4 811.1h0M626.6 806.1h0M626.7 787.8h0M626.9 821.8h0M627.0 792.1h0M627.2 798.9h0M627.3 785.7h0M627.5 769.9h0M627.6 801.3h0M628.0 792.1h0M628.1 779.5h0M628.3 787.8h0M628.4 803.7h0M628.6 792.1h0M628.7 811.1h0M628.9 816.3h0M629.0 779.5h0M629.2 806.1h0M629.4 803.7h0M629.5 816.3h0M629.7 803.7h0M629.8 813.7h0M630.0 827.4h0M630.1 783.6h0M630.3 806.1h0M630.4 787.8h0M630.6 806.1h0M630.7 801.3h0M630.9 806.1h0M631.0 794.4h0M631.2 792.1h0M631.4 842.8h0M631.5 781.5h0M631.7 796.6h0M631.8 794.4h0M632.1 792.1h0M632.3 819.0h0M632.4 798.9h0M632.6 792.1h0M632.7 801.3h0M632.9 792.1h0M633.0 816.3h0M633.2 821.8h0M633.4 819.0h0M633.5 787.8h0M633.7 790.0h0M633.8 792.1h0M634.0 821.8h0M634.1 806.1h0M634.3 833.4h0M634.4 842.8h0M634.6 824.6h0M634.8 794.4h0M634.9 803.7h0M635.0 798.9h0M635.2 827.4h0M635.4 806.1h0M635.5 798.9h0M635.7 796.6h0M635.8 816.3h0M636.0 798.9h0M636.1 801.3h0M636.3 790.0h0M636.4 808.6h0M636.6 798.9h0M636.8 783.6h0M636.9 816.3h0M637.1 811.1h0M637.2 798.9h0M637.5 819.0h0M637.7 821.8h0M637.8 819.0h0M638.0 824.6h0M638.1 811.1h0M638.3 801.3h0M638.5 811.1h0M638.6 806.1h0M638.8 821.8h0M638.9 808.6h0M639.1 816.3h0M639.2 819.0h0M639.4 824.6h0M639.5 842.8h0M639.7 819.0h0M639.8 827.4h0M640.0 833.4h0M640.1 816.3h0M640.3 836.4h0M640.5 816.3h0M640.6 803.7h0M640.8 830.4h0M640.9 827.4h0M641.1 836.4h0M641.2 819.0h0M641.4 808.6h0M641.5 833.4h0M641.7 790.0h0M641.8 819.0h0M642.0 808.6h0M642.1 821.8h0M642.3 819.0h0M642.5 852.9h0M642.6 827.4h0M642.8 830.4h0M642.9 813.7h0M643.1 836.4h0M643.2 830.4h0M643.4 808.6h0M643.5 803.7h0M643.7 821.8h0M643.8 849.5h0M644.0 819.0h0M644.1 849.5h0M644.5 836.4h0M644.6 846.1h0M644.8 827.4h0M644.9 819.0h0M645.1 846.1h0M645.2 811.1h0M645.4 830.4h0M645.5 824.6h0M645.7 836.4h0M645.9 824.6h0M646.0 827.4h0M646.2 846.1h0M646.3 827.4h0M646.5 852.9h0M646.6 889.2h0M646.8 827.4h0M646.9 833.4h0M647.1 839.6h0M647.4 842.8h0M647.5 830.4h0M647.7 833.4h0M647.9 839.6h0M648.0 833.4h0M648.2 849.5h0M648.3 842.8h0M648.5 824.6h0M648.6 816.3h0M648.8 846.1h0M649.2 827.4h0M649.4 852.9h0M649.5 827.4h0M649.7 849.5h0M649.9 867.9h0M650.0 813.7h0M650.2 884.7h0M650.3 839.6h0M650.6 871.9h0M650.8 833.4h0M650.9 839.6h0M651.2 852.9h0M651.4 856.5h0M651.5 811.1h0M651.7 856.5h0M651.9 839.6h0M652.0 833.4h0M652.2 839.6h0M652.3 836.4h0M652.5 839.6h0M652.6 824.6h0M652.8 864.0h0M652.9 860.2h0M653.1 842.8h0M653.2 860.2h0M653.4 842.8h0M653.6 836.4h0M653.9 867.9h0M654.0 827.4h0M654.2 856.5h0M654.3 871.9h0M654.5 864.0h0M654.6 898.9h0M654.8 839.6h0M655.0 860.2h0M655.1 830.4h0M655.2 904.0h0M655.4 846.1h0M655.6 827.4h0M655.7 864.0h0M655.9 867.9h0M656.0 839.6h0M656.2 867.9h0M656.3 827.4h0M656.5 864.0h0M656.6 884.7h0M656.8 867.9h0M657.0 856.5h0M657.1 880.3h0M657.3 839.6h0M657.4 836.4h0M657.6 819.0h0M657.7 884.7h0M657.9 880.3h0M658.0 867.9h0M658.2 871.9h0M658.3 846.1h0M658.6 880.3h0M658.8 852.9h0M659.1 860.2h0M659.3 876.0h0M659.4 898.9h0M659.6 849.5h0M659.7 867.9h0M659.9 860.2h0M660.0 884.7h0M660.2 898.9h0M660.3 884.7h0M660.5 871.9h0M660.6 864.0h0M660.8 856.5h0M661.0 871.9h0M661.1 860.2h0M661.3 864.0h0M661.4 871.9h0M661.6 852.9h0M661.7 889.2h0M661.9 876.0h0M662.0 871.9h0M662.2 909.3h0M662.4 856.5h0M662.5 876.0h0M662.7 856.5h0M662.8 867.9h0M663.0 884.7h0M663.1 880.3h0M663.3 852.9h0M663.4 880.3h0M663.6 880.3h0M663.7 871.9h0M663.9 894.0h0M664.0 880.3h0M664.2 920.7h0M664.4 914.9h0M664.5 884.7h0M664.7 876.0h0M664.8 864.0h0M665.0 884.7h0M665.1 876.0h0M665.3 860.2h0M665.4 867.9h0M665.6 860.2h0M665.7 852.9h0M666.0 860.2h0M666.4 889.2h0M666.5 864.0h0M666.7 871.9h0M666.8 926.7h0M667.0 933.1h0M667.1 909.3h0M667.3 889.2h0M667.4 898.9h0M667.6 871.9h0M667.7 860.2h0M667.9 880.3h0M668.0 846.1h0M668.2 884.7h0M668.4 860.2h0M668.5 884.7h0M668.7 914.9h0M668.8 894.0h0M669.0 856.5h0M669.1 884.7h0M669.3 856.5h0M669.4 889.2h0M669.6 867.9h0M669.8 871.9h0M669.9 904.0h0M670.1 884.7h0M670.2 909.3h0M670.4 884.7h0M670.5 894.0h0M670.7 880.3h0M670.8 867.9h0M671.1 909.3h0M671.3 894.0h0M671.4 909.3h0M671.6 880.3h0M671.8 933.1h0M671.9 904.0h0M672.1 871.9h0M672.2 889.2h0M672.4 871.9h0M672.5 898.9h0M672.8 914.9h0M673.0 926.7h0M673.1 876.0h0M673.3 880.3h0M673.5 894.0h0M673.6 894.0h0M673.8 889.2h0M673.9 880.3h0M674.1 904.0h0M674.2 898.9h0M674.4 889.2h0M674.5 898.9h0M674.8 880.3h0M675.0 904.0h0M675.1 914.9h0M675.3 954.3h0M675.5 889.2h0M675.6 884.7h0M675.8 894.0h0M675.9 849.5h0M676.1 914.9h0M676.2 876.0h0M676.4 914.9h0M676.5 904.0h0M676.7 909.3h0M676.8 880.3h0M677.0 909.3h0M677.1 876.0h0M677.3 889.2h0M677.5 867.9h0M677.6 898.9h0M677.8 889.2h0M677.9 904.0h0M678.5 889.2h0M678.9 939.8h0M679.0 909.3h0M679.1 876.0h0M679.3 904.0h0M679.5 920.7h0M679.6 889.2h0M679.8 933.1h0M679.9 898.9h0M680.1 904.0h0M680.2 920.7h0M680.4 839.6h0M680.5 898.9h0M680.7 920.7h0M680.9 909.3h0M681.0 889.2h0M681.2 926.7h0M681.3 894.0h0M681.5 920.7h0M681.6 867.9h0M681.8 898.9h0M681.9 884.7h0M682.1 876.0h0M682.2 904.0h0M682.4 894.0h0M682.5 876.0h0M682.7 909.3h0M682.9 914.9h0M683.0 939.8h0M683.2 904.0h0M683.3 920.7h0M683.5 894.0h0M683.6 871.9h0M683.8 898.9h0M683.9 894.0h0M684.1 889.2h0M684.2 871.9h0M684.4 914.9h0M684.5 904.0h0M684.7 898.9h0M684.9 909.3h0M685.2 884.7h0M685.3 898.9h0M685.5 880.3h0M685.6 909.3h0M685.8 876.0h0M686.1 926.7h0M686.4 894.0h0M686.6 871.9h0M686.7 894.0h0M686.9 914.9h0M687.0 954.3h0M687.2 898.9h0M687.3 914.9h0M687.5 904.0h0M687.6 904.0h0M687.8 926.7h0M687.9 914.9h0M688.2 894.0h0M688.4 904.0h0M688.6 946.8h0M688.7 898.9h0M688.9 909.3h0M689.0 914.9h0M689.2 889.2h0M689.5 914.9h0M689.6 889.2h0M689.8 909.3h0M690.0 946.8h0M690.1 914.9h0M690.3 894.0h0M690.4 914.9h0M690.6 889.2h0M690.7 914.9h0M690.9 954.3h0M691.0 946.8h0M691.2 933.1h0M691.3 914.9h0M691.5 889.2h0M691.6 914.9h0M691.8 889.2h0M692.0 904.0h0M692.1 954.3h0M692.3 920.7h0M692.4 909.3h0M692.6 920.7h0M692.9 898.9h0M693.2 933.1h0M693.3 920.7h0M693.5 898.9h0M693.6 909.3h0M693.8 926.7h0M694.0 884.7h0M694.1 904.0h0M694.3 894.0h0M694.4 920.7h0M694.6 904.0h0M694.7 933.1h0M694.9 920.7h0M695.0 889.2h0M695.2 914.9h0M695.4 909.3h0M695.5 933.1h0M695.6 914.9h0M695.8 933.1h0M696.0 946.8h0M696.1 954.3h0M696.3 909.3h0M696.4 946.8h0M696.6 894.0h0M696.7 904.0h0M696.9 933.1h0M697.0 914.9h0M697.2 946.8h0M697.4 920.7h0M697.5 926.7h0M697.7 884.7h0M697.8 962.2h0M698.0 920.7h0M698.1 933.1h0M698.3 920.7h0M698.6 933.1h0M698.7 939.8h0M698.9 898.9h0M699.0 889.2h0M699.2 920.7h0M699.4 914.9h0M699.5 914.9h0M699.7 954.3h0M699.8 894.0h0M700.0 909.3h0M700.1 946.8h0M700.3 920.7h0M700.4 914.9h0M700.6 898.9h0M700.7 939.8h0M700.9 946.8h0M701.0 939.8h0M701.2 926.7h0M701.4 954.3h0M701.5 909.3h0M701.7 920.7h0M701.8 954.3h0M702.0 939.8h0M702.1 954.3h0M702.3 926.7h0M702.6 914.9h0M702.8 939.8h0M702.9 914.9h0M703.1 920.7h0M703.2 962.2h0M703.4 926.7h0M703.5 939.8h0M703.7 970.6h0M703.8 954.3h0M704.0 979.6h0M704.1 946.8h0M704.3 926.7h0M704.4 933.1h0M704.6 954.3h0M704.8 962.2h0M704.9 933.1h0M705.1 946.8h0M705.4 954.3h0M705.5 946.8h0M705.7 898.9h0M705.8 946.8h0M706.0 939.8h0M706.1 954.3h0M706.3 939.8h0M706.5 962.2h0M706.6 933.1h0M706.8 926.7h0M706.9 946.8h0M707.2 954.3h0M707.5 962.2h0M707.8 954.3h0M708.0 914.9h0M708.1 939.8h0M708.3 954.3h0M708.5 970.6h0M708.6 989.2h0M708.8 939.8h0M708.9 970.6h0M709.1 939.8h0M709.5 954.3h0M709.7 933.1h0M709.8 946.8h0M710.0 979.6h0M710.1 989.2h0M710.3 962.2h0M710.5 970.6h0M710.6 933.1h0M710.8 939.8h0M710.9 920.7h0M711.1 970.6h0M711.2 962.2h0M711.5 979.6h0M711.9 939.8h0M712.0 933.1h0M712.1 962.2h0M712.3 946.8h0M712.5 939.8h0M712.6 999.6h0M712.8 989.2h0M712.9 954.3h0M713.1 926.7h0M713.4 946.8h0M713.5 939.8h0M713.7 946.8h0M713.9 954.3h0M714.3 970.6h0M714.5 946.8h0M714.6 970.6h0M714.9 946.8h0M715.1 954.3h0M715.2 970.6h0M715.7 989.2h0M716.0 979.6h0M716.2 962.2h0M716.6 979.6h0M716.8 962.2h0M717.1 946.8h0M717.4 979.6h0M717.5 989.2h0M717.7 999.6h0M717.9 989.2h0M718.0 962.2h0M718.2 979.6h0M718.5 970.6h0M718.6 989.2h0M718.9 946.8h0M719.1 939.8h0M719.2 970.6h0M719.4 999.6h0M719.6 954.3h0M719.7 970.6h0M719.9 979.6h0M720.0 939.8h0M720.2 999.6h0M720.3 939.8h0M720.5 989.2h0M720.6 970.6h0M720.8 954.3h0M721.2 979.6h0M721.4 970.6h0M721.6 989.2h0M721.7 954.3h0M721.9 999.6h0M722.0 989.2h0M722.2 954.3h0M722.6 989.2h0M722.8 970.6h0M723.0 979.6h0M723.1 970.6h0M723.4 962.2h0M723.6 979.6h0M723.7 970.6h0M724.0 979.6h0M724.2 970.6h0M724.3 989.2h0M724.5 939.8h0M724.8 970.6h0M725.0 999.6h0M725.3 962.2h0M725.9 954.3h0M726.0 962.2h0M726.2 970.6h0M726.5 989.2h0M726.6 979.6h0M727.0 970.6h0M727.1 999.6h0M727.3 989.2h0M727.6 979.6h0M728.5 999.6h0M728.6 946.8h0M728.8 970.6h0M729.0 962.2h0M729.1 989.2h0M729.4 970.6h0M729.7 989.2h0M730.0 999.6h0M730.2 989.2h0M730.5 999.6h0M730.7 970.6h0M730.8 989.2h0M731.1 970.6h0M731.3 979.6h0M731.7 989.2h0M731.9 999.6h0M732.0 970.6h0M732.4 989.2h0M732.5 989.2h0M732.7 954.3h0M732.8 970.6h0M733.1 989.2h0M733.6 999.6h0M733.7 962.2h0M734.0 989.2h0M734.4 979.6h0M734.5 999.6h0M734.8 989.2h0M735.1 939.8h0M735.4 954.3h0M736.2 946.8h0M736.5 979.6h0M736.7 989.2h0M737.8 999.6h0M738.7 999.6h0M739.6 999.6h0M739.8 989.2h0M739.9 999.6h0M740.1 962.2h0M741.3 989.2h0M741.5 999.6h0M741.8 999.6h0M742.8 999.6h0M743.6 989.2h0M743.9 999.6h0M744.4 989.2h0M744.7 989.2h0M744.8 999.6h0M745.9 989.2h0M746.2 979.6h0M746.7 999.6h0M749.3 999.6h0M752.4 999.6h0M753.3 999.6h0M753.6 999.6h0M754.6 999.6h0M754.7 979.6h0M754.9 999.6h0M755.8 979.6h0M756.9 999.6h0M758.6 999.6h0M759.5 989.2h0M761.2 999.6h0M762.1 999.6h0M765.7 979.6h0M773.1 979.6h0M703.3 1011.0H708.7M725.3 1011.0H731.7M748.3 1011.0H756.7M775.3 1011.0H786.7M728.3 1023.4H771.7M778.3 1023.4H796.7M723.3 1037.1H766.7M773.3 1037.1H796.7M743.3 1052.5H796.7M753.3 1069.9H826.7M752.3 1090.0H816.7M783.3 1113.7H816.7M947.3 1113.7H959.7M758.3 1142.8H771.7M793.3 1142.8H816.7M793.3 1180.3H816.7M823.3 1180.3H851.7M823.3 1233.1H848.7M855.3 1233.1H861.7M1161.3 1233.1H1188.7M1803.3 1233.1H1812.7M823.3 1323.4H866.7M893.3 1323.4H913.7M1653.3 1323.4H1686.7M1873.3 1323.4H1876.7" fill="none" stroke="#1e69e1" stroke-width="11" stroke-linecap="round"/>
<path d="M746.0 1113.7h0M1023.0 1142.8h0M1124.0 1142.8h0M1243.0 1233.1h0M1383.0 1233.1h0M1555.0 1233.1h0M1253.0 1323.4h0M1265.0 1323.4h0M1277.0 1323.4h0M1293.0 1323.4h0M1311.0 1323.4h0M1329.0 1323.4h0M1349.0 1323.4h0M1361.0 1323.4h0M1373.0 1323.4h0M1385.0 1323.4h0M1396.0 1323.4h0M1493.0 1323.4h0M1505.0 1323.4h0M1517.0 1323.4h0M1534.0 1323.4h0M1546.0 1323.4h0M1558.0 1323.4h0M1570.0 1323.4h0M1582.0 1323.4h0M1624.0 1323.4h0M1636.0 1323.4h0M1647.5 1323.4h0M1763.0 1323.4h0M1781.0 1323.4h0M1799.0 1323.4h0M1817.0 1323.4h0" fill="none" stroke="#1e69e1" stroke-width="11" stroke-linecap="round"/>
<path d="M228.0,298.0 L229.5,275.0 L231.5,255.0 L235.5,237.0 L242.0,213.0 L251.0,188.5 L261.5,164.0 L268.0,155.0 L276.0,146.0 L289.0,134.0 L297.0,129.5 L304.0,126.0 L310.0,125.0 L310.0,131.0" fill="none" stroke="#32af69" stroke-width="12.5" stroke-linecap="round" stroke-linejoin="round"/>
<path d="M309.5,155.0 L310.5,170.0 L314.5,185.0 L319.0,199.0 L324.0,212.0 L329.5,224.0 L335.0,236.0" fill="none" stroke="#32af69" stroke-width="11" stroke-linecap="round" stroke-linejoin="round"/>
<path d="M309.0 155.1h0M309.1 157.2h0M309.3 161.2h0M309.5 164.0h0M309.6 163.7h0M309.9 164.9h0M310.1 167.8h0M310.5 170.4h0M310.7 172.5h0M311.0 175.0h0M311.2 170.7h0M311.3 172.6h0M311.5 175.4h0M311.6 179.6h0M311.8 177.3h0M311.9 176.4h0M312.2 179.2h0M312.4 180.2h0M312.6 179.0h0M312.7 180.5h0M312.9 181.0h0M313.0 183.8h0M313.2 182.4h0M313.3 180.2h0M313.5 181.7h0M313.6 181.6h0M313.8 182.9h0M313.9 180.8h0M314.1 186.4h0M314.2 184.6h0M314.4 185.7h0M314.6 183.0h0M314.7 185.0h0M314.9 183.4h0M315.0 184.5h0M315.2 183.7h0M315.3 185.3h0M315.5 187.2h0M315.6 190.0h0M315.8 189.3h0M315.9 186.7h0M316.1 185.3h0M316.2 189.9h0M316.4 191.2h0M316.6 190.7h0M316.7 195.5h0M316.9 191.0h0M317.0 193.2h0M317.3 194.0h0M317.6 192.5h0M317.8 197.9h0M317.9 194.7h0M318.1 197.8h0M318.6 198.9h0M318.7 199.7h0M318.9 197.7h0M319.0 198.7h0M319.2 197.7h0M319.5 204.0h0M319.6 198.6h0M319.8 200.4h0M319.9 203.2h0M320.1 200.2h0M320.3 203.3h0M320.4 199.8h0M320.6 206.1h0M320.7 201.9h0M320.9 207.9h0M321.0 204.9h0M321.2 207.6h0M321.3 207.4h0M321.6 205.1h0M321.8 207.3h0M321.9 212.2h0M322.1 207.0h0M322.3 208.3h0M322.4 209.2h0M322.6 204.1h0M322.7 209.9h0M322.9 208.5h0M323.0 211.2h0M323.2 212.3h0M323.3 208.1h0M323.5 208.8h0M323.6 214.1h0M323.8 212.4h0M324.0 212.8h0M324.1 213.8h0M324.3 207.9h0M324.4 216.1h0M324.6 212.2h0M324.7 209.2h0M324.9 214.0h0M325.0 212.1h0M325.2 213.8h0M325.4 214.7h0M325.5 212.0h0M325.6 216.0h0M325.8 217.3h0M326.0 216.2h0M326.1 217.5h0M326.4 213.8h0M326.6 219.5h0M326.7 217.2h0M326.9 219.1h0M327.0 217.8h0M327.4 223.9h0M327.5 220.2h0M327.7 217.1h0M327.8 220.5h0M328.0 222.8h0M328.1 218.1h0M328.3 220.6h0M328.4 224.8h0M328.6 224.9h0M328.7 222.3h0M328.9 223.7h0M329.1 225.1h0M329.2 220.8h0M329.4 223.5h0M329.5 225.9h0M329.7 220.9h0M329.8 226.4h0M330.4 228.9h0M330.6 227.8h0M330.9 229.7h0M331.1 225.4h0M331.2 230.3h0M331.4 222.9h0M331.5 223.1h0M331.7 230.2h0M331.8 230.8h0M332.0 228.5h0M332.1 231.1h0M332.3 228.9h0M332.4 232.8h0M332.6 229.5h0M332.9 234.1h0M333.1 229.6h0M333.2 232.1h0M333.4 228.9h0M333.5 233.3h0M333.7 233.5h0M333.8 232.5h0M334.0 236.0h0M334.1 237.9h0M334.3 235.9h0M334.6 232.8h0M334.8 234.6h0M335.1 239.7h0M335.2 234.3h0M335.4 238.6h0M335.5 240.0h0M335.7 238.5h0M335.8 235.4h0M336.0 237.7h0M336.1 239.6h0M336.3 238.4h0M336.4 239.9h0M336.6 239.8h0M336.9 238.7h0M337.1 236.4h0M337.2 241.6h0M337.5 239.4h0M337.8 245.9h0M338.0 242.0h0M338.1 241.1h0M338.3 242.9h0M338.6 240.3h0M338.8 244.0h0M338.9 245.7h0M339.1 246.8h0M339.2 245.4h0M339.4 248.1h0M339.5 244.0h0M339.7 242.0h0M339.8 245.4h0M340.1 246.8h0M340.3 249.2h0M340.5 247.3h0M340.6 247.3h0M340.8 244.7h0M340.9 244.3h0M341.1 244.9h0M341.2 246.0h0M341.4 248.6h0M341.5 250.7h0M341.7 247.6h0M341.8 247.5h0M342.0 245.4h0M342.1 248.5h0M342.3 245.6h0M342.5 249.6h0M342.6 251.2h0M342.8 248.8h0M342.9 246.8h0M343.1 251.1h0M343.2 245.9h0M343.4 249.3h0M343.5 248.5h0M343.9 251.1h0M344.0 249.4h0M344.2 252.4h0M344.3 243.9h0M344.5 252.6h0M344.6 250.5h0M344.8 253.3h0M344.9 249.3h0M345.1 250.4h0M345.2 252.1h0M345.6 252.5h0M345.7 250.9h0M345.9 249.3h0M346.2 250.1h0M346.3 251.3h0M346.5 253.4h0M346.6 249.4h0M346.8 252.4h0M346.9 251.1h0M347.1 258.6h0M347.2 255.7h0M347.4 253.0h0M347.6 253.1h0M347.7 253.7h0M348.0 255.2h0M348.2 253.7h0M348.3 257.9h0M348.5 260.3h0M348.6 258.3h0M348.8 254.8h0M348.9 253.7h0M349.1 264.0h0M349.2 261.5h0M349.4 257.1h0M349.6 257.3h0M349.7 259.2h0M350.0 261.8h0M350.2 257.9h0M350.3 255.0h0M350.5 263.2h0M350.6 262.0h0M350.8 264.5h0M350.9 260.0h0M351.1 262.2h0M351.2 262.6h0M351.4 260.6h0M351.6 257.8h0M351.7 265.5h0M351.9 261.3h0M352.0 258.7h0M352.2 262.4h0M352.3 267.2h0M352.5 270.7h0M352.6 263.8h0M352.8 266.6h0M352.9 263.8h0M353.1 265.7h0M353.3 267.5h0M353.4 269.1h0M353.6 267.1h0M353.7 266.2h0M353.9 264.3h0M354.0 268.6h0M354.2 271.9h0M354.3 263.1h0M354.5 265.2h0M354.6 265.3h0M354.8 269.5h0M354.9 269.9h0M355.1 271.6h0M355.3 267.9h0M355.4 272.0h0M355.6 268.2h0M355.7 271.0h0M355.9 273.2h0M356.0 271.0h0M356.3 269.5h0M356.5 267.7h0M356.6 273.2h0M356.8 274.3h0M357.0 272.6h0M357.1 270.6h0M357.3 270.0h0M357.4 273.1h0M357.6 275.4h0M357.7 271.4h0M357.9 275.7h0M358.0 277.0h0M358.2 272.8h0M358.3 277.9h0M358.5 272.9h0M358.6 271.4h0M358.8 273.8h0M359.1 277.9h0M359.4 276.1h0M359.6 274.6h0M359.7 275.9h0M360.0 274.3h0M360.2 271.2h0M360.4 274.1h0M360.5 276.2h0M360.7 280.0h0M360.8 276.1h0M361.0 279.8h0M361.1 280.6h0M361.4 274.7h0M361.6 279.7h0M361.7 278.4h0M361.9 280.4h0M362.2 283.2h0M362.4 281.8h0M362.5 279.5h0M362.7 283.2h0M362.8 286.1h0M363.0 282.1h0M363.1 282.9h0M363.3 284.1h0M363.4 280.1h0M363.6 279.8h0M363.7 285.7h0M363.9 286.9h0M364.1 284.2h0M364.2 281.4h0M364.4 282.3h0M364.5 283.9h0M364.8 285.8h0M365.0 287.8h0M365.1 284.4h0M365.3 286.8h0M365.4 288.9h0M365.6 285.4h0M365.8 289.0h0M365.9 290.5h0M366.1 287.3h0M366.2 289.4h0M366.4 290.2h0M366.5 288.4h0M366.7 289.0h0M366.8 290.4h0M367.0 288.2h0M367.1 293.6h0M367.3 288.3h0M367.4 289.7h0M367.6 293.4h0M367.8 290.0h0M367.9 292.7h0M368.1 289.8h0M368.2 291.1h0M368.4 298.0h0M368.5 293.0h0M368.7 287.3h0M368.8 293.4h0M369.0 290.2h0M369.1 298.6h0M369.3 293.4h0M369.4 294.3h0M369.6 297.5h0M369.8 293.1h0M369.9 288.5h0M370.1 296.7h0M370.4 288.8h0M370.5 299.5h0M370.7 294.9h0M370.8 297.7h0M371.0 293.8h0M371.1 302.5h0M371.3 293.6h0M371.4 299.5h0M371.6 300.7h0M371.8 298.2h0M371.9 302.0h0M372.2 297.2h0M372.5 294.7h0M372.7 301.7h0M372.8 299.0h0M373.0 303.6h0M373.1 296.8h0M373.3 299.6h0M373.5 296.5h0M373.6 301.9h0M373.8 311.5h0M373.9 297.7h0M374.1 297.4h0M374.2 301.6h0M374.4 300.5h0M374.5 308.3h0M374.7 302.1h0M374.8 305.9h0M375.0 306.8h0M375.1 304.5h0M375.3 306.0h0M375.5 300.8h0M375.6 305.1h0M375.8 308.3h0M375.9 306.2h0M376.1 305.0h0M376.2 306.4h0M376.5 308.5h0M376.7 310.8h0M376.9 304.8h0M377.0 309.3h0M377.3 306.6h0M377.5 308.4h0M377.6 312.1h0M377.8 309.7h0M377.9 309.1h0M378.1 305.6h0M378.2 314.2h0M378.5 309.3h0M379.0 310.8h0M379.5 315.2h0M379.6 315.3h0M379.8 309.9h0M379.9 314.8h0M380.1 312.5h0M380.6 308.4h0M380.7 315.7h0M380.9 312.6h0M381.0 316.1h0M381.2 315.2h0M381.3 310.3h0M381.5 315.2h0M381.6 316.0h0M381.8 316.8h0M381.9 319.9h0M382.1 317.8h0M382.6 317.7h0M382.7 321.7h0M382.9 321.0h0M383.0 319.6h0M383.2 315.1h0M383.3 320.7h0M383.5 318.1h0M383.6 316.5h0M383.8 317.9h0M383.9 317.1h0M384.1 321.4h0M384.2 319.3h0M384.4 316.6h0M384.6 317.1h0M384.7 317.8h0M384.9 322.9h0M385.0 324.8h0M385.2 321.6h0M385.3 320.5h0M385.5 321.4h0M385.6 325.1h0M385.8 326.4h0M385.9 328.7h0M386.1 320.0h0M386.2 322.9h0M386.4 324.9h0M386.6 322.3h0M386.7 319.1h0M386.9 314.9h0M387.0 320.9h0M387.2 322.4h0M387.3 331.4h0M387.5 322.4h0M387.6 326.2h0M387.9 328.5h0M388.1 326.5h0M388.4 328.1h0M388.6 325.2h0M388.7 325.7h0M388.9 324.6h0M389.0 328.2h0M389.2 328.6h0M389.3 329.9h0M389.5 326.6h0M389.6 326.1h0M390.1 324.3h0M390.3 326.9h0M390.4 329.4h0M390.6 330.0h0M390.7 331.0h0M390.9 327.8h0M391.0 330.4h0M391.2 327.7h0M391.3 329.2h0M391.5 328.7h0M391.6 330.6h0M392.0 328.1h0M392.1 333.1h0M392.3 329.6h0M392.4 329.4h0M392.6 333.7h0M392.7 334.9h0M393.0 331.6h0M393.2 330.5h0M393.4 336.7h0M393.5 341.6h0M393.7 336.4h0M393.8 337.1h0M394.0 333.8h0M394.1 334.7h0M394.3 333.4h0M394.4 337.5h0M394.6 341.4h0M394.7 335.1h0M394.9 344.8h0M395.0 334.9h0M395.2 334.0h0M395.4 336.7h0M395.5 343.8h0M395.7 340.9h0M396.0 341.9h0M396.1 334.2h0M396.3 340.5h0M396.4 340.2h0M396.6 338.9h0M396.7 340.1h0M396.9 341.0h0M397.1 336.3h0M397.2 334.3h0M397.4 335.7h0M397.5 341.1h0M397.7 347.0h0M397.8 339.9h0M398.0 339.3h0M398.1 343.0h0M398.3 349.1h0M398.4 339.9h0M398.6 341.8h0M398.9 344.3h0M399.1 341.7h0M399.2 339.2h0M399.4 347.4h0M399.5 348.1h0M399.7 347.0h0M399.8 343.8h0M400.0 347.5h0M400.1 342.3h0M400.3 344.3h0M400.4 349.8h0M400.6 340.8h0M400.8 349.8h0M400.9 348.1h0M401.1 349.2h0M401.2 351.8h0M401.4 351.2h0M401.5 349.4h0M401.7 351.2h0M401.8 352.9h0M402.0 349.1h0M402.1 353.9h0M402.3 349.2h0M402.4 350.9h0M402.6 355.9h0M402.8 353.8h0M402.9 350.1h0M403.1 350.6h0M403.2 348.6h0M403.4 352.3h0M403.5 355.6h0M403.8 353.4h0M404.0 357.5h0M404.1 353.6h0M404.3 352.4h0M404.4 358.3h0M404.6 362.4h0M404.9 358.9h0M405.1 361.1h0M405.2 352.1h0M405.4 353.3h0M405.5 364.1h0M405.7 357.9h0M406.1 356.8h0M406.3 359.2h0M406.6 363.7h0M406.8 360.9h0M406.9 358.6h0M407.1 361.8h0M407.2 356.7h0M407.4 364.2h0M407.5 359.1h0M407.7 362.3h0M407.8 360.1h0M408.0 358.4h0M408.1 362.6h0M408.6 361.0h0M408.8 369.2h0M408.9 357.7h0M409.1 360.9h0M409.2 363.5h0M409.4 362.4h0M409.5 362.6h0M409.7 359.0h0M409.9 373.0h0M410.0 366.7h0M410.2 368.5h0M410.5 370.1h0M410.6 368.8h0M410.8 369.6h0M410.9 368.0h0M411.1 362.6h0M411.2 365.8h0M411.4 362.8h0M411.5 366.2h0M411.7 373.1h0M411.9 369.5h0M412.0 369.4h0M412.2 372.3h0M412.3 373.7h0M412.5 366.6h0M412.6 364.0h0M412.8 366.6h0M412.9 373.7h0M413.1 370.5h0M413.2 374.4h0M413.4 375.2h0M413.6 375.4h0M413.9 375.8h0M414.0 377.4h0M414.3 374.2h0M414.5 372.7h0M414.6 378.2h0M414.8 374.4h0M414.9 380.1h0M415.1 379.3h0M415.2 376.4h0M415.4 375.1h0M415.6 379.6h0M415.9 374.7h0M416.0 376.0h0M416.2 382.5h0M416.3 374.1h0M416.5 372.4h0M416.6 382.8h0M416.8 381.1h0M416.9 376.2h0M417.1 380.8h0M417.2 381.7h0M417.4 373.0h0M417.6 384.8h0M417.7 381.7h0M417.9 378.7h0M418.0 376.0h0M418.2 384.2h0M418.3 381.1h0M418.5 386.1h0M418.6 384.0h0M418.8 381.4h0M418.9 383.2h0M419.1 378.3h0M419.2 381.9h0M419.4 380.4h0M419.6 384.2h0M419.7 382.1h0M420.0 378.2h0M420.2 382.7h0M420.3 383.6h0M420.5 385.4h0M420.6 384.3h0M420.8 388.7h0M420.9 379.6h0M421.1 386.5h0M421.3 386.1h0M421.4 387.7h0M421.6 385.9h0M421.9 392.5h0M422.0 388.9h0M422.2 390.5h0M422.3 385.5h0M422.5 390.0h0M422.6 387.2h0M422.8 389.0h0M422.9 392.3h0M423.1 385.8h0M423.3 388.1h0M423.4 383.2h0M423.6 391.8h0M423.7 390.0h0M423.9 386.4h0M424.0 388.6h0M424.2 383.7h0M424.3 394.2h0M424.5 392.4h0M424.6 392.9h0M424.8 394.9h0M425.0 388.4h0M425.1 396.2h0M425.3 391.9h0M425.4 400.6h0M425.6 396.9h0M425.7 395.9h0M425.9 395.1h0M426.0 391.6h0M426.2 393.7h0M426.4 397.8h0M426.5 393.6h0M426.6 393.8h0M426.8 402.9h0M427.0 395.6h0M427.1 399.3h0M427.3 401.0h0M427.4 399.4h0M427.6 396.4h0M427.7 399.6h0M427.9 391.0h0M428.0 404.2h0M428.2 399.8h0M428.4 396.4h0M428.5 399.5h0M428.7 397.6h0M429.0 403.3h0M429.1 398.8h0M429.3 405.6h0M429.4 402.6h0M429.6 402.7h0M429.7 396.6h0M429.9 403.4h0M430.1 401.7h0M430.2 402.7h0M430.5 397.2h0M430.7 400.3h0M430.8 404.4h0M431.0 407.0h0M431.1 397.4h0M431.3 402.4h0M431.4 411.7h0M431.6 401.6h0M431.7 402.6h0M432.1 404.3h0M432.2 410.2h0M432.5 403.9h0M432.7 407.2h0M433.1 410.0h0M433.3 415.4h0M433.4 404.6h0M433.6 403.7h0M433.8 408.6h0M433.9 407.9h0M434.1 404.3h0M434.2 413.7h0M434.4 413.4h0M434.5 411.6h0M434.7 411.3h0M434.8 417.3h0M435.0 407.9h0M435.1 412.2h0M435.3 415.1h0M435.4 409.3h0M435.6 407.6h0M435.8 409.6h0M435.9 412.3h0M436.1 412.5h0M436.2 417.4h0M436.4 417.7h0M436.5 414.1h0M436.7 412.6h0M436.8 404.7h0M437.0 412.6h0M437.1 415.8h0M437.3 418.7h0M437.4 412.4h0M437.6 418.8h0M437.8 420.4h0M437.9 411.2h0M438.1 416.6h0M438.2 414.1h0M438.4 417.8h0M438.5 418.8h0M438.7 403.3h0M438.8 421.6h0M439.0 420.1h0M439.1 424.6h0M439.3 420.6h0M439.4 419.7h0M439.6 416.9h0M439.8 420.8h0M439.9 424.6h0M440.1 409.1h0M440.2 425.2h0M440.4 423.9h0M440.5 410.9h0M440.7 421.5h0M440.8 424.3h0M441.0 418.0h0M441.1 430.2h0M441.3 427.2h0M441.5 425.1h0M441.6 428.0h0M441.8 425.8h0M441.9 414.7h0M442.1 427.6h0M442.2 424.4h0M442.4 425.1h0M442.5 423.9h0M442.7 432.2h0M442.9 426.7h0M443.0 418.2h0M443.1 427.5h0M443.3 420.4h0M443.5 426.0h0M443.6 428.2h0M443.8 432.7h0M443.9 425.4h0M444.1 423.1h0M444.2 425.9h0M444.4 427.9h0M444.5 430.2h0M444.7 434.3h0M444.9 432.2h0M445.0 427.2h0M445.2 429.3h0M445.3 423.7h0M445.5 430.8h0M445.6 429.3h0M445.8 426.7h0M445.9 435.0h0M446.1 425.5h0M446.2 430.4h0M446.4 432.7h0M446.6 436.7h0M446.7 430.8h0M447.0 426.4h0M447.2 436.7h0M447.5 427.1h0M447.6 439.0h0M447.8 435.7h0M447.9 433.0h0M448.1 436.7h0M448.2 440.2h0M448.4 426.8h0M448.6 429.8h0M448.7 440.2h0M448.9 435.4h0M449.0 439.0h0M449.2 438.4h0M449.3 438.9h0M449.5 440.5h0M449.6 430.1h0M449.8 435.3h0M449.9 442.0h0M450.1 436.0h0M450.2 435.3h0M450.4 434.4h0M450.6 439.6h0M450.7 443.2h0M450.9 429.3h0M451.0 440.1h0M451.2 442.8h0M451.3 452.0h0M451.5 446.0h0M451.6 448.6h0M451.8 445.2h0M451.9 443.7h0M452.1 433.8h0M452.2 442.1h0M452.4 439.5h0M452.6 452.0h0M452.7 440.9h0M452.9 448.8h0M453.0 443.8h0M453.2 449.9h0M453.3 443.5h0M453.5 451.2h0M453.6 448.0h0M453.8 445.6h0M453.9 438.1h0M454.1 444.3h0M454.3 448.3h0M454.4 438.7h0M454.6 450.4h0M454.7 446.0h0M454.9 450.4h0M455.0 446.0h0M455.2 453.0h0M455.3 452.0h0M455.5 445.8h0M455.6 448.3h0M455.8 447.1h0M455.9 451.8h0M456.1 455.9h0M456.3 447.1h0M456.4 450.7h0M456.6 447.5h0M456.7 451.5h0M456.9 447.1h0M457.0 458.1h0M457.2 452.3h0M457.6 446.3h0M457.8 454.3h0M458.0 456.1h0M458.1 456.9h0M458.3 450.9h0M458.4 452.6h0M458.6 451.2h0M458.7 459.0h0M458.9 455.3h0M459.2 462.6h0M459.4 450.4h0M459.5 454.3h0M459.6 460.5h0M459.8 449.1h0M460.1 460.5h0M460.3 469.3h0M460.4 452.0h0M460.6 455.9h0M460.7 457.6h0M460.9 462.6h0M461.0 457.8h0M461.2 455.9h0M461.4 460.7h0M461.5 453.1h0M461.7 461.6h0M461.8 461.4h0M462.0 454.6h0M462.1 457.3h0M462.3 460.4h0M462.4 461.2h0M462.6 456.4h0M462.7 467.7h0M462.9 458.0h0M463.1 460.5h0M463.2 455.4h0M463.4 457.3h0M463.5 468.9h0M463.7 459.2h0M463.8 462.3h0M464.0 463.7h0M464.1 466.4h0M464.3 467.1h0M464.4 462.1h0M464.6 459.8h0M464.7 464.1h0M464.9 460.5h0M465.2 472.5h0M465.4 461.2h0M465.5 469.9h0M465.7 470.8h0M465.8 465.1h0M466.0 472.9h0M466.1 469.9h0M466.4 472.3h0M466.6 462.4h0M466.8 468.6h0M466.9 472.9h0M467.1 461.4h0M467.2 468.4h0M467.4 465.5h0M467.5 475.6h0M467.7 475.2h0M467.8 479.1h0M468.0 472.1h0M468.1 475.6h0M468.3 471.6h0M468.4 470.8h0M468.6 468.4h0M468.8 477.3h0M468.9 473.3h0M469.1 479.1h0M469.2 468.2h0M469.4 473.8h0M469.5 488.7h0M469.7 473.5h0M469.8 477.1h0M470.1 477.5h0M470.3 479.5h0M470.6 468.9h0M470.8 476.4h0M470.9 465.3h0M471.1 492.6h0M471.2 481.9h0M471.4 469.1h0M471.5 473.6h0M471.7 478.1h0M471.8 488.2h0M472.0 480.9h0M472.1 485.5h0M472.3 479.1h0M472.4 480.9h0M472.6 476.4h0M472.8 486.7h0M472.9 483.2h0M473.1 484.2h0M473.2 490.8h0M473.4 482.6h0M473.5 488.9h0M473.7 486.7h0M473.8 474.6h0M474.0 481.9h0M474.1 495.1h0M474.3 477.5h0M474.5 478.5h0M474.6 477.9h0M474.8 491.3h0M474.9 487.2h0M475.1 488.0h0M475.2 483.2h0M475.4 482.4h0M475.5 474.8h0M475.7 489.1h0M475.8 480.1h0M476.0 485.3h0M476.1 487.2h0M476.3 493.0h0M476.5 490.6h0M476.6 491.0h0M476.8 475.6h0M476.9 486.3h0M477.1 482.2h0M477.2 496.9h0M477.4 489.3h0M477.5 490.2h0M477.7 486.5h0M477.9 497.1h0M478.0 490.8h0M478.2 496.2h0M478.3 488.0h0M478.5 489.5h0M478.6 500.4h0M478.8 500.8h0M478.9 492.4h0M479.1 491.5h0M479.4 488.4h0M479.6 488.4h0M479.7 494.6h0M479.9 491.7h0M480.0 498.0h0M480.2 482.8h0M480.3 500.1h0M480.5 496.6h0M480.6 489.5h0M480.8 497.1h0M480.9 498.5h0M481.1 499.2h0M481.2 496.6h0M481.4 499.4h0M481.6 496.2h0M481.7 508.9h0M481.9 498.9h0M482.0 501.8h0M482.2 492.6h0M482.3 495.3h0M482.5 502.5h0M482.6 504.2h0M482.8 502.0h0M482.9 497.6h0M483.1 492.4h0M483.2 506.4h0M483.4 504.2h0M483.6 503.2h0M483.7 505.4h0M483.9 503.9h0M484.0 498.7h0M484.2 503.0h0M484.3 507.9h0M484.5 505.6h0M484.6 498.0h0M484.8 514.5h0M484.9 509.9h0M485.1 506.4h0M485.2 505.1h0M485.4 506.6h0M485.6 509.6h0M485.7 501.1h0M485.9 507.4h0M486.0 512.4h0M486.2 502.0h0M486.3 499.4h0M486.5 507.9h0M486.6 508.1h0M486.8 503.7h0M486.9 509.6h0M487.1 499.2h0M487.3 511.4h0M487.4 501.1h0M487.6 510.4h0M487.7 502.7h0M487.9 515.0h0M488.0 517.7h0M488.2 512.1h0M488.3 509.4h0M488.5 506.6h0M488.6 508.6h0M488.8 512.9h0M489.1 503.0h0M489.3 504.9h0M489.4 516.1h0M489.6 508.9h0M489.7 501.5h0M489.9 506.1h0M490.0 511.6h0M490.2 507.6h0M490.3 513.7h0M490.5 522.0h0M490.6 511.4h0M490.8 509.9h0M491.0 514.2h0M491.1 515.0h0M491.3 517.4h0M491.4 514.2h0M491.6 516.6h0M491.7 519.8h0M491.9 520.7h0M492.0 519.3h0M492.2 506.1h0M492.3 521.2h0M492.6 509.6h0M492.8 523.7h0M493.0 520.1h0M493.1 520.7h0M493.3 522.3h0M493.4 518.0h0M493.6 517.1h0M493.7 519.0h0M493.9 524.9h0M494.0 515.3h0M494.2 524.3h0M494.4 520.7h0M494.5 508.4h0M494.7 519.0h0M494.8 522.6h0M495.0 521.5h0M495.1 520.1h0M495.4 525.1h0M495.6 523.2h0M495.7 525.1h0M495.9 533.1h0M496.0 526.0h0M496.2 529.8h0M496.4 518.5h0M496.5 520.4h0M496.7 529.8h0M496.8 533.4h0M497.0 534.0h0M497.1 523.4h0M497.3 518.5h0M497.4 524.9h0M497.6 529.5h0M497.7 527.1h0M498.1 528.0h0M498.5 528.6h0M498.7 531.3h0M498.8 542.1h0M499.0 521.2h0M499.1 515.3h0M499.3 528.3h0M499.4 525.7h0M499.6 528.0h0M499.8 535.8h0M499.9 531.9h0M500.1 525.4h0M500.2 530.7h0M500.4 535.8h0M500.5 530.7h0M500.7 538.3h0M500.8 531.3h0M501.0 522.6h0M501.1 531.9h0M501.3 538.6h0M501.4 528.6h0M501.6 531.5h0M501.8 536.7h0M501.9 517.4h0M502.1 541.5h0M502.2 524.9h0M502.4 534.6h0M502.5 537.0h0M502.7 529.2h0M502.8 534.0h0M503.0 533.4h0M503.1 538.0h0M503.3 532.5h0M503.4 527.7h0M503.6 530.7h0M503.8 544.4h0M503.9 546.8h0M504.1 542.1h0M504.2 531.9h0M504.4 537.0h0M504.5 541.2h0M504.8 546.8h0M505.0 536.4h0M505.1 530.7h0M505.3 534.9h0M505.4 550.1h0M505.6 543.8h0M505.8 551.9h0M505.9 543.8h0M506.1 549.8h0M506.2 550.8h0M506.4 525.4h0M506.5 539.9h0M506.7 536.7h0M506.8 539.9h0M507.0 548.1h0M507.1 539.2h0M507.3 545.4h0M507.5 554.4h0M507.6 545.8h0M507.8 542.5h0M507.9 555.4h0M508.1 543.1h0M508.2 534.6h0M508.4 538.9h0M508.5 538.0h0M508.7 548.8h0M508.8 552.9h0M509.0 535.5h0M509.1 541.5h0M509.3 529.5h0M509.5 545.8h0M509.6 549.5h0M509.8 542.5h0M509.9 538.6h0M510.1 547.8h0M510.2 542.8h0M510.4 542.1h0M510.5 541.2h0M510.7 536.7h0M510.9 551.2h0M511.0 538.9h0M511.2 544.1h0M511.3 559.4h0M511.5 557.6h0M511.6 553.3h0M511.8 558.7h0M511.9 551.9h0M512.2 553.3h0M512.4 551.5h0M512.5 540.8h0M512.7 544.8h0M512.9 538.6h0M513.0 544.8h0M513.2 555.8h0M513.3 553.6h0M513.5 549.1h0M513.6 538.0h0M513.8 553.6h0M513.9 552.2h0M514.1 552.9h0M514.2 547.1h0M514.4 544.8h0M514.5 538.0h0M514.7 561.3h0M514.9 546.8h0M515.0 571.5h0M515.2 554.7h0M515.3 543.4h0M515.5 550.5h0M515.6 556.9h0M515.8 551.2h0M515.9 567.5h0M516.1 551.2h0M516.2 546.1h0M516.4 545.4h0M516.5 560.5h0M516.7 543.1h0M516.9 556.5h0M517.0 559.1h0M517.2 550.1h0M517.3 554.4h0M517.5 550.8h0M517.6 560.5h0M517.8 562.0h0M517.9 564.3h0M518.1 553.6h0M518.2 559.4h0M518.4 552.9h0M518.6 556.5h0M518.7 550.8h0M518.9 560.5h0M519.0 567.1h0M519.2 559.4h0M519.3 552.9h0M519.5 572.3h0M519.6 565.1h0M519.8 565.5h0M520.0 559.8h0M520.1 561.3h0M520.2 564.0h0M520.4 555.1h0M520.6 564.0h0M520.7 555.1h0M520.9 564.7h0M521.0 560.2h0M521.2 546.8h0M521.3 557.2h0M521.5 548.4h0M521.6 579.8h0M521.8 556.1h0M522.0 562.8h0M522.1 558.7h0M522.3 572.7h0M522.4 556.9h0M522.6 565.1h0M522.7 563.2h0M522.9 563.6h0M523.0 557.6h0M523.2 572.3h0M523.3 564.7h0M523.5 559.4h0M523.6 560.2h0M523.8 565.1h0M524.0 563.2h0M524.1 570.6h0M524.3 562.4h0M524.4 558.0h0M524.6 556.1h0M524.7 571.0h0M524.9 566.3h0M525.0 568.2h0M525.2 570.2h0M525.3 571.0h0M525.5 562.4h0M525.6 574.3h0M525.8 578.1h0M526.0 564.0h0M526.1 569.8h0M526.3 567.9h0M526.4 568.6h0M526.6 559.1h0M526.7 579.4h0M526.9 569.0h0M527.0 559.1h0M527.2 563.6h0M527.4 569.8h0M527.5 568.2h0M527.7 569.8h0M527.8 573.5h0M528.0 579.8h0M528.1 584.7h0M528.3 583.3h0M528.4 576.8h0M528.6 573.1h0M528.7 569.8h0M529.0 578.1h0M529.2 567.9h0M529.4 580.3h0M529.5 579.0h0M529.7 571.0h0M529.8 574.7h0M530.1 564.7h0M530.3 582.0h0M530.4 580.7h0M530.6 569.4h0M530.7 578.5h0M530.9 577.7h0M531.0 581.6h0M531.2 589.2h0M531.4 574.7h0M531.5 575.1h0M531.7 581.6h0M531.8 567.1h0M532.0 562.4h0M532.1 577.7h0M532.3 587.9h0M532.4 588.8h0M532.6 582.5h0M532.7 585.6h0M532.9 580.3h0M533.0 569.8h0M533.2 583.3h0M533.4 599.9h0M533.5 592.1h0M533.7 593.0h0M533.8 583.8h0M534.0 577.3h0M534.1 584.7h0M534.4 576.0h0M534.6 585.1h0M534.8 577.3h0M534.9 582.5h0M535.2 574.7h0M535.4 597.9h0M535.5 602.0h0M535.7 574.3h0M535.8 590.7h0M536.0 586.0h0M536.1 580.3h0M536.3 577.7h0M536.5 583.3h0M536.6 586.0h0M536.8 606.6h0M536.9 580.3h0M537.1 592.5h0M537.2 590.2h0M537.4 593.0h0M537.5 592.1h0M537.7 597.4h0M537.8 593.0h0M538.0 582.5h0M538.1 596.9h0M538.3 579.4h0M538.5 582.9h0M538.6 593.5h0M538.8 585.1h0M538.9 598.9h0M539.1 580.7h0M539.2 592.1h0M539.4 590.7h0M539.5 598.9h0M539.7 608.3h0M539.8 593.5h0M540.0 609.3h0M540.1 600.4h0M540.5 600.9h0M540.6 612.6h0M540.8 585.1h0M540.9 592.1h0M541.2 600.9h0M541.4 595.9h0M541.5 598.4h0M541.7 613.8h0M541.8 599.4h0M542.0 602.0h0M542.1 608.3h0M542.3 592.1h0M542.5 597.9h0M542.6 604.5h0M542.8 592.1h0M542.9 605.6h0M543.1 597.9h0M543.2 596.4h0M543.4 593.0h0M543.5 589.2h0M543.7 593.5h0M544.0 598.4h0M544.2 593.0h0M544.3 607.2h0M544.5 611.5h0M544.6 595.9h0M544.8 590.7h0M544.9 614.9h0M545.1 612.1h0M545.2 604.0h0M545.4 607.7h0M545.5 606.1h0M545.7 596.9h0M545.9 609.3h0M546.0 603.5h0M546.2 609.3h0M546.3 611.5h0M546.5 613.2h0M546.6 609.9h0M546.8 617.2h0M546.9 606.6h0M547.1 605.1h0M547.2 605.6h0M547.4 604.0h0M547.5 615.5h0M547.7 617.8h0M547.9 607.2h0M548.0 619.5h0M548.2 603.5h0M548.3 605.6h0M548.5 597.4h0M548.6 607.7h0M548.8 614.9h0M548.9 611.5h0M549.1 603.5h0M549.2 607.2h0M549.4 611.0h0M549.5 610.4h0M549.7 606.6h0M549.9 602.5h0M550.0 623.7h0M550.2 620.7h0M550.3 612.6h0M550.5 617.2h0M550.6 615.5h0M550.8 609.9h0M550.9 622.5h0M551.1 592.5h0M551.2 626.7h0M551.4 608.8h0M551.6 598.4h0M551.7 617.8h0M551.9 607.7h0M552.0 618.3h0M552.2 607.7h0M552.3 612.6h0M552.5 620.1h0M552.6 633.7h0M552.8 637.7h0M552.9 608.8h0M553.1 615.5h0M553.2 628.0h0M553.6 624.3h0M553.7 622.5h0M553.9 616.0h0M554.0 621.9h0M554.2 625.5h0M554.3 623.1h0M554.5 597.9h0M554.6 639.1h0M554.8 636.4h0M555.0 625.5h0M555.1 616.6h0M555.3 621.9h0M555.4 620.7h0M555.6 621.3h0M555.7 631.1h0M555.9 611.0h0M556.0 613.2h0M556.2 617.2h0M556.3 624.9h0M556.5 629.2h0M556.6 641.9h0M556.8 616.6h0M557.0 628.6h0M557.3 625.5h0M557.4 648.3h0M557.6 635.7h0M557.7 623.1h0M557.9 629.9h0M558.0 607.7h0M558.2 635.7h0M558.3 637.7h0M558.5 621.3h0M558.6 623.1h0M558.8 637.7h0M559.0 648.3h0M559.1 622.5h0M559.3 613.8h0M559.4 625.5h0M559.6 635.1h0M559.7 630.5h0M559.9 636.4h0M560.2 629.2h0M560.4 624.9h0M560.5 625.5h0M560.6 611.5h0M560.8 637.1h0M561.0 626.7h0M561.3 652.0h0M561.4 639.1h0M561.6 635.1h0M561.7 635.7h0M561.9 617.8h0M562.0 630.5h0M562.2 635.7h0M562.4 646.8h0M562.5 633.1h0M562.7 626.1h0M562.8 633.7h0M563.0 626.1h0M563.1 633.1h0M563.4 639.8h0M563.6 651.2h0M563.7 641.9h0M563.9 631.8h0M564.0 633.7h0M564.2 621.9h0M564.4 641.1h0M564.5 631.8h0M564.7 628.0h0M564.8 636.4h0M565.1 642.5h0M565.3 631.8h0M565.4 635.7h0M565.6 638.4h0M565.7 645.4h0M565.9 634.4h0M566.0 657.4h0M566.2 636.4h0M566.4 633.7h0M566.5 631.8h0M566.7 657.4h0M566.8 644.0h0M567.0 655.0h0M567.1 652.0h0M567.3 644.7h0M567.4 636.4h0M567.6 644.0h0M567.8 634.4h0M567.9 643.2h0M568.1 654.3h0M568.2 646.1h0M568.5 652.7h0M568.7 644.0h0M568.8 623.1h0M569.0 666.3h0M569.1 650.5h0M569.3 641.1h0M569.4 637.1h0M569.6 647.5h0M569.8 642.5h0M569.9 651.2h0M570.1 631.8h0M570.2 655.8h0M570.4 634.4h0M570.5 642.5h0M570.7 638.4h0M570.8 629.2h0M571.0 635.7h0M571.1 644.7h0M571.3 653.5h0M571.5 638.4h0M571.6 652.0h0M571.8 627.4h0M571.9 655.8h0M572.1 663.0h0M572.2 659.0h0M572.4 643.2h0M572.5 635.7h0M572.7 639.8h0M572.8 637.1h0M573.0 643.2h0M573.1 638.4h0M573.3 643.2h0M573.5 658.1h0M573.6 656.6h0M573.8 642.5h0M573.9 652.0h0M574.1 640.5h0M574.2 645.4h0M574.4 653.5h0M574.5 637.1h0M574.7 656.6h0M574.8 655.0h0M575.0 646.1h0M575.1 650.5h0M575.3 643.2h0M575.5 645.4h0M575.6 647.5h0M575.8 656.6h0M575.9 655.0h0M576.1 649.8h0M576.2 644.7h0M576.4 656.6h0M576.5 665.5h0M576.7 653.5h0M576.9 652.7h0M577.0 649.0h0M577.1 653.5h0M577.3 638.4h0M577.5 636.4h0M577.6 664.6h0M577.8 669.7h0M577.9 637.1h0M578.1 659.7h0M578.2 666.3h0M578.4 649.8h0M578.5 655.0h0M578.7 637.7h0M578.9 649.8h0M579.0 637.1h0M579.2 649.8h0M579.3 645.4h0M579.5 640.5h0M579.6 669.7h0M579.8 647.5h0M579.9 645.4h0M580.1 660.5h0M580.2 658.1h0M580.4 652.7h0M580.5 648.3h0M580.7 652.7h0M580.9 655.8h0M581.0 654.3h0M581.2 663.0h0M581.3 654.3h0M581.5 674.1h0M581.6 656.6h0M581.8 667.1h0M581.9 649.8h0M582.1 654.3h0M582.2 662.2h0M582.4 665.5h0M582.5 675.0h0M582.7 664.6h0M582.9 668.0h0M583.0 663.8h0M583.3 664.6h0M583.5 655.0h0M583.6 664.6h0M583.8 659.0h0M583.9 658.1h0M584.1 659.0h0M584.2 660.5h0M584.4 664.6h0M584.6 673.2h0M584.7 660.5h0M584.9 663.0h0M585.0 676.8h0M585.2 673.2h0M585.3 685.3h0M585.5 673.2h0M585.6 670.6h0M585.8 677.7h0M585.9 661.4h0M586.1 663.0h0M586.2 659.7h0M586.4 655.0h0M586.6 676.8h0M586.7 671.4h0M586.9 668.9h0M587.0 665.5h0M587.2 652.0h0M587.3 665.5h0M587.5 675.0h0M587.6 665.5h0M588.0 681.4h0M588.1 686.2h0M588.3 670.6h0M588.4 677.7h0M588.6 671.4h0M588.7 672.3h0M588.9 675.9h0M589.0 669.7h0M589.2 659.7h0M589.3 671.4h0M589.5 672.3h0M589.6 666.3h0M589.8 668.0h0M590.0 674.1h0M590.1 652.0h0M590.3 661.4h0M590.4 659.7h0M590.6 665.5h0M590.7 673.2h0M590.9 667.1h0M591.0 663.8h0M591.2 675.0h0M591.3 668.9h0M591.5 669.7h0M591.6 666.3h0M591.8 677.7h0M592.0 673.2h0M592.1 688.2h0M592.3 679.6h0M592.6 691.2h0M592.7 680.5h0M592.9 683.3h0M593.0 693.3h0M593.2 666.3h0M593.3 673.2h0M593.5 666.3h0M593.6 675.0h0M593.8 677.7h0M594.0 672.3h0M594.1 702.9h0M594.3 687.2h0M594.4 707.5h0M594.6 672.3h0M594.7 666.3h0M594.9 668.0h0M595.0 668.9h0M595.2 676.8h0M595.4 706.3h0M595.5 684.3h0M595.7 685.3h0M595.8 694.3h0M596.1 682.4h0M596.3 693.3h0M596.4 663.8h0M596.6 686.2h0M596.9 675.9h0M597.0 692.3h0M597.2 680.5h0M597.4 677.7h0M597.5 686.2h0M597.7 679.6h0M597.8 697.5h0M598.0 674.1h0M598.1 701.8h0M598.3 687.2h0M598.4 680.5h0M598.6 672.3h0M598.7 699.6h0M598.9 692.3h0M599.0 702.9h0M599.2 690.2h0M599.4 688.2h0M599.5 675.9h0M599.7 698.6h0M599.8 688.2h0M600.0 687.2h0M600.1 684.3h0M600.3 689.2h0M600.4 696.4h0M600.6 700.7h0M600.8 684.3h0M600.9 680.5h0M601.0 685.3h0M601.2 700.7h0M601.4 688.2h0M601.5 694.3h0M601.7 689.2h0M601.8 697.5h0M602.0 704.1h0M602.1 688.2h0M602.3 695.4h0M602.4 677.7h0M602.6 684.3h0M602.8 676.8h0M602.9 685.3h0M603.1 688.2h0M603.2 702.9h0M603.4 692.3h0M603.5 702.9h0M603.7 669.7h0M603.8 694.3h0M604.0 681.4h0M604.1 687.2h0M604.3 701.8h0M604.5 683.3h0M604.6 709.8h0M604.8 689.2h0M604.9 701.8h0M605.1 709.8h0M605.2 686.2h0M605.4 676.8h0M605.5 684.3h0M605.7 700.7h0M606.0 704.1h0M606.1 692.3h0M606.3 691.2h0M606.5 694.3h0M606.6 688.2h0M606.8 713.4h0M606.9 701.8h0M607.1 717.0h0M607.2 708.6h0M607.4 690.2h0M607.5 709.8h0M607.7 691.2h0M607.8 699.6h0M608.0 697.5h0M608.1 700.7h0M608.3 704.1h0M608.5 709.8h0M608.6 699.6h0M608.8 704.1h0M608.9 697.5h0M609.1 691.2h0M609.2 714.6h0M609.4 686.2h0M609.5 711.0h0M609.7 687.2h0M609.8 698.6h0M610.0 689.2h0M610.1 708.6h0M610.3 701.8h0M610.5 697.5h0M610.6 676.8h0M610.8 706.3h0M610.9 687.2h0M611.1 715.8h0M611.2 700.7h0M611.4 715.8h0M611.5 689.2h0M611.7 701.8h0M611.9 720.8h0M612.0 711.0h0M612.2 702.9h0M612.3 720.8h0M612.5 717.0h0M612.6 730.1h0M612.8 699.6h0M612.9 701.8h0M613.1 712.2h0M613.2 719.5h0M613.4 697.5h0M613.5 726.0h0M613.7 705.2h0M613.9 707.5h0M614.0 683.3h0M614.2 723.4h0M614.3 713.4h0M614.5 718.3h0M614.6 690.2h0M614.8 720.8h0M614.9 713.4h0M615.1 702.9h0M615.4 718.3h0M615.5 708.6h0M615.7 711.0h0M615.9 727.4h0M616.0 706.3h0M616.2 697.5h0M616.5 713.4h0M616.6 697.5h0M616.8 693.3h0M616.9 715.8h0M617.1 701.8h0M617.2 702.9h0M617.4 714.6h0M617.5 717.0h0M617.7 706.3h0M617.9 717.0h0M618.0 726.0h0M618.2 700.7h0M618.3 712.2h0M618.5 718.3h0M618.6 709.8h0M618.8 727.4h0M618.9 713.4h0M619.1 707.5h0M619.2 722.1h0M619.4 713.4h0M619.6 707.5h0M619.7 715.8h0M619.9 712.2h0M620.0 730.1h0M620.2 708.6h0M620.3 728.7h0M620.5 717.0h0M620.6 718.3h0M620.8 732.9h0M621.0 715.8h0M621.1 724.7h0M621.3 722.1h0M621.4 732.9h0M621.6 717.0h0M621.7 728.7h0M621.9 726.0h0M622.0 741.5h0M622.2 718.3h0M622.3 706.3h0M622.5 719.5h0M622.6 714.6h0M622.8 724.7h0M623.0 727.4h0M623.1 719.5h0M623.4 718.3h0M623.6 727.4h0M623.7 728.7h0M623.9 706.3h0M624.0 720.8h0M624.2 719.5h0M624.3 752.5h0M624.5 701.8h0M624.6 709.8h0M624.8 741.5h0M625.0 720.8h0M625.1 694.3h0M625.3 735.7h0M625.4 722.1h0M625.6 744.6h0M625.7 728.7h0M625.9 724.7h0M626.2 735.7h0M626.5 757.5h0M626.6 746.1h0M626.8 706.3h0M627.0 738.6h0M627.1 734.3h0M627.3 732.9h0M627.4 754.1h0M627.6 749.3h0M627.7 728.7h0M627.9 738.6h0M628.0 708.6h0M628.2 715.8h0M628.4 719.5h0M628.5 735.7h0M628.7 731.5h0M628.8 728.7h0M629.0 735.7h0M629.1 718.3h0M629.3 746.1h0M629.4 722.1h0M629.6 732.9h0M629.7 724.7h0M629.9 706.3h0M630.0 731.5h0M630.2 747.7h0M630.4 744.6h0M630.5 714.6h0M630.7 732.9h0M630.8 720.8h0M631.0 749.3h0M631.1 746.1h0M631.3 728.7h0M631.4 747.7h0M631.6 737.1h0M631.7 740.1h0M631.9 732.9h0M632.0 747.7h0M632.2 730.1h0M632.4 760.9h0M632.5 717.0h0M632.7 734.3h0M632.8 715.8h0M633.0 747.7h0M633.1 744.6h0M633.3 723.4h0M633.4 768.0h0M633.6 744.6h0M633.8 723.4h0M633.9 724.7h0M634.0 731.5h0M634.2 750.9h0M634.4 735.7h0M634.5 731.5h0M634.7 744.6h0M634.8 737.1h0M635.0 738.6h0M635.1 730.1h0M635.3 747.7h0M635.4 749.3h0M635.6 744.6h0M635.8 755.8h0M635.9 752.5h0M636.1 712.2h0M636.2 738.6h0M636.4 755.8h0M636.5 757.5h0M636.7 738.6h0M636.8 734.3h0M637.0 732.9h0M637.1 741.5h0M637.3 744.6h0M637.6 740.1h0M637.8 746.1h0M637.9 735.7h0M638.1 724.7h0M638.2 764.4h0M638.4 754.1h0M638.5 732.9h0M638.7 759.2h0M638.8 724.7h0M639.0 764.4h0M639.1 722.1h0M639.3 750.9h0M639.5 728.7h0M639.6 743.0h0M639.8 737.1h0M639.9 769.9h0M640.1 752.5h0M640.2 738.6h0M640.4 759.2h0M640.5 755.8h0M640.7 749.3h0M640.8 754.1h0M641.0 737.1h0M641.1 759.2h0M641.3 754.1h0M641.5 743.0h0M641.6 746.1h0M641.8 766.2h0M641.9 747.7h0M642.1 738.6h0M642.2 735.7h0M642.4 750.9h0M642.5 747.7h0M642.7 768.0h0M642.8 757.5h0M643.0 752.5h0M643.1 747.7h0M643.3 741.5h0M643.5 762.6h0M643.6 757.5h0M643.8 738.6h0M643.9 755.8h0M644.1 768.0h0M644.2 755.8h0M644.4 766.2h0M644.5 764.4h0M644.7 768.0h0M644.9 750.9h0M645.0 738.6h0M645.2 750.9h0M645.3 773.6h0M645.5 777.5h0M645.6 741.5h0M645.8 750.9h0M645.9 766.2h0M646.1 764.4h0M646.2 744.6h0M646.4 752.5h0M646.5 757.5h0M646.7 768.0h0M646.9 759.2h0M647.0 754.1h0M647.2 771.8h0M647.3 764.4h0M647.5 747.7h0M647.6 773.6h0M647.8 769.9h0M647.9 775.6h0M648.1 764.4h0M648.2 738.6h0M648.4 755.8h0M648.5 752.5h0M648.7 743.0h0M648.9 768.0h0M649.0 766.2h0M649.2 762.6h0M649.3 773.6h0M649.5 754.1h0M649.6 773.6h0M649.8 766.2h0M649.9 768.0h0M650.1 762.6h0M650.2 740.1h0M650.4 764.4h0M650.5 762.6h0M650.7 750.9h0M650.9 771.8h0M651.0 785.7h0M651.2 769.9h0M651.3 792.1h0M651.5 749.3h0M651.6 769.9h0M651.8 768.0h0M651.9 755.8h0M652.1 775.6h0M652.2 787.8h0M652.4 771.8h0M652.6 755.8h0M652.7 779.5h0M652.9 773.6h0M653.0 764.4h0M653.2 781.5h0M653.3 766.2h0M653.5 777.5h0M653.6 773.6h0M653.8 769.9h0M654.0 777.5h0M654.1 764.4h0M654.2 752.5h0M654.4 769.9h0M654.6 801.3h0M654.7 781.5h0M654.9 769.9h0M655.0 777.5h0M655.2 787.8h0M655.3 796.6h0M655.5 787.8h0M655.6 768.0h0M655.8 775.6h0M656.0 766.2h0M656.1 757.5h0M656.3 775.6h0M656.4 759.2h0M656.6 777.5h0M656.7 764.4h0M656.9 808.6h0M657.0 775.6h0M657.2 783.6h0M657.3 764.4h0M657.5 787.8h0M657.6 769.9h0M657.8 801.3h0M658.0 816.3h0M658.1 768.0h0M658.3 803.7h0M658.6 813.7h0M658.7 803.7h0M658.9 794.4h0M659.0 777.5h0M659.2 771.8h0M659.3 783.6h0M659.5 747.7h0M659.6 801.3h0M659.8 796.6h0M660.0 783.6h0M660.1 768.0h0M660.3 783.6h0M660.4 779.5h0M660.6 794.4h0M660.7 754.1h0M660.9 819.0h0M661.0 760.9h0M661.2 783.6h0M661.4 768.0h0M661.5 779.5h0M661.7 783.6h0M661.8 785.7h0M662.0 773.6h0M662.1 777.5h0M662.3 783.6h0M662.4 759.2h0M662.6 787.8h0M662.7 811.1h0M662.9 779.5h0M663.0 773.6h0M663.4 796.6h0M663.5 792.1h0M663.7 790.0h0M663.8 779.5h0M664.0 801.3h0M664.1 777.5h0M664.3 785.7h0M664.4 773.6h0M664.6 762.6h0M664.7 785.7h0M664.9 798.9h0M665.0 781.5h0M665.2 779.5h0M665.4 811.1h0M665.5 779.5h0M665.7 794.4h0M665.8 779.5h0M666.0 811.1h0M666.1 773.6h0M666.3 783.6h0M666.4 803.7h0M666.6 794.4h0M666.9 787.8h0M667.0 811.1h0M667.2 806.1h0M667.4 781.5h0M667.5 803.7h0M667.7 798.9h0M667.8 785.7h0M668.0 787.8h0M668.1 781.5h0M668.3 796.6h0M668.4 808.6h0M668.6 803.7h0M668.8 790.0h0M668.9 798.9h0M669.1 806.1h0M669.2 798.9h0M669.4 794.4h0M669.5 781.5h0M669.7 792.1h0M669.8 801.3h0M670.0 796.6h0M670.3 811.1h0M670.4 808.6h0M670.6 792.1h0M670.8 787.8h0M670.9 779.5h0M671.1 801.3h0M671.2 773.6h0M671.4 796.6h0M671.5 775.6h0M671.7 808.6h0M671.8 783.6h0M672.0 785.7h0M672.1 827.4h0M672.3 811.1h0M672.5 798.9h0M672.6 813.7h0M672.8 811.1h0M672.9 796.6h0M673.1 806.1h0M673.2 787.8h0M673.4 803.7h0M673.5 792.1h0M673.7 833.4h0M673.8 794.4h0M674.0 830.4h0M674.1 779.5h0M674.3 806.1h0M674.5 796.6h0M674.6 790.0h0M674.8 794.4h0M674.9 777.5h0M675.1 796.6h0M675.2 790.0h0M675.4 811.1h0M675.5 781.5h0M675.7 813.7h0M675.8 783.6h0M676.0 811.1h0M676.1 794.4h0M676.3 783.6h0M676.5 803.7h0M676.6 839.6h0M676.8 811.1h0M676.9 781.5h0M677.1 821.8h0M677.2 787.8h0M677.4 803.7h0M677.5 819.0h0M677.7 816.3h0M677.9 779.5h0M678.0 824.6h0M678.1 813.7h0M678.3 796.6h0M678.5 813.7h0M678.6 808.6h0M678.8 790.0h0M678.9 816.3h0M679.4 824.6h0M679.5 779.5h0M679.7 813.7h0M679.9 808.6h0M680.0 816.3h0M680.2 833.4h0M680.3 806.1h0M680.5 813.7h0M680.6 806.1h0M680.8 821.8h0M680.9 827.4h0M681.1 801.3h0M681.2 806.1h0M681.5 811.1h0M681.7 801.3h0M681.9 785.7h0M682.0 824.6h0M682.2 830.4h0M682.3 803.7h0M682.5 830.4h0M682.6 813.7h0M682.8 830.4h0M682.9 811.1h0M683.1 813.7h0M683.2 808.6h0M683.4 806.1h0M683.5 787.8h0M683.7 833.4h0M683.9 811.1h0M684.0 803.7h0M684.2 816.3h0M684.3 798.9h0M684.5 836.4h0M684.6 808.6h0M684.8 830.4h0M684.9 816.3h0M685.1 824.6h0M685.2 836.4h0M685.4 794.4h0M685.6 833.4h0M685.7 813.7h0M686.0 821.8h0M686.2 816.3h0M686.3 790.0h0M686.5 849.5h0M686.6 827.4h0M686.8 839.6h0M686.9 813.7h0M687.1 806.1h0M687.2 824.6h0M687.4 849.5h0M687.6 806.1h0M687.7 821.8h0M687.9 816.3h0M688.0 827.4h0M688.2 824.6h0M688.3 833.4h0M688.5 830.4h0M688.6 819.0h0M688.8 833.4h0M689.0 849.5h0M689.1 808.6h0M689.3 819.0h0M689.4 813.7h0M689.6 830.4h0M689.7 849.5h0M689.9 803.7h0M690.0 833.4h0M690.2 808.6h0M690.3 827.4h0M690.5 821.8h0M690.6 833.4h0M691.0 803.7h0M691.1 860.2h0M691.3 824.6h0M691.4 833.4h0M691.6 827.4h0M691.7 821.8h0M691.9 836.4h0M692.0 833.4h0M692.3 824.6h0M692.5 833.4h0M692.6 816.3h0M692.8 819.0h0M693.0 794.4h0M693.1 821.8h0M693.3 816.3h0M693.4 833.4h0M693.6 856.5h0M693.7 839.6h0M693.9 813.7h0M694.0 836.4h0M694.2 830.4h0M694.4 846.1h0M694.5 842.8h0M694.6 836.4h0M694.8 821.8h0M695.0 867.9h0M695.1 816.3h0M695.3 827.4h0M695.4 849.5h0M695.6 813.7h0M695.7 864.0h0M695.9 849.5h0M696.0 852.9h0M696.2 839.6h0M696.4 798.9h0M696.7 811.1h0M696.8 830.4h0M697.0 849.5h0M697.1 824.6h0M697.3 813.7h0M697.4 836.4h0M697.6 824.6h0M697.7 813.7h0M697.9 833.4h0M698.0 839.6h0M698.2 852.9h0M698.4 846.1h0M698.5 846.1h0M698.7 860.2h0M698.8 833.4h0M699.0 836.4h0M699.1 856.5h0M699.3 827.4h0M699.4 849.5h0M699.6 856.5h0M699.7 836.4h0M699.9 856.5h0M700.0 827.4h0M700.2 836.4h0M700.4 830.4h0M700.5 852.9h0M700.8 827.4h0M701.0 839.6h0M701.1 860.2h0M701.3 856.5h0M701.4 864.0h0M701.6 830.4h0M701.8 824.6h0M701.9 876.0h0M702.1 860.2h0M702.2 864.0h0M702.4 846.1h0M702.5 864.0h0M702.7 852.9h0M702.8 846.1h0M703.0 833.4h0M703.1 864.0h0M703.3 867.9h0M703.4 849.5h0M703.6 846.1h0M703.8 852.9h0M703.9 871.9h0M704.1 860.2h0M704.2 824.6h0M704.4 860.2h0M704.5 864.0h0M704.7 846.1h0M705.1 860.2h0M705.3 884.7h0M705.5 836.4h0M705.6 880.3h0M705.8 871.9h0M705.9 884.7h0M706.1 842.8h0M706.2 860.2h0M706.4 864.0h0M706.5 846.1h0M706.7 871.9h0M706.8 836.4h0M707.0 894.0h0M707.1 871.9h0M707.3 876.0h0M707.5 871.9h0M707.6 849.5h0M707.8 852.9h0M707.9 839.6h0M708.1 849.5h0M708.2 856.5h0M708.4 889.2h0M708.5 836.4h0M708.7 856.5h0M708.8 836.4h0M709.0 867.9h0M709.1 864.0h0M709.5 867.9h0M709.6 880.3h0M709.9 849.5h0M710.1 867.9h0M710.2 864.0h0M710.4 842.8h0M710.5 856.5h0M710.7 898.9h0M710.9 860.2h0M711.0 889.2h0M711.1 860.2h0M711.3 894.0h0M711.5 849.5h0M711.6 867.9h0M711.8 849.5h0M711.9 856.5h0M712.1 846.1h0M712.4 856.5h0M712.5 889.2h0M712.7 856.5h0M712.9 836.4h0M713.0 864.0h0M713.2 898.9h0M713.3 860.2h0M713.6 867.9h0M713.8 884.7h0M713.9 856.5h0M714.1 876.0h0M714.2 880.3h0M714.5 860.2h0M714.7 849.5h0M714.9 846.1h0M715.0 909.3h0M715.2 884.7h0M715.3 889.2h0M715.5 860.2h0M715.6 884.7h0M715.8 839.6h0M715.9 867.9h0M716.1 884.7h0M716.2 864.0h0M716.4 860.2h0M716.5 849.5h0M716.7 880.3h0M716.9 876.0h0M717.0 909.3h0M717.2 876.0h0M717.3 860.2h0M717.5 884.7h0M717.6 898.9h0M717.9 876.0h0M718.1 880.3h0M718.2 876.0h0M718.4 864.0h0M718.6 849.5h0M718.7 864.0h0M718.9 884.7h0M719.0 860.2h0M719.2 884.7h0M719.3 876.0h0M719.6 876.0h0M719.8 894.0h0M720.1 889.2h0M720.2 864.0h0M720.4 884.7h0M720.6 904.0h0M720.7 876.0h0M720.9 889.2h0M721.0 867.9h0M721.2 894.0h0M721.3 880.3h0M721.5 920.7h0M721.6 846.1h0M721.8 884.7h0M722.0 860.2h0M722.1 898.9h0M722.3 884.7h0M722.4 926.7h0M722.6 914.9h0M722.7 864.0h0M722.9 876.0h0M723.0 904.0h0M723.2 920.7h0M723.3 904.0h0M723.5 898.9h0M723.6 880.3h0M723.8 926.7h0M724.0 904.0h0M724.1 898.9h0M724.3 880.3h0M724.4 871.9h0M724.6 914.9h0M724.7 856.5h0M724.9 884.7h0M725.0 880.3h0M725.2 898.9h0M725.5 884.7h0M725.6 880.3h0M725.8 871.9h0M726.0 898.9h0M726.1 914.9h0M726.3 871.9h0M726.4 864.0h0M726.6 898.9h0M726.7 894.0h0M726.9 914.9h0M727.0 876.0h0M727.2 894.0h0M727.3 876.0h0M727.5 889.2h0M728.0 860.2h0M728.1 871.9h0M728.3 914.9h0M728.4 904.0h0M728.6 880.3h0M728.7 889.2h0M729.0 909.3h0M729.2 904.0h0M729.5 904.0h0M729.7 876.0h0M729.8 880.3h0M730.0 889.2h0M730.1 894.0h0M730.3 898.9h0M730.4 920.7h0M730.6 898.9h0M730.7 904.0h0M730.9 894.0h0M731.2 884.7h0M731.4 904.0h0M731.5 894.0h0M731.7 898.9h0M731.8 909.3h0M732.0 880.3h0M732.1 884.7h0M732.3 909.3h0M732.4 889.2h0M732.6 884.7h0M732.7 894.0h0M733.0 909.3h0M733.2 894.0h0M733.4 909.3h0M733.5 909.3h0M733.7 926.7h0M733.8 914.9h0M734.0 880.3h0M734.1 914.9h0M734.3 898.9h0M734.4 884.7h0M734.6 898.9h0M734.8 867.9h0M734.9 884.7h0M735.0 914.9h0M735.2 939.8h0M735.4 898.9h0M735.5 880.3h0M735.7 914.9h0M735.8 867.9h0M736.0 926.7h0M736.3 904.0h0M736.4 876.0h0M736.6 914.9h0M736.8 926.7h0M736.9 939.8h0M737.1 926.7h0M737.2 904.0h0M737.4 933.1h0M737.5 933.1h0M737.7 898.9h0M737.8 926.7h0M738.0 904.0h0M738.1 884.7h0M738.3 904.0h0M738.6 909.3h0M738.8 904.0h0M738.9 939.8h0M739.1 920.7h0M739.2 909.3h0M739.4 904.0h0M739.5 894.0h0M739.7 933.1h0M739.8 884.7h0M740.0 904.0h0M740.1 894.0h0M740.3 889.2h0M740.5 933.1h0M740.6 914.9h0M740.8 939.8h0M740.9 914.9h0M741.1 909.3h0M741.4 954.3h0M741.5 884.7h0M741.7 898.9h0M741.8 954.3h0M742.0 909.3h0M742.3 920.7h0M742.5 904.0h0M742.6 939.8h0M742.8 920.7h0M742.9 939.8h0M743.1 904.0h0M743.2 920.7h0M743.4 946.8h0M743.5 926.7h0M743.7 920.7h0M743.8 909.3h0M744.1 914.9h0M744.3 904.0h0M744.5 926.7h0M744.6 933.1h0M744.9 920.7h0M745.1 962.2h0M745.2 889.2h0M745.4 926.7h0M745.5 909.3h0M745.7 914.9h0M745.9 979.6h0M746.0 898.9h0M746.2 933.1h0M746.3 904.0h0M746.5 926.7h0M746.6 880.3h0M746.8 970.6h0M746.9 889.2h0M747.1 939.8h0M747.2 926.7h0M747.4 946.8h0M747.5 926.7h0M747.7 871.9h0M747.9 926.7h0M748.2 939.8h0M748.3 946.8h0M748.5 904.0h0M748.6 926.7h0M748.8 904.0h0M748.9 926.7h0M749.1 914.9h0M749.2 946.8h0M749.4 933.1h0M749.5 933.1h0M749.7 946.8h0M749.9 904.0h0M750.0 939.8h0M750.2 946.8h0M750.3 926.7h0M750.5 909.3h0M750.6 926.7h0M750.8 946.8h0M750.9 933.1h0M751.1 946.8h0M751.2 939.8h0M751.4 946.8h0M751.5 920.7h0M751.7 933.1h0M751.9 914.9h0M752.0 939.8h0M752.3 904.0h0M752.5 946.8h0M752.6 898.9h0M752.8 920.7h0M752.9 904.0h0M753.1 909.3h0M753.4 933.1h0M753.6 876.0h0M753.7 970.6h0M753.9 933.1h0M754.2 898.9h0M754.3 909.3h0M754.5 954.3h0M754.6 920.7h0M754.8 954.3h0M755.0 939.8h0M755.1 920.7h0M755.2 962.2h0M755.4 946.8h0M755.6 954.3h0M755.7 939.8h0M755.9 933.1h0M756.0 920.7h0M756.2 946.8h0M756.3 909.3h0M756.5 962.2h0M756.6 904.0h0M756.8 939.8h0M757.1 904.0h0M757.3 939.8h0M757.4 914.9h0M757.6 939.8h0M757.7 909.3h0M757.9 954.3h0M758.0 939.8h0M758.2 946.8h0M758.3 954.3h0M758.5 939.8h0M758.6 920.7h0M758.8 933.1h0M759.0 939.8h0M759.1 926.7h0M759.3 904.0h0M759.4 926.7h0M759.6 926.7h0M759.9 914.9h0M760.0 946.8h0M760.2 939.8h0M760.3 898.9h0M760.5 939.8h0M760.6 962.2h0M760.8 954.3h0M761.0 999.6h0M761.1 926.7h0M761.3 962.2h0M761.4 926.7h0M761.6 933.1h0M761.9 954.3h0M762.0 920.7h0M762.2 962.2h0M762.4 933.1h0M762.5 926.7h0M762.7 999.6h0M762.8 933.1h0M763.0 904.0h0M763.1 933.1h0M763.3 962.2h0M763.4 946.8h0M763.6 946.8h0M763.7 933.1h0M764.0 946.8h0M764.2 970.6h0M764.4 933.1h0M764.5 926.7h0M764.7 914.9h0M764.8 962.2h0M765.0 939.8h0M765.1 909.3h0M765.3 904.0h0M765.4 946.8h0M765.6 946.8h0M765.7 933.1h0M765.9 894.0h0M766.0 933.1h0M766.2 954.3h0M766.4 933.1h0M766.5 904.0h0M766.7 970.6h0M767.0 939.8h0M767.1 962.2h0M767.3 954.3h0M767.4 920.7h0M767.6 939.8h0M767.8 989.2h0M767.9 933.1h0M768.0 962.2h0M768.2 909.3h0M768.4 970.6h0M768.5 970.6h0M768.7 946.8h0M768.8 989.2h0M769.0 954.3h0M769.1 933.1h0M769.3 954.3h0M769.4 939.8h0M769.6 979.6h0M769.8 904.0h0M769.9 933.1h0M770.1 926.7h0M770.2 920.7h0M770.4 939.8h0M770.5 954.3h0M770.7 946.8h0M770.8 954.3h0M771.0 926.7h0M771.1 939.8h0M771.3 920.7h0M771.5 989.2h0M771.6 926.7h0M771.8 933.1h0M771.9 939.8h0M772.1 954.3h0M772.4 962.2h0M772.5 939.8h0M772.7 970.6h0M773.0 926.7h0M773.1 954.3h0M773.3 914.9h0M773.5 939.8h0M773.6 926.7h0M773.8 946.8h0M773.9 926.7h0M774.1 954.3h0M774.4 926.7h0M774.5 904.0h0M774.7 962.2h0M774.8 970.6h0M775.0 962.2h0M775.1 939.8h0M775.3 970.6h0M775.5 962.2h0M775.6 946.8h0M775.8 962.2h0M775.9 970.6h0M776.1 946.8h0M776.2 970.6h0M776.4 898.9h0M776.5 946.8h0M777.1 979.6h0M777.3 933.1h0M777.5 962.2h0M777.6 999.6h0M777.9 962.2h0M778.1 933.1h0M778.2 926.7h0M778.4 970.6h0M778.5 970.6h0M778.7 979.6h0M778.9 970.6h0M779.0 999.6h0M779.2 962.2h0M779.3 926.7h0M779.5 946.8h0M779.6 979.6h0M779.8 962.2h0M779.9 920.7h0M780.1 933.1h0M780.2 946.8h0M780.4 954.3h0M780.5 946.8h0M780.7 970.6h0M780.9 962.2h0M781.0 970.6h0M781.3 946.8h0M781.5 989.2h0M781.6 954.3h0M781.8 939.8h0M781.9 970.6h0M782.1 954.3h0M782.5 954.3h0M782.7 970.6h0M782.9 914.9h0M783.0 970.6h0M783.2 979.6h0M783.3 962.2h0M783.5 954.3h0M783.6 954.3h0M783.8 979.6h0M783.9 939.8h0M784.1 989.2h0M784.2 939.8h0M784.4 962.2h0M784.5 970.6h0M784.7 954.3h0M784.9 962.2h0M785.2 970.6h0M785.3 939.8h0M785.6 989.2h0M785.9 939.8h0M786.1 946.8h0M786.6 933.1h0M786.7 954.3h0M787.2 989.2h0M787.3 946.8h0M787.5 970.6h0M787.6 962.2h0M787.8 920.7h0M788.1 999.6h0M788.2 946.8h0M788.4 962.2h0M788.6 920.7h0M788.7 979.6h0M788.9 989.2h0M789.0 962.2h0M789.2 979.6h0M789.5 989.2h0M789.6 946.8h0M789.8 999.6h0M790.0 989.2h0M790.1 954.3h0M790.3 962.2h0M790.6 979.6h0M790.7 999.6h0M791.0 979.6h0M791.2 970.6h0M791.3 962.2h0M791.5 979.6h0M791.6 962.2h0M791.8 970.6h0M792.1 999.6h0M792.3 946.8h0M792.4 999.6h0M792.6 962.2h0M792.7 999.6h0M793.0 939.8h0M793.3 970.6h0M793.5 979.6h0M794.0 970.6h0M794.1 954.3h0M794.3 979.6h0M794.6 962.2h0M794.7 979.6h0M794.9 970.6h0M795.0 989.2h0M795.2 939.8h0M795.4 970.6h0M795.5 962.2h0M795.8 979.6h0M796.3 999.6h0M796.4 926.7h0M796.6 939.8h0M796.9 999.6h0M797.0 970.6h0M797.4 954.3h0M797.5 989.2h0M797.7 970.6h0M797.8 989.2h0M798.0 954.3h0M798.1 989.2h0M798.3 970.6h0M798.4 954.3h0M798.6 999.6h0M798.7 979.6h0M798.9 933.1h0M799.0 970.6h0M799.2 989.2h0M799.4 970.6h0M799.5 962.2h0M799.7 989.2h0M799.8 954.3h0M800.1 979.6h0M800.3 970.6h0M800.4 989.2h0M800.6 989.2h0M800.7 970.6h0M801.2 962.2h0M801.4 946.8h0M801.5 970.6h0M801.7 989.2h0M802.0 979.6h0M802.1 999.6h0M802.3 979.6h0M802.4 999.6h0M802.6 989.2h0M802.8 970.6h0M802.9 962.2h0M803.1 989.2h0M803.2 970.6h0M803.5 999.6h0M803.7 989.2h0M804.0 979.6h0M804.4 989.2h0M804.8 979.6h0M805.2 989.2h0M805.4 999.6h0M805.5 954.3h0M805.8 999.6h0M806.0 979.6h0M806.1 970.6h0M806.3 979.6h0M806.6 970.6h0M806.8 979.6h0M806.9 954.3h0M807.1 962.2h0M807.4 999.6h0M807.5 999.6h0M807.8 979.6h0M808.0 999.6h0M808.1 954.3h0M808.3 962.2h0M808.5 979.6h0M808.6 999.6h0M808.8 989.2h0M808.9 979.6h0M809.1 970.6h0M809.2 999.6h0M809.4 954.3h0M809.5 979.6h0M809.8 962.2h0M810.0 999.6h0M810.1 954.3h0M810.3 962.2h0M810.6 979.6h0M810.8 999.6h0M810.9 989.2h0M811.5 970.6h0M811.7 954.3h0M812.0 989.2h0M812.3 979.6h0M812.5 970.6h0M812.9 999.6h0M813.2 989.2h0M813.5 989.2h0M814.5 999.6h0M814.6 979.6h0M815.2 989.2h0M815.4 999.6h0M815.5 970.6h0M815.9 979.6h0M816.0 970.6h0M816.3 979.6h0M816.6 989.2h0M816.9 979.6h0M817.1 999.6h0M817.5 979.6h0M818.0 989.2h0M818.5 970.6h0M818.8 970.6h0M819.1 999.6h0M819.2 962.2h0M819.4 970.6h0M820.8 989.2h0M821.4 999.6h0M821.7 999.6h0M823.0 999.6h0M823.7 999.6h0M823.9 989.2h0M824.5 999.6h0M825.3 989.2h0M825.7 999.6h0M827.3 989.2h0M827.9 989.2h0M829.4 979.6h0M829.6 970.6h0M830.2 999.6h0M830.7 989.2h0M830.8 999.6h0M832.0 999.6h0M832.8 999.6h0M833.4 979.6h0M834.5 999.6h0M835.8 999.6h0M836.4 979.6h0M842.5 989.2h0M844.4 999.6h0M848.2 999.6h0M848.9 999.6h0M852.9 979.6h0M853.3 989.2h0M855.2 989.2h0M793.3 1011.0H852.7M803.3 1023.4H834.7M875.3 1023.4H884.7M803.3 1037.1H877.7M803.3 1052.5H884.7M833.3 1069.9H889.7M907.3 1069.9H916.7M823.3 1090.0H866.7M873.3 1090.0H893.7M921.3 1090.0H930.7M823.3 1113.7H933.7M953.3 1113.7H959.7M979.3 1113.7H986.3M825.3 1142.8H995.7M841.3 1180.3H851.7M858.3 1180.3H1020.7M1033.3 1180.3H1043.7M1077.3 1180.3H1081.7M868.3 1233.1H1140.7M1257.3 1233.1H1262.7M903.3 1323.4H913.7M920.3 1323.4H1246.7M1285.3 1323.4H1286.7M1445.3 1323.4H1486.7M1853.3 1323.4H1866.7" fill="none" stroke="#32af69" stroke-width="11" stroke-linecap="round"/>
<path d="M1216.0 1142.8h0M1141.6 1180.3h0M1203.0 1233.1h0M1293.0 1233.1h0M1620.0 1233.1h0M1639.0 1233.1h0M1259.0 1323.4h0M1271.0 1323.4h0M1281.0 1323.4h0M1299.0 1323.4h0M1317.0 1323.4h0M1335.0 1323.4h0M1343.0 1323.4h0M1355.0 1323.4h0M1367.0 1323.4h0M1379.0 1323.4h0M1391.0 1323.4h0M1528.0 1323.4h0M1540.0 1323.4h0M1552.0 1323.4h0M1564.0 1323.4h0M1576.0 1323.4h0M1587.5 1323.4h0M1618.0 1323.4h0M1630.0 1323.4h0M1642.0 1323.4h0M1769.0 1323.4h0M1787.0 1323.4h0M1805.0 1323.4h0M1823.0 1323.4h0" fill="none" stroke="#32af69" stroke-width="11" stroke-linecap="round"/>
<path d="M757.7 871.3h0M753.5 887.7h0M764.0 898.0h0M779.2 902.8h0M798.5 920.0h0M798.5 932.5h0M815.6 946.2h0M822.5 969.0h0M843.8 988.2h0M857.0 998.5h0M867.2 1009.5h0M673.9 970.0h0" fill="none" stroke="#4a7a60" stroke-width="10" stroke-linecap="round"/><circle cx="848.1" cy="487.4" r="5" fill="#555555"/><circle cx="848.1" cy="579.2" r="5" fill="#dc3c4a"/><circle cx="848.1" cy="670.9" r="5" fill="#1e69e1"/><circle cx="848.1" cy="761.2" r="5" fill="#32af69"/></g>
<g filter="url(#bt)">
<path d="M225.0,1422.0V27.0H1960.0V1422.0Z" fill="none" stroke="#222" stroke-width="4.6" stroke-linejoin="miter"/><path d="M223.0,28.2H1962.0" fill="none" stroke="#222" stroke-width="3"/><path d="M225.0,1323.4h27 M225.0,1023.4h27 M225.0,723.4h27 M225.0,423.4h27 M225.0,123.4h27 M225.0,1413.7h13.5 M225.0,1390.0h13.5 M225.0,1369.9h13.5 M225.0,1352.5h13.5 M225.0,1337.1h13.5 M225.0,1233.1h13.5 M225.0,1180.3h13.5 M225.0,1142.8h13.5 M225.0,1113.7h13.5 M225.0,1090.0h13.5 M225.0,1069.9h13.5 M225.0,1052.5h13.5 M225.0,1037.1h13.5 M225.0,933.1h13.5 M225.0,880.3h13.5 M225.0,842.8h13.5 M225.0,813.7h13.5 M225.0,790.0h13.5 M225.0,769.9h13.5 M225.0,752.5h13.5 M225.0,737.1h13.5 M225.0,633.1h13.5 M225.0,580.3h13.5 M225.0,542.8h13.5 M225.0,513.7h13.5 M225.0,490.0h13.5 M225.0,469.9h13.5 M225.0,452.5h13.5 M225.0,437.1h13.5 M225.0,333.1h13.5 M225.0,280.3h13.5 M225.0,242.8h13.5 M225.0,213.7h13.5 M225.0,190.0h13.5 M225.0,169.9h13.5 M225.0,152.5h13.5 M225.0,137.1h13.5 M225.0,33.1h13.5 M225.0,1422.0v-28 M610.5,1422.0v-28 M996.0,1422.0v-28 M1381.5,1422.0v-28 M1767.0,1422.0v-28 M417.8,1422.0v-14 M803.2,1422.0v-14 M1188.8,1422.0v-14 M1574.2,1422.0v-14" stroke="#222" stroke-width="4.2" fill="none"/>
<g font-family="'Liberation Serif','Times New Roman',serif" fill="#111"><text><tspan x="119.1" y="1346.2" font-size="58">10</tspan><tspan x="175.4" y="1321.2" font-size="40">0</tspan></text><text><tspan x="119.1" y="1046.2" font-size="58">10</tspan><tspan x="177.1" y="1021.2" font-size="40">1</tspan></text><text><tspan x="119.1" y="746.2" font-size="58">10</tspan><tspan x="175.2" y="721.2" font-size="40">2</tspan></text><text><tspan x="119.1" y="446.2" font-size="58">10</tspan><tspan x="175.2" y="421.2" font-size="40">3</tspan></text><text><tspan x="119.1" y="146.2" font-size="58">10</tspan><tspan x="176.2" y="121.2" font-size="40">4</tspan></text><text x="225.3" y="1496.5" font-size="60" text-anchor="middle">0</text><text x="610.8" y="1496.5" font-size="60" text-anchor="middle">5</text><text x="996.3" y="1496.5" font-size="60" text-anchor="middle">10</text><text x="1381.8" y="1496.5" font-size="60" text-anchor="middle">15</text><text x="1767.3" y="1496.5" font-size="60" text-anchor="middle">20</text><text><tspan x="941.0" y="1610.5" font-size="73">Time (ms)</tspan></text><text transform="translate(84,935.5) rotate(-90)" x="0" y="0" font-size="73">Intensity (a.u.)</text><text><tspan x="410.8" y="147.0" font-size="72">K</tspan><tspan x="460.4" y="166.5" font-size="49">5</tspan><tspan x="487.5" y="147.0" font-size="72">La</tspan><tspan x="561.8" y="166.5" font-size="49">0.86</tspan><tspan x="649.6" y="147.0" font-size="72">(MoO</tspan><tspan x="827.0" y="166.5" font-size="49">4</tspan><tspan x="852.2" y="147.0" font-size="72">)</tspan><tspan x="875.8" y="166.5" font-size="49">4</tspan><tspan x="899.8" y="147.0" font-size="72">: 0.07(Sm</tspan><tspan x="1187.9" y="118.5" font-size="49">3+</tspan><tspan x="1240.4" y="147.0" font-size="72">,Ln</tspan><tspan x="1337.8" y="118.5" font-size="49">3+</tspan><tspan x="1389.3" y="147.0" font-size="72">)</tspan></text><text><tspan x="1533.2" y="194.6" font-size="73">λ</tspan><tspan x="1569.1" y="214.0" font-size="48">ex</tspan><tspan x="1631.5" y="197.6" font-size="80">=</tspan><tspan x="1692.5" y="194.6" font-size="73">401 nm</tspan></text><text><tspan x="1533.2" y="300.6" font-size="73">λ</tspan><tspan x="1569.1" y="319.5" font-size="48">em</tspan><tspan x="1625.5" y="303.6" font-size="80">=</tspan><tspan x="1688.1" y="300.6" font-size="73">600 nm</tspan></text><text><tspan x="939.9" y="510.5" font-size="68">7% Sm</tspan><tspan x="1138.0" y="482.5" font-size="45">3+</tspan><tspan x="1185.3" y="510.5" font-size="68">,</tspan><tspan x="1525.7" y="510.5" font-size="68">τ=1.3971 ms</tspan></text><text><tspan x="939.9" y="602.0" font-size="68">7% Sm</tspan><tspan x="1138.0" y="574.0" font-size="45">3+</tspan><tspan x="1194.6" y="602.0" font-size="68">+ 7% Sc</tspan><tspan x="1428.0" y="574.0" font-size="45">3+</tspan><tspan x="1475.3" y="602.0" font-size="68">,</tspan><tspan x="1527.4" y="602.0" font-size="68">τ=1.3941 ms</tspan></text><text><tspan x="939.6" y="693.6" font-size="68">7% Sm</tspan><tspan x="1138.0" y="665.6" font-size="45">3+</tspan><tspan x="1194.6" y="693.6" font-size="68">+ 7% Y</tspan><tspan x="1408.0" y="665.6" font-size="45">3+</tspan><tspan x="1457.3" y="693.6" font-size="68">,</tspan><tspan x="1525.3" y="693.6" font-size="68">τ=1.3843 ms</tspan></text><text><tspan x="939.6" y="785.3" font-size="68">7% Sm</tspan><tspan x="1137.7" y="757.3" font-size="45">3+</tspan><tspan x="1195.4" y="785.3" font-size="68">+ 7% Gd</tspan><tspan x="1444.0" y="757.3" font-size="45">3+</tspan><tspan x="1490.8" y="785.3" font-size="68">,</tspan><tspan x="1541.6" y="785.3" font-size="68">τ=1.7027 ms</tspan></text></g></g>
</svg></body></html>
